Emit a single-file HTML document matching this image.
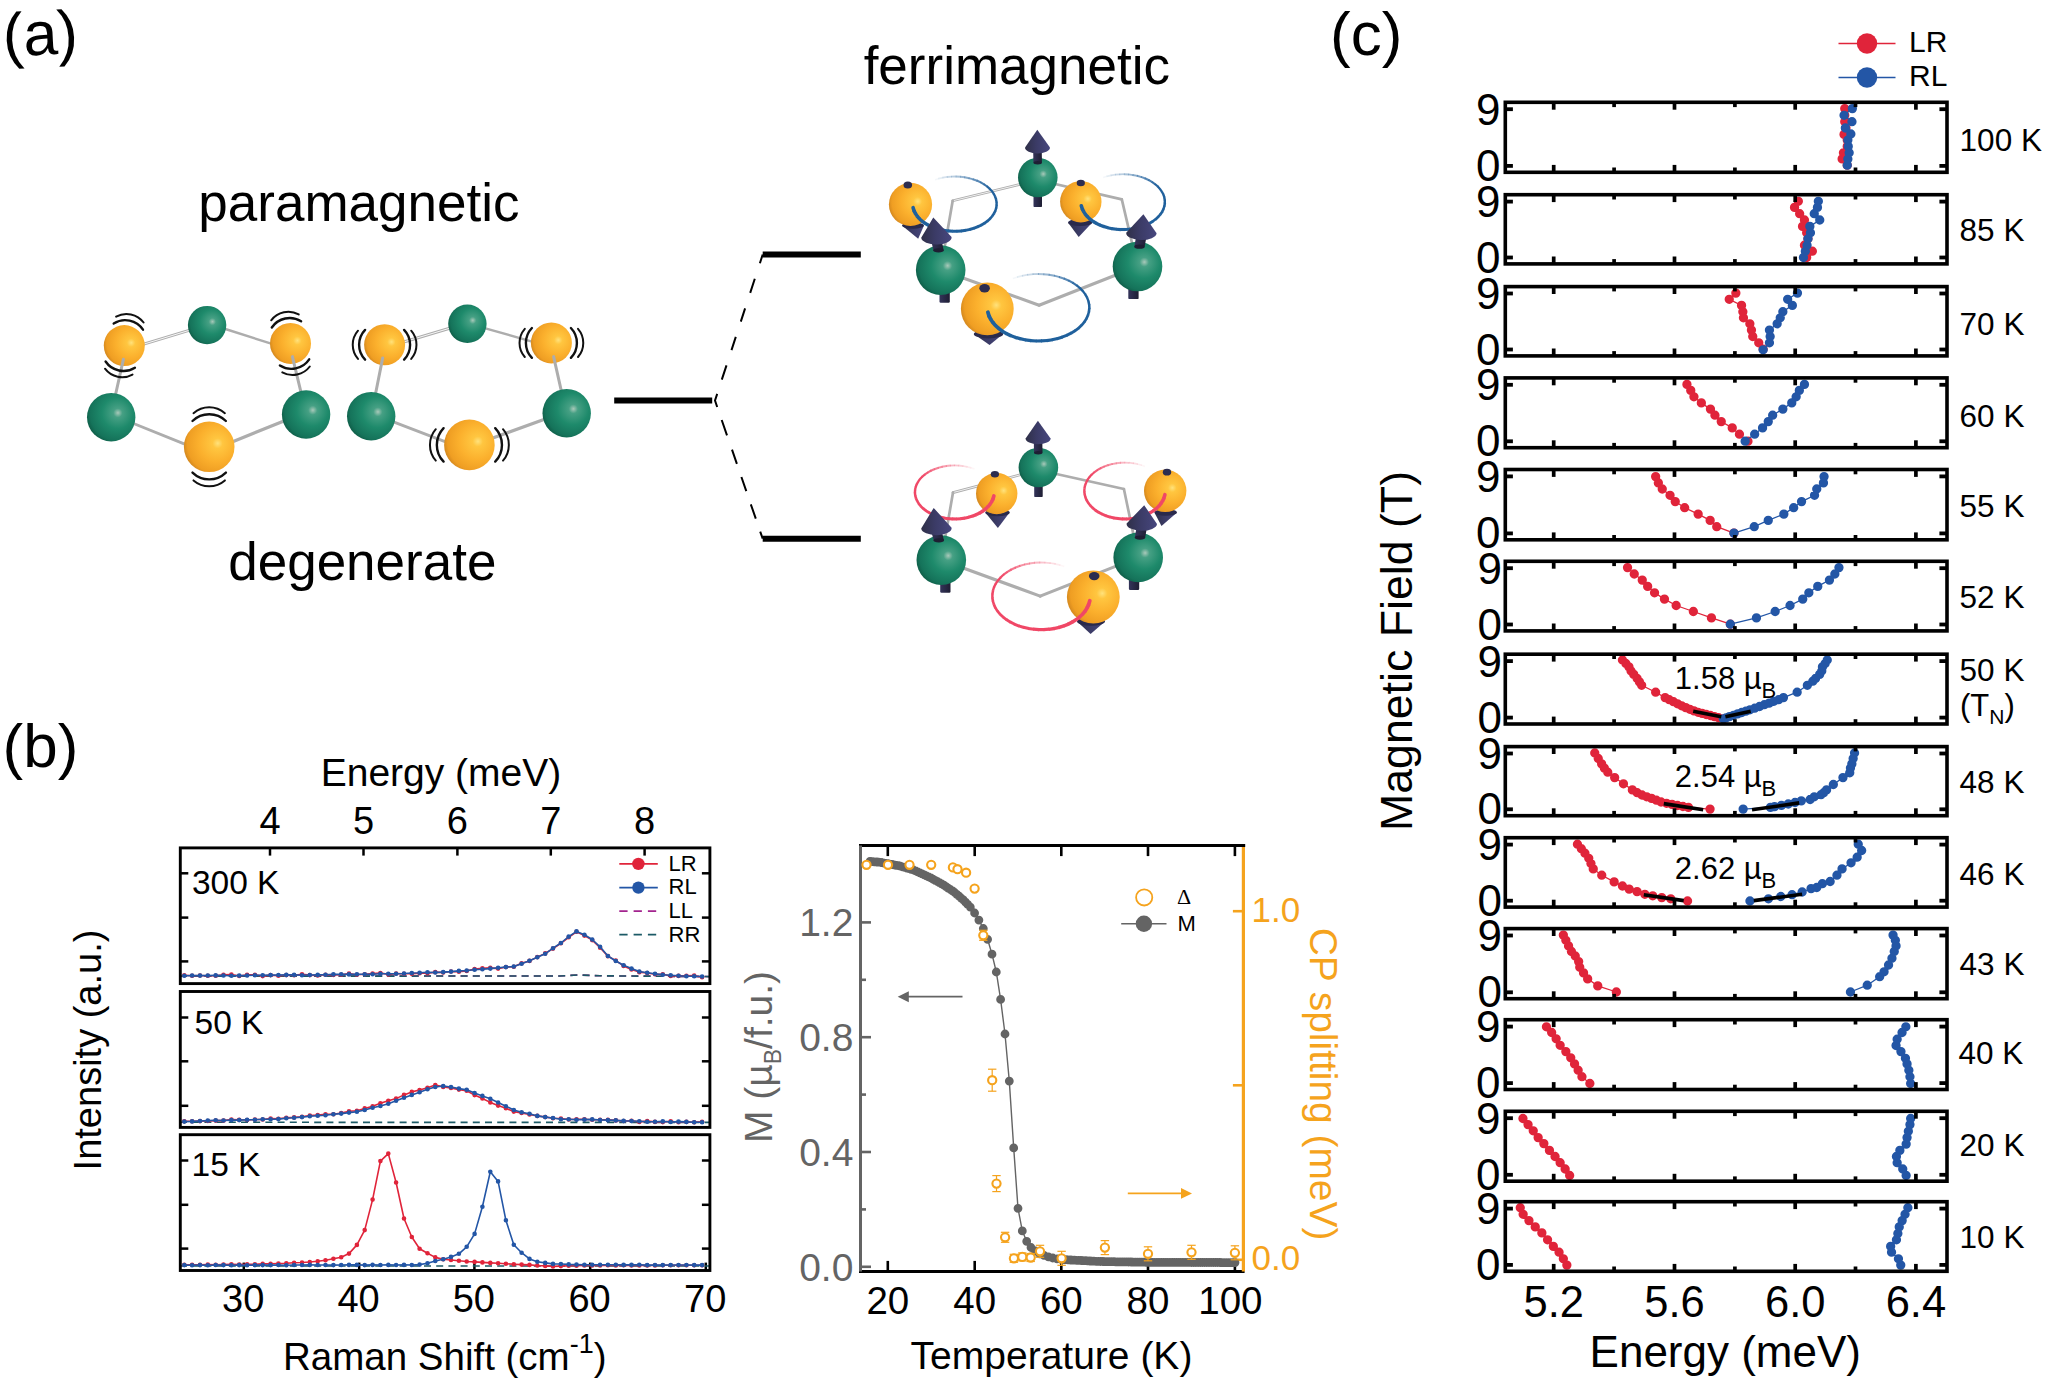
<!DOCTYPE html>
<html lang="en"><head><meta charset="utf-8"><title>Figure</title>
<style>html,body{margin:0;padding:0;background:#fff;overflow:hidden;}svg{display:block;font-family:"Liberation Sans", sans-serif;}</style></head><body>
<svg width="2048" height="1390" viewBox="0 0 2048 1390">
<defs>
<radialGradient id="gY" cx="0.64" cy="0.44" r="0.72" fx="0.67" fy="0.43">
<stop offset="0" stop-color="#FFE27C"/><stop offset="0.14" stop-color="#FFC640"/>
<stop offset="0.5" stop-color="#FBB02D"/><stop offset="0.8" stop-color="#EF9E23"/>
<stop offset="1" stop-color="#BC751A"/></radialGradient>
<radialGradient id="gG" cx="0.62" cy="0.42" r="0.72" fx="0.64" fy="0.41">
<stop offset="0" stop-color="#A9C9BA"/><stop offset="0.13" stop-color="#46A084"/>
<stop offset="0.45" stop-color="#1E8A6B"/><stop offset="0.78" stop-color="#15735A"/>
<stop offset="1" stop-color="#0A4C39"/></radialGradient>
<linearGradient id="gC" x1="0" x2="1" y1="0" y2="0">
<stop offset="0" stop-color="#2F3048"/><stop offset="0.45" stop-color="#3B3B66"/>
<stop offset="1" stop-color="#47477E"/></linearGradient>
<linearGradient id="gS" x1="0" x2="1" y1="0" y2="0">
<stop offset="0" stop-color="#34345A"/><stop offset="1" stop-color="#1E1E33"/></linearGradient>
</defs>
<rect width="2048" height="1390" fill="#fff"/>
<g id="panel-a"><text x="2.8" y="54.9" font-size="61.5" text-anchor="start" fill="#000" transform="rotate(-3 40.5 38.9)">(a)</text>
<text x="358.9" y="221.2" font-size="53" text-anchor="middle" fill="#000" >paramagnetic</text>
<text x="362.3" y="580" font-size="53" text-anchor="middle" fill="#000" >degenerate</text>
<text x="1016.8" y="83.7" font-size="53" text-anchor="middle" fill="#000" >ferrimagnetic</text>
<line x1="139.6" y1="345.4" x2="192.3" y2="329.4" stroke="#ADADAD" stroke-width="3.0" stroke-linecap="round"/><line x1="139.6" y1="345.4" x2="192.3" y2="329.4" stroke="#fff" stroke-width="0.8999999999999999" />
<line x1="222.2" y1="328" x2="274.4" y2="344.7" stroke="#ADADAD" stroke-width="2.4" stroke-linecap="round"/>
<circle cx="124.3" cy="345.6" r="20.5" fill="url(#gY)"/>
<circle cx="207.1" cy="325.1" r="19.2" fill="url(#gG)"/>
<circle cx="290.5" cy="343.4" r="20.5" fill="url(#gY)"/>
<line x1="123.4" y1="359.3" x2="115" y2="397" stroke="#ADADAD" stroke-width="3.0" stroke-linecap="round"/>
<line x1="292.4" y1="356.6" x2="301.8" y2="395.6" stroke="#ADADAD" stroke-width="3.0" stroke-linecap="round"/>
<line x1="129.2" y1="421.7" x2="189.1" y2="445.9" stroke="#ADADAD" stroke-width="2.8" stroke-linecap="round"/>
<line x1="229" y1="443.2" x2="288.9" y2="418.9" stroke="#ADADAD" stroke-width="3.2" stroke-linecap="round"/>
<circle cx="111.2" cy="417.2" r="24.2" fill="url(#gG)"/>
<circle cx="306.1" cy="414.5" r="24.2" fill="url(#gG)"/>
<circle cx="209.2" cy="446.8" r="25.3" fill="url(#gY)"/>
<path d="M113.7 323.5A21.5 21.5 0 0 1 143 329.7" fill="none" stroke="#111" stroke-width="2.4" stroke-linecap="round"/><path d="M116.1 316.6A21.5 21.5 0 0 1 143.6 322.5" fill="none" stroke="#111" stroke-width="2.0" stroke-linecap="round"/><path d="M134.9 367.7A21.5 21.5 0 0 1 105.6 361.5" fill="none" stroke="#111" stroke-width="2.4" stroke-linecap="round"/><path d="M132.5 374.6A21.5 21.5 0 0 1 105 368.7" fill="none" stroke="#111" stroke-width="2.0" stroke-linecap="round"/>
<path d="M271.8 327.5A21.5 21.5 0 0 1 301.1 321.3" fill="none" stroke="#111" stroke-width="2.4" stroke-linecap="round"/><path d="M271.2 320.3A21.5 21.5 0 0 1 298.7 314.4" fill="none" stroke="#111" stroke-width="2.0" stroke-linecap="round"/><path d="M309.2 359.3A21.5 21.5 0 0 1 279.9 365.5" fill="none" stroke="#111" stroke-width="2.4" stroke-linecap="round"/><path d="M309.8 366.5A21.5 21.5 0 0 1 282.3 372.4" fill="none" stroke="#111" stroke-width="2.0" stroke-linecap="round"/>
<path d="M192.5 421A24.0 24.0 0 0 1 225.9 421" fill="none" stroke="#111" stroke-width="2.4" stroke-linecap="round"/><path d="M193.5 413.2A24.0 24.0 0 0 1 224.9 413.2" fill="none" stroke="#111" stroke-width="2.0" stroke-linecap="round"/><path d="M225.9 472.6A24.0 24.0 0 0 1 192.5 472.6" fill="none" stroke="#111" stroke-width="2.4" stroke-linecap="round"/><path d="M224.9 480.4A24.0 24.0 0 0 1 193.5 480.4" fill="none" stroke="#111" stroke-width="2.0" stroke-linecap="round"/>
<line x1="401.3" y1="342.7" x2="452.1" y2="327.5" stroke="#ADADAD" stroke-width="3.0" stroke-linecap="round"/><line x1="401.3" y1="342.7" x2="452.1" y2="327.5" stroke="#fff" stroke-width="0.8999999999999999" />
<line x1="482.7" y1="327.6" x2="535.5" y2="342.6" stroke="#ADADAD" stroke-width="2.4" stroke-linecap="round"/>
<circle cx="384.6" cy="344.8" r="20.5" fill="url(#gY)"/>
<circle cx="467.4" cy="323.8" r="19.2" fill="url(#gG)"/>
<circle cx="551.4" cy="342.9" r="20.5" fill="url(#gY)"/>
<line x1="382.7" y1="357.9" x2="374.9" y2="397" stroke="#ADADAD" stroke-width="3.0" stroke-linecap="round"/>
<line x1="553.6" y1="356.6" x2="562.1" y2="394.3" stroke="#ADADAD" stroke-width="3.0" stroke-linecap="round"/>
<line x1="389.5" y1="420.4" x2="448.9" y2="443.1" stroke="#ADADAD" stroke-width="2.8" stroke-linecap="round"/>
<line x1="490.1" y1="438.9" x2="548.7" y2="417.8" stroke="#ADADAD" stroke-width="3.2" stroke-linecap="round"/>
<circle cx="371.2" cy="416.2" r="24.2" fill="url(#gG)"/>
<circle cx="566.7" cy="413.2" r="24.2" fill="url(#gG)"/>
<circle cx="469.4" cy="444.9" r="25.3" fill="url(#gY)"/>
<path d="M404.1 329.9A21.5 21.5 0 0 1 404.1 359.7" fill="none" stroke="#111" stroke-width="2.4" stroke-linecap="round"/><path d="M411.2 330.7A21.5 21.5 0 0 1 411.2 358.9" fill="none" stroke="#111" stroke-width="2.0" stroke-linecap="round"/><path d="M365.1 359.7A21.5 21.5 0 0 1 365.1 329.9" fill="none" stroke="#111" stroke-width="2.4" stroke-linecap="round"/><path d="M358 358.9A21.5 21.5 0 0 1 358 330.7" fill="none" stroke="#111" stroke-width="2.0" stroke-linecap="round"/>
<path d="M570.9 328A21.5 21.5 0 0 1 570.9 357.8" fill="none" stroke="#111" stroke-width="2.4" stroke-linecap="round"/><path d="M578 328.8A21.5 21.5 0 0 1 578 357" fill="none" stroke="#111" stroke-width="2.0" stroke-linecap="round"/><path d="M531.9 357.8A21.5 21.5 0 0 1 531.9 328" fill="none" stroke="#111" stroke-width="2.4" stroke-linecap="round"/><path d="M524.8 357A21.5 21.5 0 0 1 524.8 328.8" fill="none" stroke="#111" stroke-width="2.0" stroke-linecap="round"/>
<path d="M495.2 428.2A24.0 24.0 0 0 1 495.2 461.6" fill="none" stroke="#111" stroke-width="2.4" stroke-linecap="round"/><path d="M503 429.2A24.0 24.0 0 0 1 503 460.6" fill="none" stroke="#111" stroke-width="2.0" stroke-linecap="round"/><path d="M443.6 461.6A24.0 24.0 0 0 1 443.6 428.2" fill="none" stroke="#111" stroke-width="2.4" stroke-linecap="round"/><path d="M435.8 460.6A24.0 24.0 0 0 1 435.8 429.2" fill="none" stroke="#111" stroke-width="2.0" stroke-linecap="round"/>
<line x1="614.2" y1="400.5" x2="712.2" y2="400.5" stroke="#000" stroke-width="6" />
<line x1="762.7" y1="254.5" x2="860.8" y2="254.5" stroke="#000" stroke-width="6" />
<line x1="762.7" y1="538.7" x2="860.8" y2="538.7" stroke="#000" stroke-width="6" />
<path d="M762.7 254.5L759.9 263.2M754.8 278.7L750.2 292.9M745.1 308.4L740.8 321.6M735.8 336.9L731.5 350.1M726.5 365.4L721.8 379.6M717.2 393.9L715 400.5L717.2 407M721.7 420L727 435.4M732 449.7L736.9 463.9M741.4 477L746.3 491.2M750.8 504.3L755.8 518.6M760.2 531.6L762.7 538.7" fill="none" stroke="#000" stroke-width="2"/>
<line x1="1037.8" y1="180" x2="952.7" y2="200.8" stroke="#ADADAD" stroke-width="2.7" stroke-linecap="round"/><line x1="1037.8" y1="180" x2="952.7" y2="200.8" stroke="#fff" stroke-width="0.81" /><line x1="952.7" y1="200.8" x2="940.7" y2="270" stroke="#ADADAD" stroke-width="2.7" stroke-linecap="round"/><line x1="940.7" y1="270" x2="1039.1" y2="305.2" stroke="#ADADAD" stroke-width="3.1" stroke-linecap="round"/><line x1="1039.1" y1="305.2" x2="1137.5" y2="266.5" stroke="#ADADAD" stroke-width="3.1" stroke-linecap="round"/><line x1="1137.5" y1="266.5" x2="1121.8" y2="199.4" stroke="#ADADAD" stroke-width="2.7" stroke-linecap="round"/><line x1="1121.8" y1="199.4" x2="1037.8" y2="180" stroke="#ADADAD" stroke-width="2.7" stroke-linecap="round"/>
<rect x="1033.5" y="193.3" width="8.5" height="13.8" rx="1.2" fill="url(#gS)"/><circle cx="1037.8" cy="177.5" r="19.8" fill="url(#gG)"/><path d="M1033.4 162.7L1033.2 150.2L1041.8 150.2L1041.9 162.7Z" fill="url(#gS)"/><ellipse cx="1037.7" cy="162.7" rx="4.2" ry="1.7" fill="#1E1E33"/><path d="M1037.3 129.8L1025 147.6A12.5 5.8 0 0 0 1050 147.6Z" fill="url(#gC)"/>
<path d="M902 225.5L918.2 238.8L924 225.5Z" fill="url(#gC)"/><ellipse cx="913" cy="225.5" rx="11" ry="3.3" fill="#2A2A4C"/><circle cx="910.5" cy="204.4" r="21.6" fill="url(#gY)"/><ellipse cx="907.8" cy="184.9" rx="4.3" ry="3.5" fill="#2D2D50"/>
<path d="M1068 222.5L1078.7 237L1092.3 222.5Z" fill="url(#gC)"/><ellipse cx="1080.2" cy="222.5" rx="12.1" ry="3.6" fill="#2A2A4C"/><circle cx="1080.8" cy="201.7" r="20.7" fill="url(#gY)"/><ellipse cx="1080.8" cy="183" rx="4.1" ry="3.3" fill="#2D2D50"/>
<path d="M913.1 207.7L914.1 211" stroke="#1F609C" stroke-width="3.6" stroke-opacity="1.00" fill="none" stroke-linecap="round"/><path d="M914 210.5L915.5 213.7" stroke="#1F609C" stroke-width="3.6" stroke-opacity="1.00" fill="none"/><path d="M915.3 213.3L917.3 216.4" stroke="#1F609C" stroke-width="3.5" stroke-opacity="1.00" fill="none"/><path d="M917 216L919.5 218.9" stroke="#1F609C" stroke-width="3.5" stroke-opacity="1.00" fill="none"/><path d="M919.1 218.5L922.1 221.2" stroke="#1F609C" stroke-width="3.4" stroke-opacity="1.00" fill="none"/><path d="M921.7 220.8L925.1 223.3" stroke="#1F609C" stroke-width="3.4" stroke-opacity="1.00" fill="none"/><path d="M924.6 223L928.4 225.3" stroke="#1F609C" stroke-width="3.4" stroke-opacity="1.00" fill="none"/><path d="M927.9 225L932 226.9" stroke="#1F609C" stroke-width="3.3" stroke-opacity="1.00" fill="none"/><path d="M931.4 226.7L935.8 228.4" stroke="#1F609C" stroke-width="3.3" stroke-opacity="1.00" fill="none"/><path d="M935.2 228.2L939.9 229.5" stroke="#1F609C" stroke-width="3.2" stroke-opacity="1.00" fill="none"/><path d="M939.3 229.4L944.1 230.4" stroke="#1F609C" stroke-width="3.2" stroke-opacity="1.00" fill="none"/><path d="M943.4 230.3L948.4 231" stroke="#1F609C" stroke-width="3.1" stroke-opacity="1.00" fill="none"/><path d="M947.8 230.9L952.8 231.3" stroke="#1F609C" stroke-width="3.1" stroke-opacity="1.00" fill="none"/><path d="M952.2 231.3L957.3 231.2" stroke="#1F609C" stroke-width="3.1" stroke-opacity="1.00" fill="none"/><path d="M956.6 231.3L961.7 230.9" stroke="#1F609C" stroke-width="3" stroke-opacity="1.00" fill="none"/><path d="M961 231L966 230.3" stroke="#1F609C" stroke-width="3" stroke-opacity="1.00" fill="none"/><path d="M965.3 230.4L970.2 229.4" stroke="#1F609C" stroke-width="2.9" stroke-opacity="1.00" fill="none"/><path d="M969.6 229.5L974.2 228.2" stroke="#1F609C" stroke-width="2.9" stroke-opacity="1.00" fill="none"/><path d="M973.6 228.4L978 226.7" stroke="#1F609C" stroke-width="2.9" stroke-opacity="1.00" fill="none"/><path d="M977.4 226.9L981.6 225" stroke="#1F609C" stroke-width="2.8" stroke-opacity="1.00" fill="none"/><path d="M981 225.2L984.8 223" stroke="#1F609C" stroke-width="2.8" stroke-opacity="1.00" fill="none"/><path d="M984.3 223.3L987.7 220.8" stroke="#1F609C" stroke-width="2.7" stroke-opacity="1.00" fill="none"/><path d="M987.3 221.2L990.3 218.5" stroke="#1F609C" stroke-width="2.7" stroke-opacity="1.00" fill="none"/><path d="M989.9 218.8L992.4 216" stroke="#1F609C" stroke-width="2.6" stroke-opacity="1.00" fill="none"/><path d="M992.1 216.3L994.2 213.3" stroke="#1F609C" stroke-width="2.6" stroke-opacity="1.00" fill="none"/><path d="M993.9 213.7L995.5 210.5" stroke="#1F609C" stroke-width="2.6" stroke-opacity="1.00" fill="none"/><path d="M995.3 211L996.3 207.7" stroke="#1F609C" stroke-width="2.5" stroke-opacity="1.00" fill="none"/><path d="M996.2 208.1L996.7 204.8" stroke="#1F609C" stroke-width="2.5" stroke-opacity="1.00" fill="none"/><path d="M996.6 205.3L996.6 201.9" stroke="#1F609C" stroke-width="2.4" stroke-opacity="1.00" fill="none"/><path d="M996.6 202.4L996 199.1" stroke="#1F609C" stroke-width="2.4" stroke-opacity="1.00" fill="none"/><path d="M996.2 199.5L995 196.3" stroke="#1F609C" stroke-width="2.4" stroke-opacity="1.00" fill="none"/><path d="M995.2 196.7L993.6 193.5" stroke="#1F609C" stroke-width="2.3" stroke-opacity="1.00" fill="none"/><path d="M993.8 193.9L991.7 190.9" stroke="#1F609C" stroke-width="2.3" stroke-opacity="1.00" fill="none"/><path d="M992 191.3L989.4 188.5" stroke="#1F609C" stroke-width="2.2" stroke-opacity="1.00" fill="none"/><path d="M989.8 188.8L986.7 186.2" stroke="#1F609C" stroke-width="2.2" stroke-opacity="0.97" fill="none"/><path d="M987.1 186.5L983.7 184.1" stroke="#1F609C" stroke-width="2.1" stroke-opacity="0.89" fill="none"/><path d="M984.1 184.4L980.3 182.2" stroke="#1F609C" stroke-width="2.1" stroke-opacity="0.82" fill="none"/><path d="M980.8 182.4L976.7 180.5" stroke="#1F609C" stroke-width="2.1" stroke-opacity="0.74" fill="none"/><path d="M977.2 180.8L972.8 179.2" stroke="#1F609C" stroke-width="2" stroke-opacity="0.67" fill="none"/><path d="M973.4 179.4L968.7 178.1" stroke="#1F609C" stroke-width="2" stroke-opacity="0.60" fill="none"/><path d="M969.3 178.2L964.4 177.2" stroke="#1F609C" stroke-width="1.9" stroke-opacity="0.52" fill="none"/><path d="M965.1 177.3L960.1 176.7" stroke="#1F609C" stroke-width="1.9" stroke-opacity="0.45" fill="none"/><path d="M960.7 176.8L955.7 176.5" stroke="#1F609C" stroke-width="1.9" stroke-opacity="0.38" fill="none"/><path d="M956.3 176.5L951.2 176.6" stroke="#1F609C" stroke-width="1.8" stroke-opacity="0.31" fill="none"/><path d="M951.9 176.6L946.8 177" stroke="#1F609C" stroke-width="1.8" stroke-opacity="0.24" fill="none"/><path d="M947.5 176.9L942.5 177.7" stroke="#1F609C" stroke-width="1.7" stroke-opacity="0.18" fill="none"/><path d="M943.2 177.6L938.4 178.7" stroke="#1F609C" stroke-width="1.7" stroke-opacity="0.11" fill="none"/><path d="M939 178.5L935 179.7" stroke="#1F609C" stroke-width="1.6" stroke-opacity="0.05" fill="none"/>
<path d="M1081.3 205.8L1082.3 209" stroke="#1F609C" stroke-width="3.6" stroke-opacity="1.00" fill="none" stroke-linecap="round"/><path d="M1082.2 208.6L1083.7 211.8" stroke="#1F609C" stroke-width="3.6" stroke-opacity="1.00" fill="none"/><path d="M1083.5 211.4L1085.5 214.5" stroke="#1F609C" stroke-width="3.5" stroke-opacity="1.00" fill="none"/><path d="M1085.2 214.1L1087.7 217" stroke="#1F609C" stroke-width="3.5" stroke-opacity="1.00" fill="none"/><path d="M1087.3 216.6L1090.3 219.4" stroke="#1F609C" stroke-width="3.4" stroke-opacity="1.00" fill="none"/><path d="M1089.9 219L1093.3 221.5" stroke="#1F609C" stroke-width="3.4" stroke-opacity="1.00" fill="none"/><path d="M1092.8 221.2L1096.6 223.5" stroke="#1F609C" stroke-width="3.4" stroke-opacity="1.00" fill="none"/><path d="M1096.1 223.2L1100.2 225.2" stroke="#1F609C" stroke-width="3.3" stroke-opacity="1.00" fill="none"/><path d="M1099.6 225L1104 226.6" stroke="#1F609C" stroke-width="3.3" stroke-opacity="1.00" fill="none"/><path d="M1103.4 226.4L1108.1 227.8" stroke="#1F609C" stroke-width="3.2" stroke-opacity="1.00" fill="none"/><path d="M1107.5 227.7L1112.3 228.7" stroke="#1F609C" stroke-width="3.2" stroke-opacity="1.00" fill="none"/><path d="M1111.6 228.6L1116.6 229.3" stroke="#1F609C" stroke-width="3.1" stroke-opacity="1.00" fill="none"/><path d="M1116 229.2L1121 229.6" stroke="#1F609C" stroke-width="3.1" stroke-opacity="1.00" fill="none"/><path d="M1120.4 229.5L1125.5 229.5" stroke="#1F609C" stroke-width="3.1" stroke-opacity="1.00" fill="none"/><path d="M1124.8 229.6L1129.9 229.2" stroke="#1F609C" stroke-width="3" stroke-opacity="1.00" fill="none"/><path d="M1129.2 229.3L1134.2 228.6" stroke="#1F609C" stroke-width="3" stroke-opacity="1.00" fill="none"/><path d="M1133.5 228.7L1138.4 227.7" stroke="#1F609C" stroke-width="2.9" stroke-opacity="1.00" fill="none"/><path d="M1137.8 227.8L1142.4 226.4" stroke="#1F609C" stroke-width="2.9" stroke-opacity="1.00" fill="none"/><path d="M1141.8 226.6L1146.2 224.9" stroke="#1F609C" stroke-width="2.9" stroke-opacity="1.00" fill="none"/><path d="M1145.6 225.2L1149.8 223.2" stroke="#1F609C" stroke-width="2.8" stroke-opacity="1.00" fill="none"/><path d="M1149.2 223.5L1153 221.2" stroke="#1F609C" stroke-width="2.8" stroke-opacity="1.00" fill="none"/><path d="M1152.5 221.5L1155.9 219" stroke="#1F609C" stroke-width="2.7" stroke-opacity="1.00" fill="none"/><path d="M1155.5 219.4L1158.5 216.6" stroke="#1F609C" stroke-width="2.7" stroke-opacity="1.00" fill="none"/><path d="M1158.1 217L1160.6 214.1" stroke="#1F609C" stroke-width="2.6" stroke-opacity="1.00" fill="none"/><path d="M1160.3 214.5L1162.4 211.4" stroke="#1F609C" stroke-width="2.6" stroke-opacity="1.00" fill="none"/><path d="M1162.1 211.8L1163.7 208.6" stroke="#1F609C" stroke-width="2.6" stroke-opacity="1.00" fill="none"/><path d="M1163.5 209L1164.5 205.7" stroke="#1F609C" stroke-width="2.5" stroke-opacity="1.00" fill="none"/><path d="M1164.4 206.2L1164.9 202.8" stroke="#1F609C" stroke-width="2.5" stroke-opacity="1.00" fill="none"/><path d="M1164.8 203.3L1164.8 199.9" stroke="#1F609C" stroke-width="2.4" stroke-opacity="1.00" fill="none"/><path d="M1164.8 200.3L1164.2 197" stroke="#1F609C" stroke-width="2.4" stroke-opacity="1.00" fill="none"/><path d="M1164.4 197.4L1163.2 194.2" stroke="#1F609C" stroke-width="2.4" stroke-opacity="1.00" fill="none"/><path d="M1163.4 194.6L1161.8 191.4" stroke="#1F609C" stroke-width="2.3" stroke-opacity="1.00" fill="none"/><path d="M1162 191.8L1159.9 188.8" stroke="#1F609C" stroke-width="2.3" stroke-opacity="1.00" fill="none"/><path d="M1160.2 189.2L1157.6 186.3" stroke="#1F609C" stroke-width="2.2" stroke-opacity="1.00" fill="none"/><path d="M1158 186.6L1154.9 184" stroke="#1F609C" stroke-width="2.2" stroke-opacity="0.97" fill="none"/><path d="M1155.3 184.3L1151.9 181.8" stroke="#1F609C" stroke-width="2.1" stroke-opacity="0.89" fill="none"/><path d="M1152.3 182.1L1148.5 179.9" stroke="#1F609C" stroke-width="2.1" stroke-opacity="0.82" fill="none"/><path d="M1149 180.2L1144.9 178.3" stroke="#1F609C" stroke-width="2.1" stroke-opacity="0.74" fill="none"/><path d="M1145.4 178.5L1141 176.9" stroke="#1F609C" stroke-width="2" stroke-opacity="0.67" fill="none"/><path d="M1141.6 177.1L1136.9 175.8" stroke="#1F609C" stroke-width="2" stroke-opacity="0.60" fill="none"/><path d="M1137.5 175.9L1132.6 175" stroke="#1F609C" stroke-width="1.9" stroke-opacity="0.52" fill="none"/><path d="M1133.3 175.1L1128.3 174.4" stroke="#1F609C" stroke-width="1.9" stroke-opacity="0.45" fill="none"/><path d="M1128.9 174.5L1123.9 174.2" stroke="#1F609C" stroke-width="1.9" stroke-opacity="0.38" fill="none"/><path d="M1124.5 174.2L1119.4 174.3" stroke="#1F609C" stroke-width="1.8" stroke-opacity="0.31" fill="none"/><path d="M1120.1 174.3L1115 174.7" stroke="#1F609C" stroke-width="1.8" stroke-opacity="0.24" fill="none"/><path d="M1115.7 174.6L1110.7 175.4" stroke="#1F609C" stroke-width="1.7" stroke-opacity="0.18" fill="none"/><path d="M1111.4 175.3L1106.6 176.4" stroke="#1F609C" stroke-width="1.7" stroke-opacity="0.11" fill="none"/><path d="M1107.2 176.2L1103.2 177.4" stroke="#1F609C" stroke-width="1.6" stroke-opacity="0.05" fill="none"/>
<rect x="939.5" y="290.9" width="10.3" height="11.8" rx="1.2" fill="url(#gS)"/><circle cx="940.7" cy="270.1" r="24.8" fill="url(#gG)"/><path d="M933.4 250.3L931.2 240.6L941.6 240.6L943.7 250.3Z" fill="url(#gS)"/><ellipse cx="938.5" cy="250.3" rx="5.2" ry="2.1" fill="#1E1E33"/><path d="M933.3 217.4L921.2 237.8A15.2 7 0 0 0 951.6 237.1Z" fill="url(#gC)"/>
<rect x="1128.3" y="287.3" width="10.3" height="11.8" rx="1.2" fill="url(#gS)"/><circle cx="1137.5" cy="266.5" r="24.8" fill="url(#gG)"/><path d="M1134.3 246.7L1136.2 236.2L1146.6 236.2L1144.6 246.7Z" fill="url(#gS)"/><ellipse cx="1139.5" cy="246.7" rx="5.2" ry="2.1" fill="#1E1E33"/><path d="M1143.4 214.3L1126.2 232.8A15.2 7 0 0 0 1156.6 233.3Z" fill="url(#gC)"/>
<path d="M973.8 334L989.6 345L1003.1 334Z" fill="url(#gC)"/><ellipse cx="988.5" cy="334" rx="14.7" ry="4.4" fill="#2A2A4C"/><circle cx="987.3" cy="308.8" r="26.4" fill="url(#gY)"/><ellipse cx="984.6" cy="288.3" rx="5.3" ry="4.2" fill="#2D2D50"/>
<path d="M987.9 312.2L989.1 316.2" stroke="#1F609C" stroke-width="3.8" stroke-opacity="1.00" fill="none" stroke-linecap="round"/><path d="M988.9 315.7L990.8 319.5" stroke="#1F609C" stroke-width="3.8" stroke-opacity="1.00" fill="none"/><path d="M990.5 319L993 322.8" stroke="#1F609C" stroke-width="3.7" stroke-opacity="1.00" fill="none"/><path d="M992.7 322.3L995.7 325.9" stroke="#1F609C" stroke-width="3.7" stroke-opacity="1.00" fill="none"/><path d="M995.3 325.4L999 328.7" stroke="#1F609C" stroke-width="3.6" stroke-opacity="1.00" fill="none"/><path d="M998.4 328.3L1002.6 331.4" stroke="#1F609C" stroke-width="3.6" stroke-opacity="1.00" fill="none"/><path d="M1002 331L1006.6 333.7" stroke="#1F609C" stroke-width="3.5" stroke-opacity="1.00" fill="none"/><path d="M1006 333.4L1011.1 335.8" stroke="#1F609C" stroke-width="3.5" stroke-opacity="1.00" fill="none"/><path d="M1010.4 335.5L1015.8 337.5" stroke="#1F609C" stroke-width="3.4" stroke-opacity="1.00" fill="none"/><path d="M1015 337.3L1020.7 338.9" stroke="#1F609C" stroke-width="3.4" stroke-opacity="1.00" fill="none"/><path d="M1020 338.7L1025.9 340" stroke="#1F609C" stroke-width="3.3" stroke-opacity="1.00" fill="none"/><path d="M1025.1 339.8L1031.2 340.7" stroke="#1F609C" stroke-width="3.3" stroke-opacity="1.00" fill="none"/><path d="M1030.4 340.6L1036.6 341" stroke="#1F609C" stroke-width="3.2" stroke-opacity="1.00" fill="none"/><path d="M1035.8 341L1042 340.9" stroke="#1F609C" stroke-width="3.2" stroke-opacity="1.00" fill="none"/><path d="M1041.2 340.9L1047.4 340.5" stroke="#1F609C" stroke-width="3.2" stroke-opacity="1.00" fill="none"/><path d="M1046.6 340.6L1052.7 339.7" stroke="#1F609C" stroke-width="3.1" stroke-opacity="1.00" fill="none"/><path d="M1051.9 339.8L1057.8 338.5" stroke="#1F609C" stroke-width="3.1" stroke-opacity="1.00" fill="none"/><path d="M1057 338.7L1062.7 337" stroke="#1F609C" stroke-width="3" stroke-opacity="1.00" fill="none"/><path d="M1061.9 337.2L1067.3 335.1" stroke="#1F609C" stroke-width="3" stroke-opacity="1.00" fill="none"/><path d="M1066.6 335.4L1071.6 332.9" stroke="#1F609C" stroke-width="2.9" stroke-opacity="1.00" fill="none"/><path d="M1071 333.3L1075.5 330.5" stroke="#1F609C" stroke-width="2.9" stroke-opacity="1.00" fill="none"/><path d="M1074.9 330.9L1079 327.8" stroke="#1F609C" stroke-width="2.8" stroke-opacity="1.00" fill="none"/><path d="M1078.5 328.2L1082 324.8" stroke="#1F609C" stroke-width="2.8" stroke-opacity="1.00" fill="none"/><path d="M1081.6 325.3L1084.6 321.7" stroke="#1F609C" stroke-width="2.7" stroke-opacity="1.00" fill="none"/><path d="M1084.2 322.2L1086.6 318.4" stroke="#1F609C" stroke-width="2.7" stroke-opacity="1.00" fill="none"/><path d="M1086.3 318.9L1088.1 315" stroke="#1F609C" stroke-width="2.7" stroke-opacity="1.00" fill="none"/><path d="M1087.9 315.5L1089 311.5" stroke="#1F609C" stroke-width="2.6" stroke-opacity="1.00" fill="none"/><path d="M1088.9 312L1089.4 307.9" stroke="#1F609C" stroke-width="2.6" stroke-opacity="1.00" fill="none"/><path d="M1089.4 308.5L1089.2 304.4" stroke="#1F609C" stroke-width="2.5" stroke-opacity="1.00" fill="none"/><path d="M1089.2 304.9L1088.4 300.9" stroke="#1F609C" stroke-width="2.5" stroke-opacity="1.00" fill="none"/><path d="M1088.5 301.4L1087 297.4" stroke="#1F609C" stroke-width="2.4" stroke-opacity="1.00" fill="none"/><path d="M1087.3 297.9L1085.1 294.1" stroke="#1F609C" stroke-width="2.4" stroke-opacity="1.00" fill="none"/><path d="M1085.5 294.6L1082.7 290.9" stroke="#1F609C" stroke-width="2.3" stroke-opacity="1.00" fill="none"/><path d="M1083.1 291.4L1079.8 287.9" stroke="#1F609C" stroke-width="2.3" stroke-opacity="1.00" fill="none"/><path d="M1080.3 288.4L1076.4 285.2" stroke="#1F609C" stroke-width="2.2" stroke-opacity="0.97" fill="none"/><path d="M1076.9 285.6L1072.6 282.6" stroke="#1F609C" stroke-width="2.2" stroke-opacity="0.89" fill="none"/><path d="M1073.2 283L1068.4 280.4" stroke="#1F609C" stroke-width="2.1" stroke-opacity="0.82" fill="none"/><path d="M1069 280.7L1063.8 278.5" stroke="#1F609C" stroke-width="2.1" stroke-opacity="0.74" fill="none"/><path d="M1064.5 278.7L1059 276.9" stroke="#1F609C" stroke-width="2.1" stroke-opacity="0.67" fill="none"/><path d="M1059.8 277.1L1054 275.6" stroke="#1F609C" stroke-width="2" stroke-opacity="0.60" fill="none"/><path d="M1054.7 275.8L1048.7 274.7" stroke="#1F609C" stroke-width="2" stroke-opacity="0.52" fill="none"/><path d="M1049.5 274.8L1043.4 274.2" stroke="#1F609C" stroke-width="1.9" stroke-opacity="0.45" fill="none"/><path d="M1044.2 274.2L1038 274" stroke="#1F609C" stroke-width="1.9" stroke-opacity="0.38" fill="none"/><path d="M1038.8 274L1032.6 274.2" stroke="#1F609C" stroke-width="1.8" stroke-opacity="0.31" fill="none"/><path d="M1033.4 274.2L1027.2 274.8" stroke="#1F609C" stroke-width="1.8" stroke-opacity="0.24" fill="none"/><path d="M1028 274.7L1022 275.8" stroke="#1F609C" stroke-width="1.7" stroke-opacity="0.18" fill="none"/><path d="M1022.8 275.6L1017 277.1" stroke="#1F609C" stroke-width="1.7" stroke-opacity="0.11" fill="none"/><path d="M1017.7 276.9L1012.9 278.5" stroke="#1F609C" stroke-width="1.6" stroke-opacity="0.05" fill="none"/>
<line x1="1038.4" y1="470" x2="953" y2="492.6" stroke="#ADADAD" stroke-width="2.7" stroke-linecap="round"/><line x1="1038.4" y1="470" x2="953" y2="492.6" stroke="#fff" stroke-width="0.81" /><line x1="953" y1="492.6" x2="941.3" y2="560" stroke="#ADADAD" stroke-width="2.7" stroke-linecap="round"/><line x1="941.3" y1="560" x2="1040.2" y2="596.1" stroke="#ADADAD" stroke-width="3.1" stroke-linecap="round"/><line x1="1040.2" y1="596.1" x2="1138.2" y2="557.4" stroke="#ADADAD" stroke-width="3.1" stroke-linecap="round"/><line x1="1138.2" y1="557.4" x2="1123.9" y2="489" stroke="#ADADAD" stroke-width="2.7" stroke-linecap="round"/><line x1="1123.9" y1="489" x2="1038.4" y2="470" stroke="#ADADAD" stroke-width="2.7" stroke-linecap="round"/>
<rect x="1034.2" y="483.3" width="8.5" height="13.8" rx="1.2" fill="url(#gS)"/><circle cx="1038.4" cy="467.5" r="19.8" fill="url(#gG)"/><path d="M1034 452.7L1033.8 441L1042.3 441L1042.5 452.7Z" fill="url(#gS)"/><ellipse cx="1038.2" cy="452.7" rx="4.2" ry="1.7" fill="#1E1E33"/><path d="M1037.9 420.7L1025.6 438.4A12.5 5.8 0 0 0 1050.6 438.4Z" fill="url(#gC)"/>
<path d="M985.3 512.6L997.9 527.9L1009.6 512.6Z" fill="url(#gC)"/><ellipse cx="997.5" cy="512.6" rx="12.2" ry="3.6" fill="#2A2A4C"/><circle cx="996.7" cy="493.5" r="20.7" fill="url(#gY)"/><ellipse cx="994.9" cy="474.3" rx="4.1" ry="3.3" fill="#2D2D50"/>
<path d="M1154.4 512.4L1161.5 526L1177 512.4Z" fill="url(#gC)"/><ellipse cx="1165.7" cy="512.4" rx="11.3" ry="3.4" fill="#2A2A4C"/><circle cx="1165.2" cy="490.8" r="21.2" fill="url(#gY)"/><ellipse cx="1167" cy="472.2" rx="4.2" ry="3.4" fill="#2D2D50"/>
<path d="M993.9 495.9L992.9 499.1" stroke="#F04766" stroke-width="3.6" stroke-opacity="1.00" fill="none" stroke-linecap="round"/><path d="M993.1 498.7L991.6 501.8" stroke="#F04766" stroke-width="3.6" stroke-opacity="1.00" fill="none"/><path d="M991.9 501.4L989.9 504.4" stroke="#F04766" stroke-width="3.5" stroke-opacity="1.00" fill="none"/><path d="M990.2 504.1L987.8 506.9" stroke="#F04766" stroke-width="3.5" stroke-opacity="1.00" fill="none"/><path d="M988.1 506.5L985.3 509.2" stroke="#F04766" stroke-width="3.4" stroke-opacity="1.00" fill="none"/><path d="M985.7 508.9L982.5 511.3" stroke="#F04766" stroke-width="3.4" stroke-opacity="1.00" fill="none"/><path d="M982.9 511L979.3 513.2" stroke="#F04766" stroke-width="3.4" stroke-opacity="1.00" fill="none"/><path d="M979.8 512.9L975.9 514.8" stroke="#F04766" stroke-width="3.3" stroke-opacity="1.00" fill="none"/><path d="M976.4 514.6L972.2 516.2" stroke="#F04766" stroke-width="3.3" stroke-opacity="1.00" fill="none"/><path d="M972.8 516L968.3 517.3" stroke="#F04766" stroke-width="3.2" stroke-opacity="1.00" fill="none"/><path d="M968.9 517.2L964.3 518.2" stroke="#F04766" stroke-width="3.2" stroke-opacity="1.00" fill="none"/><path d="M964.9 518.1L960.2 518.7" stroke="#F04766" stroke-width="3.1" stroke-opacity="1.00" fill="none"/><path d="M960.8 518.7L956 519" stroke="#F04766" stroke-width="3.1" stroke-opacity="1.00" fill="none"/><path d="M956.6 519L951.8 518.9" stroke="#F04766" stroke-width="3.1" stroke-opacity="1.00" fill="none"/><path d="M952.4 519L947.6 518.6" stroke="#F04766" stroke-width="3" stroke-opacity="1.00" fill="none"/><path d="M948.2 518.7L943.5 517.9" stroke="#F04766" stroke-width="3" stroke-opacity="1.00" fill="none"/><path d="M944.1 518L939.5 517" stroke="#F04766" stroke-width="2.9" stroke-opacity="1.00" fill="none"/><path d="M940.1 517.1L935.7 515.8" stroke="#F04766" stroke-width="2.9" stroke-opacity="1.00" fill="none"/><path d="M936.3 516L932.1 514.3" stroke="#F04766" stroke-width="2.9" stroke-opacity="1.00" fill="none"/><path d="M932.6 514.5L928.8 512.6" stroke="#F04766" stroke-width="2.8" stroke-opacity="1.00" fill="none"/><path d="M929.3 512.8L925.7 510.6" stroke="#F04766" stroke-width="2.8" stroke-opacity="1.00" fill="none"/><path d="M926.2 510.9L923 508.4" stroke="#F04766" stroke-width="2.7" stroke-opacity="1.00" fill="none"/><path d="M923.4 508.8L920.6 506.1" stroke="#F04766" stroke-width="2.7" stroke-opacity="1.00" fill="none"/><path d="M921 506.4L918.6 503.6" stroke="#F04766" stroke-width="2.6" stroke-opacity="1.00" fill="none"/><path d="M918.9 503.9L917.1 500.9" stroke="#F04766" stroke-width="2.6" stroke-opacity="1.00" fill="none"/><path d="M917.3 501.3L915.9 498.2" stroke="#F04766" stroke-width="2.6" stroke-opacity="1.00" fill="none"/><path d="M916.1 498.6L915.2 495.4" stroke="#F04766" stroke-width="2.5" stroke-opacity="1.00" fill="none"/><path d="M915.3 495.8L914.9 492.6" stroke="#F04766" stroke-width="2.5" stroke-opacity="1.00" fill="none"/><path d="M914.9 493L915.1 489.7" stroke="#F04766" stroke-width="2.4" stroke-opacity="1.00" fill="none"/><path d="M915 490.1L915.7 486.9" stroke="#F04766" stroke-width="2.4" stroke-opacity="1.00" fill="none"/><path d="M915.6 487.3L916.7 484.1" stroke="#F04766" stroke-width="2.4" stroke-opacity="1.00" fill="none"/><path d="M916.6 484.6L918.2 481.5" stroke="#F04766" stroke-width="2.3" stroke-opacity="1.00" fill="none"/><path d="M918 481.9L920.1 478.9" stroke="#F04766" stroke-width="2.3" stroke-opacity="1.00" fill="none"/><path d="M919.8 479.3L922.4 476.5" stroke="#F04766" stroke-width="2.2" stroke-opacity="1.00" fill="none"/><path d="M922 476.9L925 474.3" stroke="#F04766" stroke-width="2.2" stroke-opacity="0.97" fill="none"/><path d="M924.6 474.6L928 472.3" stroke="#F04766" stroke-width="2.1" stroke-opacity="0.89" fill="none"/><path d="M927.5 472.6L931.3 470.5" stroke="#F04766" stroke-width="2.1" stroke-opacity="0.82" fill="none"/><path d="M930.8 470.8L934.8 469" stroke="#F04766" stroke-width="2.1" stroke-opacity="0.74" fill="none"/><path d="M934.3 469.2L938.6 467.7" stroke="#F04766" stroke-width="2" stroke-opacity="0.67" fill="none"/><path d="M938 467.9L942.5 466.7" stroke="#F04766" stroke-width="2" stroke-opacity="0.60" fill="none"/><path d="M941.9 466.8L946.6 466" stroke="#F04766" stroke-width="1.9" stroke-opacity="0.52" fill="none"/><path d="M946 466L950.7 465.5" stroke="#F04766" stroke-width="1.9" stroke-opacity="0.45" fill="none"/><path d="M950.1 465.6L954.9 465.4" stroke="#F04766" stroke-width="1.9" stroke-opacity="0.38" fill="none"/><path d="M954.3 465.4L959.1 465.6" stroke="#F04766" stroke-width="1.8" stroke-opacity="0.31" fill="none"/><path d="M958.5 465.5L963.3 466.1" stroke="#F04766" stroke-width="1.8" stroke-opacity="0.24" fill="none"/><path d="M962.7 466L967.4 466.8" stroke="#F04766" stroke-width="1.7" stroke-opacity="0.18" fill="none"/><path d="M966.8 466.7L971.3 467.9" stroke="#F04766" stroke-width="1.7" stroke-opacity="0.11" fill="none"/><path d="M970.7 467.7L974.5 469" stroke="#F04766" stroke-width="1.6" stroke-opacity="0.05" fill="none"/>
<path d="M1164.9 494.7L1163.9 498.1" stroke="#F04766" stroke-width="3.6" stroke-opacity="1.00" fill="none" stroke-linecap="round"/><path d="M1164.1 497.7L1162.6 500.9" stroke="#F04766" stroke-width="3.6" stroke-opacity="1.00" fill="none"/><path d="M1162.8 500.5L1160.8 503.7" stroke="#F04766" stroke-width="3.5" stroke-opacity="1.00" fill="none"/><path d="M1161.1 503.3L1158.7 506.3" stroke="#F04766" stroke-width="3.5" stroke-opacity="1.00" fill="none"/><path d="M1159 505.9L1156.1 508.7" stroke="#F04766" stroke-width="3.4" stroke-opacity="1.00" fill="none"/><path d="M1156.5 508.3L1153.2 510.9" stroke="#F04766" stroke-width="3.4" stroke-opacity="1.00" fill="none"/><path d="M1153.7 510.6L1150 512.9" stroke="#F04766" stroke-width="3.4" stroke-opacity="1.00" fill="none"/><path d="M1150.5 512.6L1146.5 514.6" stroke="#F04766" stroke-width="3.3" stroke-opacity="1.00" fill="none"/><path d="M1147.1 514.4L1142.8 516.1" stroke="#F04766" stroke-width="3.3" stroke-opacity="1.00" fill="none"/><path d="M1143.3 515.9L1138.8 517.3" stroke="#F04766" stroke-width="3.2" stroke-opacity="1.00" fill="none"/><path d="M1139.4 517.1L1134.7 518.1" stroke="#F04766" stroke-width="3.2" stroke-opacity="1.00" fill="none"/><path d="M1135.3 518L1130.5 518.7" stroke="#F04766" stroke-width="3.1" stroke-opacity="1.00" fill="none"/><path d="M1131.1 518.7L1126.2 519" stroke="#F04766" stroke-width="3.1" stroke-opacity="1.00" fill="none"/><path d="M1126.9 519L1121.9 518.9" stroke="#F04766" stroke-width="3.1" stroke-opacity="1.00" fill="none"/><path d="M1122.6 519L1117.7 518.6" stroke="#F04766" stroke-width="3" stroke-opacity="1.00" fill="none"/><path d="M1118.3 518.6L1113.5 517.9" stroke="#F04766" stroke-width="3" stroke-opacity="1.00" fill="none"/><path d="M1114.1 518L1109.4 516.9" stroke="#F04766" stroke-width="2.9" stroke-opacity="1.00" fill="none"/><path d="M1110 517.1L1105.5 515.6" stroke="#F04766" stroke-width="2.9" stroke-opacity="1.00" fill="none"/><path d="M1106.1 515.8L1101.9 514" stroke="#F04766" stroke-width="2.9" stroke-opacity="1.00" fill="none"/><path d="M1102.4 514.3L1098.5 512.2" stroke="#F04766" stroke-width="2.8" stroke-opacity="1.00" fill="none"/><path d="M1098.9 512.5L1095.3 510.2" stroke="#F04766" stroke-width="2.8" stroke-opacity="1.00" fill="none"/><path d="M1095.8 510.5L1092.6 507.9" stroke="#F04766" stroke-width="2.7" stroke-opacity="1.00" fill="none"/><path d="M1093 508.2L1090.1 505.4" stroke="#F04766" stroke-width="2.7" stroke-opacity="1.00" fill="none"/><path d="M1090.5 505.8L1088.1 502.8" stroke="#F04766" stroke-width="2.6" stroke-opacity="1.00" fill="none"/><path d="M1088.4 503.2L1086.5 500" stroke="#F04766" stroke-width="2.6" stroke-opacity="1.00" fill="none"/><path d="M1086.7 500.4L1085.3 497.1" stroke="#F04766" stroke-width="2.6" stroke-opacity="1.00" fill="none"/><path d="M1085.5 497.5L1084.6 494.2" stroke="#F04766" stroke-width="2.5" stroke-opacity="1.00" fill="none"/><path d="M1084.7 494.6L1084.3 491.2" stroke="#F04766" stroke-width="2.5" stroke-opacity="1.00" fill="none"/><path d="M1084.3 491.6L1084.5 488.2" stroke="#F04766" stroke-width="2.4" stroke-opacity="1.00" fill="none"/><path d="M1084.4 488.6L1085.1 485.2" stroke="#F04766" stroke-width="2.4" stroke-opacity="1.00" fill="none"/><path d="M1085 485.7L1086.2 482.3" stroke="#F04766" stroke-width="2.4" stroke-opacity="1.00" fill="none"/><path d="M1086 482.8L1087.7 479.5" stroke="#F04766" stroke-width="2.3" stroke-opacity="1.00" fill="none"/><path d="M1087.4 479.9L1089.6 476.8" stroke="#F04766" stroke-width="2.3" stroke-opacity="1.00" fill="none"/><path d="M1089.3 477.2L1091.9 474.3" stroke="#F04766" stroke-width="2.2" stroke-opacity="1.00" fill="none"/><path d="M1091.6 474.7L1094.6 472" stroke="#F04766" stroke-width="2.2" stroke-opacity="0.97" fill="none"/><path d="M1094.2 472.3L1097.7 469.9" stroke="#F04766" stroke-width="2.1" stroke-opacity="0.89" fill="none"/><path d="M1097.2 470.2L1101 468" stroke="#F04766" stroke-width="2.1" stroke-opacity="0.82" fill="none"/><path d="M1100.5 468.3L1104.6 466.4" stroke="#F04766" stroke-width="2.1" stroke-opacity="0.74" fill="none"/><path d="M1104 466.6L1108.4 465" stroke="#F04766" stroke-width="2" stroke-opacity="0.67" fill="none"/><path d="M1107.8 465.2L1112.5 463.9" stroke="#F04766" stroke-width="2" stroke-opacity="0.60" fill="none"/><path d="M1111.8 464.1L1116.6 463.2" stroke="#F04766" stroke-width="1.9" stroke-opacity="0.52" fill="none"/><path d="M1116 463.3L1120.9 462.7" stroke="#F04766" stroke-width="1.9" stroke-opacity="0.45" fill="none"/><path d="M1120.2 462.8L1125.2 462.6" stroke="#F04766" stroke-width="1.9" stroke-opacity="0.38" fill="none"/><path d="M1124.5 462.6L1129.4 462.8" stroke="#F04766" stroke-width="1.8" stroke-opacity="0.31" fill="none"/><path d="M1128.8 462.7L1133.7 463.3" stroke="#F04766" stroke-width="1.8" stroke-opacity="0.24" fill="none"/><path d="M1133 463.2L1137.8 464.1" stroke="#F04766" stroke-width="1.7" stroke-opacity="0.18" fill="none"/><path d="M1137.2 464L1141.8 465.2" stroke="#F04766" stroke-width="1.7" stroke-opacity="0.11" fill="none"/><path d="M1141.2 465L1145 466.4" stroke="#F04766" stroke-width="1.6" stroke-opacity="0.05" fill="none"/>
<rect x="940.2" y="580.9" width="10.3" height="11.8" rx="1.2" fill="url(#gS)"/><circle cx="941.3" cy="560.1" r="24.8" fill="url(#gG)"/><path d="M933.7 540.3L931.2 531.3L941.6 531.3L944 540.3Z" fill="url(#gS)"/><ellipse cx="938.8" cy="540.3" rx="5.2" ry="2.1" fill="#1E1E33"/><path d="M933.7 507.9L921.2 528.5A15.2 7 0 0 0 951.6 527.8Z" fill="url(#gC)"/>
<rect x="1128.9" y="578.2" width="10.3" height="11.8" rx="1.2" fill="url(#gS)"/><circle cx="1138.2" cy="557.4" r="24.8" fill="url(#gG)"/><path d="M1134.8 537.6L1136.6 527L1147 527L1145.2 537.6Z" fill="url(#gS)"/><ellipse cx="1140" cy="537.6" rx="5.2" ry="2.1" fill="#1E1E33"/><path d="M1144.2 505.2L1126.6 523.6A15.2 7 0 0 0 1157 524.1Z" fill="url(#gC)"/>
<path d="M1077.1 621.5L1090.6 634.1L1105 621.5Z" fill="url(#gC)"/><ellipse cx="1091" cy="621.5" rx="14" ry="4.2" fill="#2A2A4C"/><circle cx="1093.3" cy="597" r="26.4" fill="url(#gY)"/><ellipse cx="1094.2" cy="576.1" rx="5.3" ry="4.2" fill="#2D2D50"/>
<path d="M1089.8 600.8L1088.6 604.8" stroke="#F04766" stroke-width="3.8" stroke-opacity="1.00" fill="none" stroke-linecap="round"/><path d="M1088.8 604.3L1087 608.1" stroke="#F04766" stroke-width="3.8" stroke-opacity="1.00" fill="none"/><path d="M1087.3 607.6L1084.9 611.4" stroke="#F04766" stroke-width="3.7" stroke-opacity="1.00" fill="none"/><path d="M1085.3 610.9L1082.4 614.4" stroke="#F04766" stroke-width="3.7" stroke-opacity="1.00" fill="none"/><path d="M1082.8 614L1079.3 617.3" stroke="#F04766" stroke-width="3.6" stroke-opacity="1.00" fill="none"/><path d="M1079.8 616.9L1075.9 619.9" stroke="#F04766" stroke-width="3.6" stroke-opacity="1.00" fill="none"/><path d="M1076.4 619.5L1072 622.3" stroke="#F04766" stroke-width="3.5" stroke-opacity="1.00" fill="none"/><path d="M1072.6 621.9L1067.8 624.4" stroke="#F04766" stroke-width="3.5" stroke-opacity="1.00" fill="none"/><path d="M1068.5 624.1L1063.3 626.1" stroke="#F04766" stroke-width="3.4" stroke-opacity="1.00" fill="none"/><path d="M1064 625.9L1058.6 627.5" stroke="#F04766" stroke-width="3.4" stroke-opacity="1.00" fill="none"/><path d="M1059.3 627.3L1053.7 628.6" stroke="#F04766" stroke-width="3.3" stroke-opacity="1.00" fill="none"/><path d="M1054.4 628.5L1048.6 629.3" stroke="#F04766" stroke-width="3.3" stroke-opacity="1.00" fill="none"/><path d="M1049.4 629.2L1043.5 629.7" stroke="#F04766" stroke-width="3.2" stroke-opacity="1.00" fill="none"/><path d="M1044.3 629.6L1038.3 629.6" stroke="#F04766" stroke-width="3.2" stroke-opacity="1.00" fill="none"/><path d="M1039.1 629.7L1033.2 629.2" stroke="#F04766" stroke-width="3.2" stroke-opacity="1.00" fill="none"/><path d="M1034 629.3L1028.1 628.5" stroke="#F04766" stroke-width="3.1" stroke-opacity="1.00" fill="none"/><path d="M1028.9 628.6L1023.3 627.3" stroke="#F04766" stroke-width="3.1" stroke-opacity="1.00" fill="none"/><path d="M1024 627.5L1018.6 625.9" stroke="#F04766" stroke-width="3" stroke-opacity="1.00" fill="none"/><path d="M1019.2 626.1L1014.1 624.1" stroke="#F04766" stroke-width="3" stroke-opacity="1.00" fill="none"/><path d="M1014.8 624.3L1010 621.9" stroke="#F04766" stroke-width="2.9" stroke-opacity="1.00" fill="none"/><path d="M1010.6 622.3L1006.2 619.5" stroke="#F04766" stroke-width="2.9" stroke-opacity="1.00" fill="none"/><path d="M1006.7 619.9L1002.8 616.9" stroke="#F04766" stroke-width="2.8" stroke-opacity="1.00" fill="none"/><path d="M1003.3 617.3L999.8 614" stroke="#F04766" stroke-width="2.8" stroke-opacity="1.00" fill="none"/><path d="M1000.2 614.4L997.3 610.9" stroke="#F04766" stroke-width="2.7" stroke-opacity="1.00" fill="none"/><path d="M997.6 611.4L995.3 607.6" stroke="#F04766" stroke-width="2.7" stroke-opacity="1.00" fill="none"/><path d="M995.5 608.1L993.8 604.2" stroke="#F04766" stroke-width="2.7" stroke-opacity="1.00" fill="none"/><path d="M994 604.7L992.8 600.8" stroke="#F04766" stroke-width="2.6" stroke-opacity="1.00" fill="none"/><path d="M992.9 601.3L992.3 597.2" stroke="#F04766" stroke-width="2.6" stroke-opacity="1.00" fill="none"/><path d="M992.4 597.8L992.4 593.7" stroke="#F04766" stroke-width="2.5" stroke-opacity="1.00" fill="none"/><path d="M992.4 594.2L993.1 590.2" stroke="#F04766" stroke-width="2.5" stroke-opacity="1.00" fill="none"/><path d="M992.9 590.7L994.2 586.7" stroke="#F04766" stroke-width="2.4" stroke-opacity="1.00" fill="none"/><path d="M994 587.2L995.9 583.4" stroke="#F04766" stroke-width="2.4" stroke-opacity="1.00" fill="none"/><path d="M995.7 583.9L998.1 580.2" stroke="#F04766" stroke-width="2.3" stroke-opacity="1.00" fill="none"/><path d="M997.8 580.7L1000.8 577.2" stroke="#F04766" stroke-width="2.3" stroke-opacity="1.00" fill="none"/><path d="M1000.4 577.6L1004 574.3" stroke="#F04766" stroke-width="2.2" stroke-opacity="0.97" fill="none"/><path d="M1003.5 574.7L1007.5 571.8" stroke="#F04766" stroke-width="2.2" stroke-opacity="0.89" fill="none"/><path d="M1007 572.1L1011.4 569.5" stroke="#F04766" stroke-width="2.1" stroke-opacity="0.82" fill="none"/><path d="M1010.8 569.8L1015.7 567.5" stroke="#F04766" stroke-width="2.1" stroke-opacity="0.74" fill="none"/><path d="M1015 567.7L1020.2 565.8" stroke="#F04766" stroke-width="2.1" stroke-opacity="0.67" fill="none"/><path d="M1019.5 566L1025 564.4" stroke="#F04766" stroke-width="2" stroke-opacity="0.60" fill="none"/><path d="M1024.3 564.6L1030 563.4" stroke="#F04766" stroke-width="2" stroke-opacity="0.52" fill="none"/><path d="M1029.2 563.5L1035 562.8" stroke="#F04766" stroke-width="1.9" stroke-opacity="0.45" fill="none"/><path d="M1034.3 562.8L1040.2 562.5" stroke="#F04766" stroke-width="1.9" stroke-opacity="0.38" fill="none"/><path d="M1039.4 562.5L1045.3 562.6" stroke="#F04766" stroke-width="1.8" stroke-opacity="0.31" fill="none"/><path d="M1044.6 562.6L1050.5 563.1" stroke="#F04766" stroke-width="1.8" stroke-opacity="0.24" fill="none"/><path d="M1049.7 563L1055.5 563.9" stroke="#F04766" stroke-width="1.7" stroke-opacity="0.18" fill="none"/><path d="M1054.7 563.8L1060.3 565.1" stroke="#F04766" stroke-width="1.7" stroke-opacity="0.11" fill="none"/><path d="M1059.6 564.9L1064.3 566.4" stroke="#F04766" stroke-width="1.6" stroke-opacity="0.05" fill="none"/></g>
<g id="panel-b"><line x1="180.3" y1="873.3" x2="188.3" y2="873.3" stroke="#000" stroke-width="2.5" />
<line x1="709.9" y1="873.3" x2="701.9" y2="873.3" stroke="#000" stroke-width="2.5" />
<line x1="180.3" y1="917.6" x2="188.3" y2="917.6" stroke="#000" stroke-width="2.5" />
<line x1="709.9" y1="917.6" x2="701.9" y2="917.6" stroke="#000" stroke-width="2.5" />
<line x1="180.3" y1="961.4" x2="188.3" y2="961.4" stroke="#000" stroke-width="2.5" />
<line x1="709.9" y1="961.4" x2="701.9" y2="961.4" stroke="#000" stroke-width="2.5" />
<line x1="180.3" y1="1017.5" x2="188.3" y2="1017.5" stroke="#000" stroke-width="2.5" />
<line x1="709.9" y1="1017.5" x2="701.9" y2="1017.5" stroke="#000" stroke-width="2.5" />
<line x1="180.3" y1="1061.3" x2="188.3" y2="1061.3" stroke="#000" stroke-width="2.5" />
<line x1="709.9" y1="1061.3" x2="701.9" y2="1061.3" stroke="#000" stroke-width="2.5" />
<line x1="180.3" y1="1105.8" x2="188.3" y2="1105.8" stroke="#000" stroke-width="2.5" />
<line x1="709.9" y1="1105.8" x2="701.9" y2="1105.8" stroke="#000" stroke-width="2.5" />
<line x1="180.3" y1="1160.5" x2="188.3" y2="1160.5" stroke="#000" stroke-width="2.5" />
<line x1="709.9" y1="1160.5" x2="701.9" y2="1160.5" stroke="#000" stroke-width="2.5" />
<line x1="180.3" y1="1204.8" x2="188.3" y2="1204.8" stroke="#000" stroke-width="2.5" />
<line x1="709.9" y1="1204.8" x2="701.9" y2="1204.8" stroke="#000" stroke-width="2.5" />
<line x1="180.3" y1="1248.6" x2="188.3" y2="1248.6" stroke="#000" stroke-width="2.5" />
<line x1="709.9" y1="1248.6" x2="701.9" y2="1248.6" stroke="#000" stroke-width="2.5" />
<line x1="243.8" y1="1270.5" x2="243.8" y2="1262.6" stroke="#000" stroke-width="2.5" />
<line x1="359.2" y1="1270.5" x2="359.2" y2="1262.6" stroke="#000" stroke-width="2.5" />
<line x1="474.4" y1="1270.5" x2="474.4" y2="1262.6" stroke="#000" stroke-width="2.5" />
<line x1="590.2" y1="1270.5" x2="590.2" y2="1262.6" stroke="#000" stroke-width="2.5" />
<line x1="705.8" y1="1270.5" x2="705.8" y2="1262.6" stroke="#000" stroke-width="2.5" />
<polyline fill="none" stroke="#A3238E" stroke-width="1.6" points="180,976.2 560,976 578,975 600,975.8 710,976.6" stroke-dasharray="7 5.2"/>
<polyline fill="none" stroke="#1C5A66" stroke-width="1.6" points="180,976.2 560,976 578,975 600,975.8 710,976.6" stroke-dasharray="7 5.2"/>
<polyline fill="none" stroke="#E0243A" stroke-width="1.6" points="184.3,975.3 192.1,975.8 200,975.5 207.8,975.8 215.7,975.8 223.5,974.7 231.4,974.6 239.2,976 247.1,974.9 254.9,974.8 262.8,976.1 270.6,975.1 278.4,975.8 286.3,975.1 294.1,975.3 302,974.3 309.8,975.1 317.7,975.4 325.5,974.7 333.4,975 341.2,974.7 349,973.5 356.9,974.7 364.7,974.3 372.6,973.6 380.4,973 388.3,974.4 396.1,973.6 404,973.8 411.8,973.8 419.6,973.2 427.5,973.3 435.3,972.1 443.2,972.5 451,971.5 458.9,971.8 466.7,971 474.6,969 482.4,968.4 490.3,967.9 498.1,968.6 505.9,967 513.8,966.7 521.6,963.3 529.5,960.9 537.3,957.1 545.2,953.4 553,948.6 560.9,943.3 568.7,937.3 576.5,931.8 584.4,935.6 592.2,940.1 600.1,947.7 607.9,956.1 615.8,960.6 623.6,965.9 631.5,969.5 639.3,972.1 647.2,973 655,974.3 662.8,974.2 670.7,976 678.5,975.9 686.4,975.7 694.2,975.6 702.1,977.3" stroke-linejoin="round"/><path fill="#E0243A" d="M182 975.3a2.3 2.3 0 1 0 4.6 0a2.3 2.3 0 1 0 -4.6 0zM189.8 975.8a2.3 2.3 0 1 0 4.6 0a2.3 2.3 0 1 0 -4.6 0zM197.7 975.5a2.3 2.3 0 1 0 4.6 0a2.3 2.3 0 1 0 -4.6 0zM205.5 975.8a2.3 2.3 0 1 0 4.6 0a2.3 2.3 0 1 0 -4.6 0zM213.4 975.8a2.3 2.3 0 1 0 4.6 0a2.3 2.3 0 1 0 -4.6 0zM221.2 974.7a2.3 2.3 0 1 0 4.6 0a2.3 2.3 0 1 0 -4.6 0zM229.1 974.6a2.3 2.3 0 1 0 4.6 0a2.3 2.3 0 1 0 -4.6 0zM236.9 976a2.3 2.3 0 1 0 4.6 0a2.3 2.3 0 1 0 -4.6 0zM244.8 974.9a2.3 2.3 0 1 0 4.6 0a2.3 2.3 0 1 0 -4.6 0zM252.6 974.8a2.3 2.3 0 1 0 4.6 0a2.3 2.3 0 1 0 -4.6 0zM260.4 976.1a2.3 2.3 0 1 0 4.6 0a2.3 2.3 0 1 0 -4.6 0zM268.3 975.1a2.3 2.3 0 1 0 4.6 0a2.3 2.3 0 1 0 -4.6 0zM276.1 975.8a2.3 2.3 0 1 0 4.6 0a2.3 2.3 0 1 0 -4.6 0zM284 975.1a2.3 2.3 0 1 0 4.6 0a2.3 2.3 0 1 0 -4.6 0zM291.8 975.3a2.3 2.3 0 1 0 4.6 0a2.3 2.3 0 1 0 -4.6 0zM299.7 974.3a2.3 2.3 0 1 0 4.6 0a2.3 2.3 0 1 0 -4.6 0zM307.5 975.1a2.3 2.3 0 1 0 4.6 0a2.3 2.3 0 1 0 -4.6 0zM315.4 975.4a2.3 2.3 0 1 0 4.6 0a2.3 2.3 0 1 0 -4.6 0zM323.2 974.7a2.3 2.3 0 1 0 4.6 0a2.3 2.3 0 1 0 -4.6 0zM331.1 975a2.3 2.3 0 1 0 4.6 0a2.3 2.3 0 1 0 -4.6 0zM338.9 974.7a2.3 2.3 0 1 0 4.6 0a2.3 2.3 0 1 0 -4.6 0zM346.7 973.5a2.3 2.3 0 1 0 4.6 0a2.3 2.3 0 1 0 -4.6 0zM354.6 974.7a2.3 2.3 0 1 0 4.6 0a2.3 2.3 0 1 0 -4.6 0zM362.4 974.3a2.3 2.3 0 1 0 4.6 0a2.3 2.3 0 1 0 -4.6 0zM370.3 973.6a2.3 2.3 0 1 0 4.6 0a2.3 2.3 0 1 0 -4.6 0zM378.1 973a2.3 2.3 0 1 0 4.6 0a2.3 2.3 0 1 0 -4.6 0zM386 974.4a2.3 2.3 0 1 0 4.6 0a2.3 2.3 0 1 0 -4.6 0zM393.8 973.6a2.3 2.3 0 1 0 4.6 0a2.3 2.3 0 1 0 -4.6 0zM401.7 973.8a2.3 2.3 0 1 0 4.6 0a2.3 2.3 0 1 0 -4.6 0zM409.5 973.8a2.3 2.3 0 1 0 4.6 0a2.3 2.3 0 1 0 -4.6 0zM417.3 973.2a2.3 2.3 0 1 0 4.6 0a2.3 2.3 0 1 0 -4.6 0zM425.2 973.3a2.3 2.3 0 1 0 4.6 0a2.3 2.3 0 1 0 -4.6 0zM433 972.1a2.3 2.3 0 1 0 4.6 0a2.3 2.3 0 1 0 -4.6 0zM440.9 972.5a2.3 2.3 0 1 0 4.6 0a2.3 2.3 0 1 0 -4.6 0zM448.7 971.5a2.3 2.3 0 1 0 4.6 0a2.3 2.3 0 1 0 -4.6 0zM456.6 971.8a2.3 2.3 0 1 0 4.6 0a2.3 2.3 0 1 0 -4.6 0zM464.4 971a2.3 2.3 0 1 0 4.6 0a2.3 2.3 0 1 0 -4.6 0zM472.3 969a2.3 2.3 0 1 0 4.6 0a2.3 2.3 0 1 0 -4.6 0zM480.1 968.4a2.3 2.3 0 1 0 4.6 0a2.3 2.3 0 1 0 -4.6 0zM488 967.9a2.3 2.3 0 1 0 4.6 0a2.3 2.3 0 1 0 -4.6 0zM495.8 968.6a2.3 2.3 0 1 0 4.6 0a2.3 2.3 0 1 0 -4.6 0zM503.6 967a2.3 2.3 0 1 0 4.6 0a2.3 2.3 0 1 0 -4.6 0zM511.5 966.7a2.3 2.3 0 1 0 4.6 0a2.3 2.3 0 1 0 -4.6 0zM519.3 963.3a2.3 2.3 0 1 0 4.6 0a2.3 2.3 0 1 0 -4.6 0zM527.2 960.9a2.3 2.3 0 1 0 4.6 0a2.3 2.3 0 1 0 -4.6 0zM535 957.1a2.3 2.3 0 1 0 4.6 0a2.3 2.3 0 1 0 -4.6 0zM542.9 953.4a2.3 2.3 0 1 0 4.6 0a2.3 2.3 0 1 0 -4.6 0zM550.7 948.6a2.3 2.3 0 1 0 4.6 0a2.3 2.3 0 1 0 -4.6 0zM558.6 943.3a2.3 2.3 0 1 0 4.6 0a2.3 2.3 0 1 0 -4.6 0zM566.4 937.3a2.3 2.3 0 1 0 4.6 0a2.3 2.3 0 1 0 -4.6 0zM574.2 931.8a2.3 2.3 0 1 0 4.6 0a2.3 2.3 0 1 0 -4.6 0zM582.1 935.6a2.3 2.3 0 1 0 4.6 0a2.3 2.3 0 1 0 -4.6 0zM589.9 940.1a2.3 2.3 0 1 0 4.6 0a2.3 2.3 0 1 0 -4.6 0zM597.8 947.7a2.3 2.3 0 1 0 4.6 0a2.3 2.3 0 1 0 -4.6 0zM605.6 956.1a2.3 2.3 0 1 0 4.6 0a2.3 2.3 0 1 0 -4.6 0zM613.5 960.6a2.3 2.3 0 1 0 4.6 0a2.3 2.3 0 1 0 -4.6 0zM621.3 965.9a2.3 2.3 0 1 0 4.6 0a2.3 2.3 0 1 0 -4.6 0zM629.2 969.5a2.3 2.3 0 1 0 4.6 0a2.3 2.3 0 1 0 -4.6 0zM637 972.1a2.3 2.3 0 1 0 4.6 0a2.3 2.3 0 1 0 -4.6 0zM644.9 973a2.3 2.3 0 1 0 4.6 0a2.3 2.3 0 1 0 -4.6 0zM652.7 974.3a2.3 2.3 0 1 0 4.6 0a2.3 2.3 0 1 0 -4.6 0zM660.5 974.2a2.3 2.3 0 1 0 4.6 0a2.3 2.3 0 1 0 -4.6 0zM668.4 976a2.3 2.3 0 1 0 4.6 0a2.3 2.3 0 1 0 -4.6 0zM676.2 975.9a2.3 2.3 0 1 0 4.6 0a2.3 2.3 0 1 0 -4.6 0zM684.1 975.7a2.3 2.3 0 1 0 4.6 0a2.3 2.3 0 1 0 -4.6 0zM691.9 975.6a2.3 2.3 0 1 0 4.6 0a2.3 2.3 0 1 0 -4.6 0zM699.8 977.3a2.3 2.3 0 1 0 4.6 0a2.3 2.3 0 1 0 -4.6 0z" />
<polyline fill="none" stroke="#2356A6" stroke-width="1.6" points="184.3,975.7 192.1,975.5 200,975.6 207.8,975.5 215.7,975.4 223.5,975.5 231.4,975.7 239.2,975.6 247.1,975.5 254.9,975.2 262.8,975.3 270.6,975.1 278.4,975 286.3,974.9 294.1,974.9 302,975.2 309.8,975 317.7,974.9 325.5,974.8 333.4,974.4 341.2,974.3 349,974.4 356.9,974.3 364.7,974.3 372.6,974.2 380.4,973.7 388.3,973.8 396.1,973.7 404,973.5 411.8,973 419.6,972.8 427.5,972.3 435.3,972.5 443.2,972.1 451,971.6 458.9,970.9 466.7,970.5 474.6,969.7 482.4,969.2 490.3,968.6 498.1,967.8 505.9,967.1 513.8,966.5 521.6,963.7 529.5,960.7 537.3,957.3 545.2,953.8 553,948.2 560.9,943 568.7,936.6 576.5,931.4 584.4,934.8 592.2,939.5 600.1,946.8 607.9,956 615.8,961 623.6,965.2 631.5,968.6 639.3,971.5 647.2,972.8 655,973.8 662.8,974.8 670.7,975.3 678.5,975.8 686.4,976.3 694.2,976.2 702.1,976.5" stroke-linejoin="round"/><path fill="#2356A6" d="M182 975.7a2.3 2.3 0 1 0 4.6 0a2.3 2.3 0 1 0 -4.6 0zM189.8 975.5a2.3 2.3 0 1 0 4.6 0a2.3 2.3 0 1 0 -4.6 0zM197.7 975.6a2.3 2.3 0 1 0 4.6 0a2.3 2.3 0 1 0 -4.6 0zM205.5 975.5a2.3 2.3 0 1 0 4.6 0a2.3 2.3 0 1 0 -4.6 0zM213.4 975.4a2.3 2.3 0 1 0 4.6 0a2.3 2.3 0 1 0 -4.6 0zM221.2 975.5a2.3 2.3 0 1 0 4.6 0a2.3 2.3 0 1 0 -4.6 0zM229.1 975.7a2.3 2.3 0 1 0 4.6 0a2.3 2.3 0 1 0 -4.6 0zM236.9 975.6a2.3 2.3 0 1 0 4.6 0a2.3 2.3 0 1 0 -4.6 0zM244.8 975.5a2.3 2.3 0 1 0 4.6 0a2.3 2.3 0 1 0 -4.6 0zM252.6 975.2a2.3 2.3 0 1 0 4.6 0a2.3 2.3 0 1 0 -4.6 0zM260.4 975.3a2.3 2.3 0 1 0 4.6 0a2.3 2.3 0 1 0 -4.6 0zM268.3 975.1a2.3 2.3 0 1 0 4.6 0a2.3 2.3 0 1 0 -4.6 0zM276.1 975a2.3 2.3 0 1 0 4.6 0a2.3 2.3 0 1 0 -4.6 0zM284 974.9a2.3 2.3 0 1 0 4.6 0a2.3 2.3 0 1 0 -4.6 0zM291.8 974.9a2.3 2.3 0 1 0 4.6 0a2.3 2.3 0 1 0 -4.6 0zM299.7 975.2a2.3 2.3 0 1 0 4.6 0a2.3 2.3 0 1 0 -4.6 0zM307.5 975a2.3 2.3 0 1 0 4.6 0a2.3 2.3 0 1 0 -4.6 0zM315.4 974.9a2.3 2.3 0 1 0 4.6 0a2.3 2.3 0 1 0 -4.6 0zM323.2 974.8a2.3 2.3 0 1 0 4.6 0a2.3 2.3 0 1 0 -4.6 0zM331.1 974.4a2.3 2.3 0 1 0 4.6 0a2.3 2.3 0 1 0 -4.6 0zM338.9 974.3a2.3 2.3 0 1 0 4.6 0a2.3 2.3 0 1 0 -4.6 0zM346.7 974.4a2.3 2.3 0 1 0 4.6 0a2.3 2.3 0 1 0 -4.6 0zM354.6 974.3a2.3 2.3 0 1 0 4.6 0a2.3 2.3 0 1 0 -4.6 0zM362.4 974.3a2.3 2.3 0 1 0 4.6 0a2.3 2.3 0 1 0 -4.6 0zM370.3 974.2a2.3 2.3 0 1 0 4.6 0a2.3 2.3 0 1 0 -4.6 0zM378.1 973.7a2.3 2.3 0 1 0 4.6 0a2.3 2.3 0 1 0 -4.6 0zM386 973.8a2.3 2.3 0 1 0 4.6 0a2.3 2.3 0 1 0 -4.6 0zM393.8 973.7a2.3 2.3 0 1 0 4.6 0a2.3 2.3 0 1 0 -4.6 0zM401.7 973.5a2.3 2.3 0 1 0 4.6 0a2.3 2.3 0 1 0 -4.6 0zM409.5 973a2.3 2.3 0 1 0 4.6 0a2.3 2.3 0 1 0 -4.6 0zM417.3 972.8a2.3 2.3 0 1 0 4.6 0a2.3 2.3 0 1 0 -4.6 0zM425.2 972.3a2.3 2.3 0 1 0 4.6 0a2.3 2.3 0 1 0 -4.6 0zM433 972.5a2.3 2.3 0 1 0 4.6 0a2.3 2.3 0 1 0 -4.6 0zM440.9 972.1a2.3 2.3 0 1 0 4.6 0a2.3 2.3 0 1 0 -4.6 0zM448.7 971.6a2.3 2.3 0 1 0 4.6 0a2.3 2.3 0 1 0 -4.6 0zM456.6 970.9a2.3 2.3 0 1 0 4.6 0a2.3 2.3 0 1 0 -4.6 0zM464.4 970.5a2.3 2.3 0 1 0 4.6 0a2.3 2.3 0 1 0 -4.6 0zM472.3 969.7a2.3 2.3 0 1 0 4.6 0a2.3 2.3 0 1 0 -4.6 0zM480.1 969.2a2.3 2.3 0 1 0 4.6 0a2.3 2.3 0 1 0 -4.6 0zM488 968.6a2.3 2.3 0 1 0 4.6 0a2.3 2.3 0 1 0 -4.6 0zM495.8 967.8a2.3 2.3 0 1 0 4.6 0a2.3 2.3 0 1 0 -4.6 0zM503.6 967.1a2.3 2.3 0 1 0 4.6 0a2.3 2.3 0 1 0 -4.6 0zM511.5 966.5a2.3 2.3 0 1 0 4.6 0a2.3 2.3 0 1 0 -4.6 0zM519.3 963.7a2.3 2.3 0 1 0 4.6 0a2.3 2.3 0 1 0 -4.6 0zM527.2 960.7a2.3 2.3 0 1 0 4.6 0a2.3 2.3 0 1 0 -4.6 0zM535 957.3a2.3 2.3 0 1 0 4.6 0a2.3 2.3 0 1 0 -4.6 0zM542.9 953.8a2.3 2.3 0 1 0 4.6 0a2.3 2.3 0 1 0 -4.6 0zM550.7 948.2a2.3 2.3 0 1 0 4.6 0a2.3 2.3 0 1 0 -4.6 0zM558.6 943a2.3 2.3 0 1 0 4.6 0a2.3 2.3 0 1 0 -4.6 0zM566.4 936.6a2.3 2.3 0 1 0 4.6 0a2.3 2.3 0 1 0 -4.6 0zM574.2 931.4a2.3 2.3 0 1 0 4.6 0a2.3 2.3 0 1 0 -4.6 0zM582.1 934.8a2.3 2.3 0 1 0 4.6 0a2.3 2.3 0 1 0 -4.6 0zM589.9 939.5a2.3 2.3 0 1 0 4.6 0a2.3 2.3 0 1 0 -4.6 0zM597.8 946.8a2.3 2.3 0 1 0 4.6 0a2.3 2.3 0 1 0 -4.6 0zM605.6 956a2.3 2.3 0 1 0 4.6 0a2.3 2.3 0 1 0 -4.6 0zM613.5 961a2.3 2.3 0 1 0 4.6 0a2.3 2.3 0 1 0 -4.6 0zM621.3 965.2a2.3 2.3 0 1 0 4.6 0a2.3 2.3 0 1 0 -4.6 0zM629.2 968.6a2.3 2.3 0 1 0 4.6 0a2.3 2.3 0 1 0 -4.6 0zM637 971.5a2.3 2.3 0 1 0 4.6 0a2.3 2.3 0 1 0 -4.6 0zM644.9 972.8a2.3 2.3 0 1 0 4.6 0a2.3 2.3 0 1 0 -4.6 0zM652.7 973.8a2.3 2.3 0 1 0 4.6 0a2.3 2.3 0 1 0 -4.6 0zM660.5 974.8a2.3 2.3 0 1 0 4.6 0a2.3 2.3 0 1 0 -4.6 0zM668.4 975.3a2.3 2.3 0 1 0 4.6 0a2.3 2.3 0 1 0 -4.6 0zM676.2 975.8a2.3 2.3 0 1 0 4.6 0a2.3 2.3 0 1 0 -4.6 0zM684.1 976.3a2.3 2.3 0 1 0 4.6 0a2.3 2.3 0 1 0 -4.6 0zM691.9 976.2a2.3 2.3 0 1 0 4.6 0a2.3 2.3 0 1 0 -4.6 0zM699.8 976.5a2.3 2.3 0 1 0 4.6 0a2.3 2.3 0 1 0 -4.6 0z" />
<polyline fill="none" stroke="#1C5A66" stroke-width="1.6" points="180,1122.3 710,1122.4" stroke-dasharray="7 5.2"/>
<polyline fill="none" stroke="#E0243A" stroke-width="1.6" points="184.3,1121.3 192.1,1121.2 200,1121.1 207.8,1121 215.7,1120.6 223.5,1120.6 231.4,1119.5 239.2,1119.7 247.1,1120 254.9,1119.5 262.8,1119.5 270.6,1118.5 278.4,1118.7 286.3,1117.8 294.1,1117.4 302,1116.8 309.8,1115.5 317.7,1115 325.5,1114.3 333.4,1114.3 341.2,1113 349,1111.3 356.9,1110.8 364.7,1108.4 372.6,1106.3 380.4,1103.3 388.3,1100.7 396.1,1098.6 404,1094.9 411.8,1091.9 419.6,1090 427.5,1087.7 435.3,1085 443.2,1086.9 451,1088 458.9,1089.6 466.7,1090.7 474.6,1095.1 482.4,1098.5 490.3,1102.4 498.1,1105.6 505.9,1108.3 513.8,1111.6 521.6,1113 529.5,1114.5 537.3,1115.9 545.2,1117 553,1118.2 560.9,1118.5 568.7,1119.5 576.5,1119.2 584.4,1119.2 592.2,1119.8 600.1,1119.7 607.9,1119.9 615.8,1120.4 623.6,1121 631.5,1120.8 639.3,1121.9 647.2,1121.1 655,1121.9 662.8,1122.1 670.7,1121.3 678.5,1122.2 686.4,1121.9 694.2,1122.2 702.1,1121.7" stroke-linejoin="round"/><path fill="#E0243A" d="M182 1121.3a2.3 2.3 0 1 0 4.6 0a2.3 2.3 0 1 0 -4.6 0zM189.8 1121.2a2.3 2.3 0 1 0 4.6 0a2.3 2.3 0 1 0 -4.6 0zM197.7 1121.1a2.3 2.3 0 1 0 4.6 0a2.3 2.3 0 1 0 -4.6 0zM205.5 1121a2.3 2.3 0 1 0 4.6 0a2.3 2.3 0 1 0 -4.6 0zM213.4 1120.6a2.3 2.3 0 1 0 4.6 0a2.3 2.3 0 1 0 -4.6 0zM221.2 1120.6a2.3 2.3 0 1 0 4.6 0a2.3 2.3 0 1 0 -4.6 0zM229.1 1119.5a2.3 2.3 0 1 0 4.6 0a2.3 2.3 0 1 0 -4.6 0zM236.9 1119.7a2.3 2.3 0 1 0 4.6 0a2.3 2.3 0 1 0 -4.6 0zM244.8 1120a2.3 2.3 0 1 0 4.6 0a2.3 2.3 0 1 0 -4.6 0zM252.6 1119.5a2.3 2.3 0 1 0 4.6 0a2.3 2.3 0 1 0 -4.6 0zM260.4 1119.5a2.3 2.3 0 1 0 4.6 0a2.3 2.3 0 1 0 -4.6 0zM268.3 1118.5a2.3 2.3 0 1 0 4.6 0a2.3 2.3 0 1 0 -4.6 0zM276.1 1118.7a2.3 2.3 0 1 0 4.6 0a2.3 2.3 0 1 0 -4.6 0zM284 1117.8a2.3 2.3 0 1 0 4.6 0a2.3 2.3 0 1 0 -4.6 0zM291.8 1117.4a2.3 2.3 0 1 0 4.6 0a2.3 2.3 0 1 0 -4.6 0zM299.7 1116.8a2.3 2.3 0 1 0 4.6 0a2.3 2.3 0 1 0 -4.6 0zM307.5 1115.5a2.3 2.3 0 1 0 4.6 0a2.3 2.3 0 1 0 -4.6 0zM315.4 1115a2.3 2.3 0 1 0 4.6 0a2.3 2.3 0 1 0 -4.6 0zM323.2 1114.3a2.3 2.3 0 1 0 4.6 0a2.3 2.3 0 1 0 -4.6 0zM331.1 1114.3a2.3 2.3 0 1 0 4.6 0a2.3 2.3 0 1 0 -4.6 0zM338.9 1113a2.3 2.3 0 1 0 4.6 0a2.3 2.3 0 1 0 -4.6 0zM346.7 1111.3a2.3 2.3 0 1 0 4.6 0a2.3 2.3 0 1 0 -4.6 0zM354.6 1110.8a2.3 2.3 0 1 0 4.6 0a2.3 2.3 0 1 0 -4.6 0zM362.4 1108.4a2.3 2.3 0 1 0 4.6 0a2.3 2.3 0 1 0 -4.6 0zM370.3 1106.3a2.3 2.3 0 1 0 4.6 0a2.3 2.3 0 1 0 -4.6 0zM378.1 1103.3a2.3 2.3 0 1 0 4.6 0a2.3 2.3 0 1 0 -4.6 0zM386 1100.7a2.3 2.3 0 1 0 4.6 0a2.3 2.3 0 1 0 -4.6 0zM393.8 1098.6a2.3 2.3 0 1 0 4.6 0a2.3 2.3 0 1 0 -4.6 0zM401.7 1094.9a2.3 2.3 0 1 0 4.6 0a2.3 2.3 0 1 0 -4.6 0zM409.5 1091.9a2.3 2.3 0 1 0 4.6 0a2.3 2.3 0 1 0 -4.6 0zM417.3 1090a2.3 2.3 0 1 0 4.6 0a2.3 2.3 0 1 0 -4.6 0zM425.2 1087.7a2.3 2.3 0 1 0 4.6 0a2.3 2.3 0 1 0 -4.6 0zM433 1085a2.3 2.3 0 1 0 4.6 0a2.3 2.3 0 1 0 -4.6 0zM440.9 1086.9a2.3 2.3 0 1 0 4.6 0a2.3 2.3 0 1 0 -4.6 0zM448.7 1088a2.3 2.3 0 1 0 4.6 0a2.3 2.3 0 1 0 -4.6 0zM456.6 1089.6a2.3 2.3 0 1 0 4.6 0a2.3 2.3 0 1 0 -4.6 0zM464.4 1090.7a2.3 2.3 0 1 0 4.6 0a2.3 2.3 0 1 0 -4.6 0zM472.3 1095.1a2.3 2.3 0 1 0 4.6 0a2.3 2.3 0 1 0 -4.6 0zM480.1 1098.5a2.3 2.3 0 1 0 4.6 0a2.3 2.3 0 1 0 -4.6 0zM488 1102.4a2.3 2.3 0 1 0 4.6 0a2.3 2.3 0 1 0 -4.6 0zM495.8 1105.6a2.3 2.3 0 1 0 4.6 0a2.3 2.3 0 1 0 -4.6 0zM503.6 1108.3a2.3 2.3 0 1 0 4.6 0a2.3 2.3 0 1 0 -4.6 0zM511.5 1111.6a2.3 2.3 0 1 0 4.6 0a2.3 2.3 0 1 0 -4.6 0zM519.3 1113a2.3 2.3 0 1 0 4.6 0a2.3 2.3 0 1 0 -4.6 0zM527.2 1114.5a2.3 2.3 0 1 0 4.6 0a2.3 2.3 0 1 0 -4.6 0zM535 1115.9a2.3 2.3 0 1 0 4.6 0a2.3 2.3 0 1 0 -4.6 0zM542.9 1117a2.3 2.3 0 1 0 4.6 0a2.3 2.3 0 1 0 -4.6 0zM550.7 1118.2a2.3 2.3 0 1 0 4.6 0a2.3 2.3 0 1 0 -4.6 0zM558.6 1118.5a2.3 2.3 0 1 0 4.6 0a2.3 2.3 0 1 0 -4.6 0zM566.4 1119.5a2.3 2.3 0 1 0 4.6 0a2.3 2.3 0 1 0 -4.6 0zM574.2 1119.2a2.3 2.3 0 1 0 4.6 0a2.3 2.3 0 1 0 -4.6 0zM582.1 1119.2a2.3 2.3 0 1 0 4.6 0a2.3 2.3 0 1 0 -4.6 0zM589.9 1119.8a2.3 2.3 0 1 0 4.6 0a2.3 2.3 0 1 0 -4.6 0zM597.8 1119.7a2.3 2.3 0 1 0 4.6 0a2.3 2.3 0 1 0 -4.6 0zM605.6 1119.9a2.3 2.3 0 1 0 4.6 0a2.3 2.3 0 1 0 -4.6 0zM613.5 1120.4a2.3 2.3 0 1 0 4.6 0a2.3 2.3 0 1 0 -4.6 0zM621.3 1121a2.3 2.3 0 1 0 4.6 0a2.3 2.3 0 1 0 -4.6 0zM629.2 1120.8a2.3 2.3 0 1 0 4.6 0a2.3 2.3 0 1 0 -4.6 0zM637 1121.9a2.3 2.3 0 1 0 4.6 0a2.3 2.3 0 1 0 -4.6 0zM644.9 1121.1a2.3 2.3 0 1 0 4.6 0a2.3 2.3 0 1 0 -4.6 0zM652.7 1121.9a2.3 2.3 0 1 0 4.6 0a2.3 2.3 0 1 0 -4.6 0zM660.5 1122.1a2.3 2.3 0 1 0 4.6 0a2.3 2.3 0 1 0 -4.6 0zM668.4 1121.3a2.3 2.3 0 1 0 4.6 0a2.3 2.3 0 1 0 -4.6 0zM676.2 1122.2a2.3 2.3 0 1 0 4.6 0a2.3 2.3 0 1 0 -4.6 0zM684.1 1121.9a2.3 2.3 0 1 0 4.6 0a2.3 2.3 0 1 0 -4.6 0zM691.9 1122.2a2.3 2.3 0 1 0 4.6 0a2.3 2.3 0 1 0 -4.6 0zM699.8 1121.7a2.3 2.3 0 1 0 4.6 0a2.3 2.3 0 1 0 -4.6 0z" />
<polyline fill="none" stroke="#2356A6" stroke-width="1.6" points="184.3,1121.6 192.1,1121.4 200,1121 207.8,1120.6 215.7,1120.3 223.5,1120.5 231.4,1120.1 239.2,1120.1 247.1,1119.7 254.9,1119.7 262.8,1119.2 270.6,1119.3 278.4,1119.1 286.3,1118.3 294.1,1117.7 302,1117.1 309.8,1116.2 317.7,1115.7 325.5,1115.2 333.4,1114.2 341.2,1113.6 349,1112.6 356.9,1111.8 364.7,1110 372.6,1107.7 380.4,1106 388.3,1103.8 396.1,1100.8 404,1097.7 411.8,1094.9 419.6,1092.3 427.5,1089.3 435.3,1087 443.2,1086 451,1087 458.9,1088.6 466.7,1089.7 474.6,1093 482.4,1095.9 490.3,1098.7 498.1,1102.5 505.9,1106.2 513.8,1110 521.6,1112.3 529.5,1113.8 537.3,1115.9 545.2,1117.1 553,1118 560.9,1119.2 568.7,1119.3 576.5,1119.8 584.4,1119.6 592.2,1119.4 600.1,1120 607.9,1120.1 615.8,1120.4 623.6,1120.9 631.5,1121 639.3,1121.3 647.2,1121.8 655,1121.8 662.8,1121.4 670.7,1122 678.5,1121.6 686.4,1121.9 694.2,1122.3 702.1,1122.3" stroke-linejoin="round"/><path fill="#2356A6" d="M182 1121.6a2.3 2.3 0 1 0 4.6 0a2.3 2.3 0 1 0 -4.6 0zM189.8 1121.4a2.3 2.3 0 1 0 4.6 0a2.3 2.3 0 1 0 -4.6 0zM197.7 1121a2.3 2.3 0 1 0 4.6 0a2.3 2.3 0 1 0 -4.6 0zM205.5 1120.6a2.3 2.3 0 1 0 4.6 0a2.3 2.3 0 1 0 -4.6 0zM213.4 1120.3a2.3 2.3 0 1 0 4.6 0a2.3 2.3 0 1 0 -4.6 0zM221.2 1120.5a2.3 2.3 0 1 0 4.6 0a2.3 2.3 0 1 0 -4.6 0zM229.1 1120.1a2.3 2.3 0 1 0 4.6 0a2.3 2.3 0 1 0 -4.6 0zM236.9 1120.1a2.3 2.3 0 1 0 4.6 0a2.3 2.3 0 1 0 -4.6 0zM244.8 1119.7a2.3 2.3 0 1 0 4.6 0a2.3 2.3 0 1 0 -4.6 0zM252.6 1119.7a2.3 2.3 0 1 0 4.6 0a2.3 2.3 0 1 0 -4.6 0zM260.4 1119.2a2.3 2.3 0 1 0 4.6 0a2.3 2.3 0 1 0 -4.6 0zM268.3 1119.3a2.3 2.3 0 1 0 4.6 0a2.3 2.3 0 1 0 -4.6 0zM276.1 1119.1a2.3 2.3 0 1 0 4.6 0a2.3 2.3 0 1 0 -4.6 0zM284 1118.3a2.3 2.3 0 1 0 4.6 0a2.3 2.3 0 1 0 -4.6 0zM291.8 1117.7a2.3 2.3 0 1 0 4.6 0a2.3 2.3 0 1 0 -4.6 0zM299.7 1117.1a2.3 2.3 0 1 0 4.6 0a2.3 2.3 0 1 0 -4.6 0zM307.5 1116.2a2.3 2.3 0 1 0 4.6 0a2.3 2.3 0 1 0 -4.6 0zM315.4 1115.7a2.3 2.3 0 1 0 4.6 0a2.3 2.3 0 1 0 -4.6 0zM323.2 1115.2a2.3 2.3 0 1 0 4.6 0a2.3 2.3 0 1 0 -4.6 0zM331.1 1114.2a2.3 2.3 0 1 0 4.6 0a2.3 2.3 0 1 0 -4.6 0zM338.9 1113.6a2.3 2.3 0 1 0 4.6 0a2.3 2.3 0 1 0 -4.6 0zM346.7 1112.6a2.3 2.3 0 1 0 4.6 0a2.3 2.3 0 1 0 -4.6 0zM354.6 1111.8a2.3 2.3 0 1 0 4.6 0a2.3 2.3 0 1 0 -4.6 0zM362.4 1110a2.3 2.3 0 1 0 4.6 0a2.3 2.3 0 1 0 -4.6 0zM370.3 1107.7a2.3 2.3 0 1 0 4.6 0a2.3 2.3 0 1 0 -4.6 0zM378.1 1106a2.3 2.3 0 1 0 4.6 0a2.3 2.3 0 1 0 -4.6 0zM386 1103.8a2.3 2.3 0 1 0 4.6 0a2.3 2.3 0 1 0 -4.6 0zM393.8 1100.8a2.3 2.3 0 1 0 4.6 0a2.3 2.3 0 1 0 -4.6 0zM401.7 1097.7a2.3 2.3 0 1 0 4.6 0a2.3 2.3 0 1 0 -4.6 0zM409.5 1094.9a2.3 2.3 0 1 0 4.6 0a2.3 2.3 0 1 0 -4.6 0zM417.3 1092.3a2.3 2.3 0 1 0 4.6 0a2.3 2.3 0 1 0 -4.6 0zM425.2 1089.3a2.3 2.3 0 1 0 4.6 0a2.3 2.3 0 1 0 -4.6 0zM433 1087a2.3 2.3 0 1 0 4.6 0a2.3 2.3 0 1 0 -4.6 0zM440.9 1086a2.3 2.3 0 1 0 4.6 0a2.3 2.3 0 1 0 -4.6 0zM448.7 1087a2.3 2.3 0 1 0 4.6 0a2.3 2.3 0 1 0 -4.6 0zM456.6 1088.6a2.3 2.3 0 1 0 4.6 0a2.3 2.3 0 1 0 -4.6 0zM464.4 1089.7a2.3 2.3 0 1 0 4.6 0a2.3 2.3 0 1 0 -4.6 0zM472.3 1093a2.3 2.3 0 1 0 4.6 0a2.3 2.3 0 1 0 -4.6 0zM480.1 1095.9a2.3 2.3 0 1 0 4.6 0a2.3 2.3 0 1 0 -4.6 0zM488 1098.7a2.3 2.3 0 1 0 4.6 0a2.3 2.3 0 1 0 -4.6 0zM495.8 1102.5a2.3 2.3 0 1 0 4.6 0a2.3 2.3 0 1 0 -4.6 0zM503.6 1106.2a2.3 2.3 0 1 0 4.6 0a2.3 2.3 0 1 0 -4.6 0zM511.5 1110a2.3 2.3 0 1 0 4.6 0a2.3 2.3 0 1 0 -4.6 0zM519.3 1112.3a2.3 2.3 0 1 0 4.6 0a2.3 2.3 0 1 0 -4.6 0zM527.2 1113.8a2.3 2.3 0 1 0 4.6 0a2.3 2.3 0 1 0 -4.6 0zM535 1115.9a2.3 2.3 0 1 0 4.6 0a2.3 2.3 0 1 0 -4.6 0zM542.9 1117.1a2.3 2.3 0 1 0 4.6 0a2.3 2.3 0 1 0 -4.6 0zM550.7 1118a2.3 2.3 0 1 0 4.6 0a2.3 2.3 0 1 0 -4.6 0zM558.6 1119.2a2.3 2.3 0 1 0 4.6 0a2.3 2.3 0 1 0 -4.6 0zM566.4 1119.3a2.3 2.3 0 1 0 4.6 0a2.3 2.3 0 1 0 -4.6 0zM574.2 1119.8a2.3 2.3 0 1 0 4.6 0a2.3 2.3 0 1 0 -4.6 0zM582.1 1119.6a2.3 2.3 0 1 0 4.6 0a2.3 2.3 0 1 0 -4.6 0zM589.9 1119.4a2.3 2.3 0 1 0 4.6 0a2.3 2.3 0 1 0 -4.6 0zM597.8 1120a2.3 2.3 0 1 0 4.6 0a2.3 2.3 0 1 0 -4.6 0zM605.6 1120.1a2.3 2.3 0 1 0 4.6 0a2.3 2.3 0 1 0 -4.6 0zM613.5 1120.4a2.3 2.3 0 1 0 4.6 0a2.3 2.3 0 1 0 -4.6 0zM621.3 1120.9a2.3 2.3 0 1 0 4.6 0a2.3 2.3 0 1 0 -4.6 0zM629.2 1121a2.3 2.3 0 1 0 4.6 0a2.3 2.3 0 1 0 -4.6 0zM637 1121.3a2.3 2.3 0 1 0 4.6 0a2.3 2.3 0 1 0 -4.6 0zM644.9 1121.8a2.3 2.3 0 1 0 4.6 0a2.3 2.3 0 1 0 -4.6 0zM652.7 1121.8a2.3 2.3 0 1 0 4.6 0a2.3 2.3 0 1 0 -4.6 0zM660.5 1121.4a2.3 2.3 0 1 0 4.6 0a2.3 2.3 0 1 0 -4.6 0zM668.4 1122a2.3 2.3 0 1 0 4.6 0a2.3 2.3 0 1 0 -4.6 0zM676.2 1121.6a2.3 2.3 0 1 0 4.6 0a2.3 2.3 0 1 0 -4.6 0zM684.1 1121.9a2.3 2.3 0 1 0 4.6 0a2.3 2.3 0 1 0 -4.6 0zM691.9 1122.3a2.3 2.3 0 1 0 4.6 0a2.3 2.3 0 1 0 -4.6 0zM699.8 1122.3a2.3 2.3 0 1 0 4.6 0a2.3 2.3 0 1 0 -4.6 0z" />
<polyline fill="none" stroke="#1C5A66" stroke-width="1.6" points="180,1266 710,1266" stroke-dasharray="7 5.2"/>
<polyline fill="none" stroke="#E0243A" stroke-width="1.6" points="184.3,1264.8 192.1,1264.7 200,1264.8 207.8,1264.6 215.7,1264.7 223.5,1264.6 231.4,1264.4 239.2,1264.5 247.1,1264.3 254.9,1264.3 262.8,1263.9 270.6,1263.7 278.4,1263.5 286.3,1263.3 294.1,1262.8 302,1262.5 309.8,1262 317.7,1261.2 325.5,1260.2 333.4,1258.8 341.2,1257.2 349,1253.6 356.9,1244.9 364.7,1230.1 372.6,1199.6 380.4,1161.1 388.3,1153.6 396.1,1182.5 404,1218.5 411.8,1237 419.6,1248.7 427.5,1253.3 435.3,1257.4 443.2,1259.3 451,1260 458.9,1260.7 466.7,1261.5 474.6,1261.9 482.4,1262.4 490.3,1262.9 498.1,1263.3 505.9,1263.7 513.8,1264.2 521.6,1264.6 529.5,1264.9 537.3,1265.5 545.2,1265.9 553,1266.4 560.9,1266.1 568.7,1265.7 576.5,1265.7 584.4,1265.4 592.2,1265.4 600.1,1265.5 607.9,1265.3 615.8,1265.4 623.6,1265.2 631.5,1265.4 639.3,1265.4 647.2,1265.4 655,1265.4 662.8,1265.2 670.7,1265.3 678.5,1265.3 686.4,1265.3 694.2,1265.2 702.1,1265.3" stroke-linejoin="round"/><path fill="#E0243A" d="M182 1264.8a2.3 2.3 0 1 0 4.6 0a2.3 2.3 0 1 0 -4.6 0zM189.8 1264.7a2.3 2.3 0 1 0 4.6 0a2.3 2.3 0 1 0 -4.6 0zM197.7 1264.8a2.3 2.3 0 1 0 4.6 0a2.3 2.3 0 1 0 -4.6 0zM205.5 1264.6a2.3 2.3 0 1 0 4.6 0a2.3 2.3 0 1 0 -4.6 0zM213.4 1264.7a2.3 2.3 0 1 0 4.6 0a2.3 2.3 0 1 0 -4.6 0zM221.2 1264.6a2.3 2.3 0 1 0 4.6 0a2.3 2.3 0 1 0 -4.6 0zM229.1 1264.4a2.3 2.3 0 1 0 4.6 0a2.3 2.3 0 1 0 -4.6 0zM236.9 1264.5a2.3 2.3 0 1 0 4.6 0a2.3 2.3 0 1 0 -4.6 0zM244.8 1264.3a2.3 2.3 0 1 0 4.6 0a2.3 2.3 0 1 0 -4.6 0zM252.6 1264.3a2.3 2.3 0 1 0 4.6 0a2.3 2.3 0 1 0 -4.6 0zM260.4 1263.9a2.3 2.3 0 1 0 4.6 0a2.3 2.3 0 1 0 -4.6 0zM268.3 1263.7a2.3 2.3 0 1 0 4.6 0a2.3 2.3 0 1 0 -4.6 0zM276.1 1263.5a2.3 2.3 0 1 0 4.6 0a2.3 2.3 0 1 0 -4.6 0zM284 1263.3a2.3 2.3 0 1 0 4.6 0a2.3 2.3 0 1 0 -4.6 0zM291.8 1262.8a2.3 2.3 0 1 0 4.6 0a2.3 2.3 0 1 0 -4.6 0zM299.7 1262.5a2.3 2.3 0 1 0 4.6 0a2.3 2.3 0 1 0 -4.6 0zM307.5 1262a2.3 2.3 0 1 0 4.6 0a2.3 2.3 0 1 0 -4.6 0zM315.4 1261.2a2.3 2.3 0 1 0 4.6 0a2.3 2.3 0 1 0 -4.6 0zM323.2 1260.2a2.3 2.3 0 1 0 4.6 0a2.3 2.3 0 1 0 -4.6 0zM331.1 1258.8a2.3 2.3 0 1 0 4.6 0a2.3 2.3 0 1 0 -4.6 0zM338.9 1257.2a2.3 2.3 0 1 0 4.6 0a2.3 2.3 0 1 0 -4.6 0zM346.7 1253.6a2.3 2.3 0 1 0 4.6 0a2.3 2.3 0 1 0 -4.6 0zM354.6 1244.9a2.3 2.3 0 1 0 4.6 0a2.3 2.3 0 1 0 -4.6 0zM362.4 1230.1a2.3 2.3 0 1 0 4.6 0a2.3 2.3 0 1 0 -4.6 0zM370.3 1199.6a2.3 2.3 0 1 0 4.6 0a2.3 2.3 0 1 0 -4.6 0zM378.1 1161.1a2.3 2.3 0 1 0 4.6 0a2.3 2.3 0 1 0 -4.6 0zM386 1153.6a2.3 2.3 0 1 0 4.6 0a2.3 2.3 0 1 0 -4.6 0zM393.8 1182.5a2.3 2.3 0 1 0 4.6 0a2.3 2.3 0 1 0 -4.6 0zM401.7 1218.5a2.3 2.3 0 1 0 4.6 0a2.3 2.3 0 1 0 -4.6 0zM409.5 1237a2.3 2.3 0 1 0 4.6 0a2.3 2.3 0 1 0 -4.6 0zM417.3 1248.7a2.3 2.3 0 1 0 4.6 0a2.3 2.3 0 1 0 -4.6 0zM425.2 1253.3a2.3 2.3 0 1 0 4.6 0a2.3 2.3 0 1 0 -4.6 0zM433 1257.4a2.3 2.3 0 1 0 4.6 0a2.3 2.3 0 1 0 -4.6 0zM440.9 1259.3a2.3 2.3 0 1 0 4.6 0a2.3 2.3 0 1 0 -4.6 0zM448.7 1260a2.3 2.3 0 1 0 4.6 0a2.3 2.3 0 1 0 -4.6 0zM456.6 1260.7a2.3 2.3 0 1 0 4.6 0a2.3 2.3 0 1 0 -4.6 0zM464.4 1261.5a2.3 2.3 0 1 0 4.6 0a2.3 2.3 0 1 0 -4.6 0zM472.3 1261.9a2.3 2.3 0 1 0 4.6 0a2.3 2.3 0 1 0 -4.6 0zM480.1 1262.4a2.3 2.3 0 1 0 4.6 0a2.3 2.3 0 1 0 -4.6 0zM488 1262.9a2.3 2.3 0 1 0 4.6 0a2.3 2.3 0 1 0 -4.6 0zM495.8 1263.3a2.3 2.3 0 1 0 4.6 0a2.3 2.3 0 1 0 -4.6 0zM503.6 1263.7a2.3 2.3 0 1 0 4.6 0a2.3 2.3 0 1 0 -4.6 0zM511.5 1264.2a2.3 2.3 0 1 0 4.6 0a2.3 2.3 0 1 0 -4.6 0zM519.3 1264.6a2.3 2.3 0 1 0 4.6 0a2.3 2.3 0 1 0 -4.6 0zM527.2 1264.9a2.3 2.3 0 1 0 4.6 0a2.3 2.3 0 1 0 -4.6 0zM535 1265.5a2.3 2.3 0 1 0 4.6 0a2.3 2.3 0 1 0 -4.6 0zM542.9 1265.9a2.3 2.3 0 1 0 4.6 0a2.3 2.3 0 1 0 -4.6 0zM550.7 1266.4a2.3 2.3 0 1 0 4.6 0a2.3 2.3 0 1 0 -4.6 0zM558.6 1266.1a2.3 2.3 0 1 0 4.6 0a2.3 2.3 0 1 0 -4.6 0zM566.4 1265.7a2.3 2.3 0 1 0 4.6 0a2.3 2.3 0 1 0 -4.6 0zM574.2 1265.7a2.3 2.3 0 1 0 4.6 0a2.3 2.3 0 1 0 -4.6 0zM582.1 1265.4a2.3 2.3 0 1 0 4.6 0a2.3 2.3 0 1 0 -4.6 0zM589.9 1265.4a2.3 2.3 0 1 0 4.6 0a2.3 2.3 0 1 0 -4.6 0zM597.8 1265.5a2.3 2.3 0 1 0 4.6 0a2.3 2.3 0 1 0 -4.6 0zM605.6 1265.3a2.3 2.3 0 1 0 4.6 0a2.3 2.3 0 1 0 -4.6 0zM613.5 1265.4a2.3 2.3 0 1 0 4.6 0a2.3 2.3 0 1 0 -4.6 0zM621.3 1265.2a2.3 2.3 0 1 0 4.6 0a2.3 2.3 0 1 0 -4.6 0zM629.2 1265.4a2.3 2.3 0 1 0 4.6 0a2.3 2.3 0 1 0 -4.6 0zM637 1265.4a2.3 2.3 0 1 0 4.6 0a2.3 2.3 0 1 0 -4.6 0zM644.9 1265.4a2.3 2.3 0 1 0 4.6 0a2.3 2.3 0 1 0 -4.6 0zM652.7 1265.4a2.3 2.3 0 1 0 4.6 0a2.3 2.3 0 1 0 -4.6 0zM660.5 1265.2a2.3 2.3 0 1 0 4.6 0a2.3 2.3 0 1 0 -4.6 0zM668.4 1265.3a2.3 2.3 0 1 0 4.6 0a2.3 2.3 0 1 0 -4.6 0zM676.2 1265.3a2.3 2.3 0 1 0 4.6 0a2.3 2.3 0 1 0 -4.6 0zM684.1 1265.3a2.3 2.3 0 1 0 4.6 0a2.3 2.3 0 1 0 -4.6 0zM691.9 1265.2a2.3 2.3 0 1 0 4.6 0a2.3 2.3 0 1 0 -4.6 0zM699.8 1265.3a2.3 2.3 0 1 0 4.6 0a2.3 2.3 0 1 0 -4.6 0z" />
<polyline fill="none" stroke="#2356A6" stroke-width="1.6" points="184.3,1265.1 192.1,1265.3 200,1265.1 207.8,1265.2 215.7,1265 223.5,1265.1 231.4,1265.3 239.2,1265.1 247.1,1265.2 254.9,1265.1 262.8,1265.1 270.6,1265.1 278.4,1265 286.3,1265.2 294.1,1265 302,1265 309.8,1264.9 317.7,1265 325.5,1265 333.4,1265.1 341.2,1265 349,1264.9 356.9,1264.9 364.7,1265.1 372.6,1264.9 380.4,1265 388.3,1264.9 396.1,1265 404,1264.9 411.8,1265 419.6,1264.6 427.5,1263.2 435.3,1261 443.2,1259.2 451,1256.9 458.9,1253.8 466.7,1246.8 474.6,1233.9 482.4,1206.7 490.3,1171.8 498.1,1181.4 505.9,1220.3 513.8,1244.7 521.6,1252.7 529.5,1258.9 537.3,1261.8 545.2,1262.9 553,1263.9 560.9,1264 568.7,1264.4 576.5,1264.6 584.4,1264.8 592.2,1264.8 600.1,1264.8 607.9,1264.7 615.8,1264.7 623.6,1264.9 631.5,1264.9 639.3,1264.8 647.2,1265.1 655,1265 662.8,1265.1 670.7,1265 678.5,1265 686.4,1265 694.2,1265.1 702.1,1265.1" stroke-linejoin="round"/><path fill="#2356A6" d="M182 1265.1a2.3 2.3 0 1 0 4.6 0a2.3 2.3 0 1 0 -4.6 0zM189.8 1265.3a2.3 2.3 0 1 0 4.6 0a2.3 2.3 0 1 0 -4.6 0zM197.7 1265.1a2.3 2.3 0 1 0 4.6 0a2.3 2.3 0 1 0 -4.6 0zM205.5 1265.2a2.3 2.3 0 1 0 4.6 0a2.3 2.3 0 1 0 -4.6 0zM213.4 1265a2.3 2.3 0 1 0 4.6 0a2.3 2.3 0 1 0 -4.6 0zM221.2 1265.1a2.3 2.3 0 1 0 4.6 0a2.3 2.3 0 1 0 -4.6 0zM229.1 1265.3a2.3 2.3 0 1 0 4.6 0a2.3 2.3 0 1 0 -4.6 0zM236.9 1265.1a2.3 2.3 0 1 0 4.6 0a2.3 2.3 0 1 0 -4.6 0zM244.8 1265.2a2.3 2.3 0 1 0 4.6 0a2.3 2.3 0 1 0 -4.6 0zM252.6 1265.1a2.3 2.3 0 1 0 4.6 0a2.3 2.3 0 1 0 -4.6 0zM260.4 1265.1a2.3 2.3 0 1 0 4.6 0a2.3 2.3 0 1 0 -4.6 0zM268.3 1265.1a2.3 2.3 0 1 0 4.6 0a2.3 2.3 0 1 0 -4.6 0zM276.1 1265a2.3 2.3 0 1 0 4.6 0a2.3 2.3 0 1 0 -4.6 0zM284 1265.2a2.3 2.3 0 1 0 4.6 0a2.3 2.3 0 1 0 -4.6 0zM291.8 1265a2.3 2.3 0 1 0 4.6 0a2.3 2.3 0 1 0 -4.6 0zM299.7 1265a2.3 2.3 0 1 0 4.6 0a2.3 2.3 0 1 0 -4.6 0zM307.5 1264.9a2.3 2.3 0 1 0 4.6 0a2.3 2.3 0 1 0 -4.6 0zM315.4 1265a2.3 2.3 0 1 0 4.6 0a2.3 2.3 0 1 0 -4.6 0zM323.2 1265a2.3 2.3 0 1 0 4.6 0a2.3 2.3 0 1 0 -4.6 0zM331.1 1265.1a2.3 2.3 0 1 0 4.6 0a2.3 2.3 0 1 0 -4.6 0zM338.9 1265a2.3 2.3 0 1 0 4.6 0a2.3 2.3 0 1 0 -4.6 0zM346.7 1264.9a2.3 2.3 0 1 0 4.6 0a2.3 2.3 0 1 0 -4.6 0zM354.6 1264.9a2.3 2.3 0 1 0 4.6 0a2.3 2.3 0 1 0 -4.6 0zM362.4 1265.1a2.3 2.3 0 1 0 4.6 0a2.3 2.3 0 1 0 -4.6 0zM370.3 1264.9a2.3 2.3 0 1 0 4.6 0a2.3 2.3 0 1 0 -4.6 0zM378.1 1265a2.3 2.3 0 1 0 4.6 0a2.3 2.3 0 1 0 -4.6 0zM386 1264.9a2.3 2.3 0 1 0 4.6 0a2.3 2.3 0 1 0 -4.6 0zM393.8 1265a2.3 2.3 0 1 0 4.6 0a2.3 2.3 0 1 0 -4.6 0zM401.7 1264.9a2.3 2.3 0 1 0 4.6 0a2.3 2.3 0 1 0 -4.6 0zM409.5 1265a2.3 2.3 0 1 0 4.6 0a2.3 2.3 0 1 0 -4.6 0zM417.3 1264.6a2.3 2.3 0 1 0 4.6 0a2.3 2.3 0 1 0 -4.6 0zM425.2 1263.2a2.3 2.3 0 1 0 4.6 0a2.3 2.3 0 1 0 -4.6 0zM433 1261a2.3 2.3 0 1 0 4.6 0a2.3 2.3 0 1 0 -4.6 0zM440.9 1259.2a2.3 2.3 0 1 0 4.6 0a2.3 2.3 0 1 0 -4.6 0zM448.7 1256.9a2.3 2.3 0 1 0 4.6 0a2.3 2.3 0 1 0 -4.6 0zM456.6 1253.8a2.3 2.3 0 1 0 4.6 0a2.3 2.3 0 1 0 -4.6 0zM464.4 1246.8a2.3 2.3 0 1 0 4.6 0a2.3 2.3 0 1 0 -4.6 0zM472.3 1233.9a2.3 2.3 0 1 0 4.6 0a2.3 2.3 0 1 0 -4.6 0zM480.1 1206.7a2.3 2.3 0 1 0 4.6 0a2.3 2.3 0 1 0 -4.6 0zM488 1171.8a2.3 2.3 0 1 0 4.6 0a2.3 2.3 0 1 0 -4.6 0zM495.8 1181.4a2.3 2.3 0 1 0 4.6 0a2.3 2.3 0 1 0 -4.6 0zM503.6 1220.3a2.3 2.3 0 1 0 4.6 0a2.3 2.3 0 1 0 -4.6 0zM511.5 1244.7a2.3 2.3 0 1 0 4.6 0a2.3 2.3 0 1 0 -4.6 0zM519.3 1252.7a2.3 2.3 0 1 0 4.6 0a2.3 2.3 0 1 0 -4.6 0zM527.2 1258.9a2.3 2.3 0 1 0 4.6 0a2.3 2.3 0 1 0 -4.6 0zM535 1261.8a2.3 2.3 0 1 0 4.6 0a2.3 2.3 0 1 0 -4.6 0zM542.9 1262.9a2.3 2.3 0 1 0 4.6 0a2.3 2.3 0 1 0 -4.6 0zM550.7 1263.9a2.3 2.3 0 1 0 4.6 0a2.3 2.3 0 1 0 -4.6 0zM558.6 1264a2.3 2.3 0 1 0 4.6 0a2.3 2.3 0 1 0 -4.6 0zM566.4 1264.4a2.3 2.3 0 1 0 4.6 0a2.3 2.3 0 1 0 -4.6 0zM574.2 1264.6a2.3 2.3 0 1 0 4.6 0a2.3 2.3 0 1 0 -4.6 0zM582.1 1264.8a2.3 2.3 0 1 0 4.6 0a2.3 2.3 0 1 0 -4.6 0zM589.9 1264.8a2.3 2.3 0 1 0 4.6 0a2.3 2.3 0 1 0 -4.6 0zM597.8 1264.8a2.3 2.3 0 1 0 4.6 0a2.3 2.3 0 1 0 -4.6 0zM605.6 1264.7a2.3 2.3 0 1 0 4.6 0a2.3 2.3 0 1 0 -4.6 0zM613.5 1264.7a2.3 2.3 0 1 0 4.6 0a2.3 2.3 0 1 0 -4.6 0zM621.3 1264.9a2.3 2.3 0 1 0 4.6 0a2.3 2.3 0 1 0 -4.6 0zM629.2 1264.9a2.3 2.3 0 1 0 4.6 0a2.3 2.3 0 1 0 -4.6 0zM637 1264.8a2.3 2.3 0 1 0 4.6 0a2.3 2.3 0 1 0 -4.6 0zM644.9 1265.1a2.3 2.3 0 1 0 4.6 0a2.3 2.3 0 1 0 -4.6 0zM652.7 1265a2.3 2.3 0 1 0 4.6 0a2.3 2.3 0 1 0 -4.6 0zM660.5 1265.1a2.3 2.3 0 1 0 4.6 0a2.3 2.3 0 1 0 -4.6 0zM668.4 1265a2.3 2.3 0 1 0 4.6 0a2.3 2.3 0 1 0 -4.6 0zM676.2 1265a2.3 2.3 0 1 0 4.6 0a2.3 2.3 0 1 0 -4.6 0zM684.1 1265a2.3 2.3 0 1 0 4.6 0a2.3 2.3 0 1 0 -4.6 0zM691.9 1265.1a2.3 2.3 0 1 0 4.6 0a2.3 2.3 0 1 0 -4.6 0zM699.8 1265.1a2.3 2.3 0 1 0 4.6 0a2.3 2.3 0 1 0 -4.6 0z" />
<rect x="180.3" y="847.9" width="529.6" height="135.7" fill="none" stroke="#000" stroke-width="2.9"/>
<rect x="180.3" y="991.5" width="529.6" height="135.9" fill="none" stroke="#000" stroke-width="2.9"/>
<rect x="180.3" y="1134.7" width="529.6" height="135.8" fill="none" stroke="#000" stroke-width="2.9"/>
<line x1="270" y1="847.9" x2="270" y2="855.6" stroke="#000" stroke-width="2.5" />
<text x="270" y="834.4" font-size="38" text-anchor="middle" fill="#000" >4</text>
<line x1="363.5" y1="847.9" x2="363.5" y2="855.6" stroke="#000" stroke-width="2.5" />
<text x="363.5" y="834.4" font-size="38" text-anchor="middle" fill="#000" >5</text>
<line x1="457.4" y1="847.9" x2="457.4" y2="855.6" stroke="#000" stroke-width="2.5" />
<text x="457.4" y="834.4" font-size="38" text-anchor="middle" fill="#000" >6</text>
<line x1="550.8" y1="847.9" x2="550.8" y2="855.6" stroke="#000" stroke-width="2.5" />
<text x="550.8" y="834.4" font-size="38" text-anchor="middle" fill="#000" >7</text>
<line x1="644.6" y1="847.9" x2="644.6" y2="855.6" stroke="#000" stroke-width="2.5" />
<text x="644.6" y="834.4" font-size="38" text-anchor="middle" fill="#000" >8</text>
<text x="243.2" y="1312" font-size="38" text-anchor="middle" fill="#000" >30</text>
<text x="358.6" y="1312" font-size="38" text-anchor="middle" fill="#000" >40</text>
<text x="473.8" y="1312" font-size="38" text-anchor="middle" fill="#000" >50</text>
<text x="589.6" y="1312" font-size="38" text-anchor="middle" fill="#000" >60</text>
<text x="705.2" y="1312" font-size="38" text-anchor="middle" fill="#000" >70</text>
<text x="191.9" y="893.7" font-size="33.5" text-anchor="start" fill="#000" >300 K</text>
<text x="194.5" y="1033.6" font-size="33.5" text-anchor="start" fill="#000" >50 K</text>
<text x="191.5" y="1176.3" font-size="33.5" text-anchor="start" fill="#000" >15 K</text>
<text x="441" y="785.6" font-size="39" text-anchor="middle" fill="#000" >Energy (meV)</text>
<text x="283" y="1369.5" font-size="38.5">Raman Shift (cm<tspan font-size="27" dy="-17">-1</tspan><tspan dy="17">)</tspan></text>
<text transform="translate(101,1050) rotate(-90)" font-size="38" text-anchor="middle">Intensity (a.u.)</text>
<text x="2.5" y="767.2" font-size="62" text-anchor="start" fill="#000" >(b)</text>
<line x1="619.3" y1="863.9" x2="657.8" y2="863.9" stroke="#E0243A" stroke-width="1.6" />
<circle cx="638.4" cy="863.9" r="6.2" fill="#E0243A"/>
<text x="668.5" y="870.8" font-size="22" text-anchor="start" fill="#000" >LR</text>
<line x1="619.3" y1="887.6" x2="657.8" y2="887.6" stroke="#2356A6" stroke-width="1.6" />
<circle cx="638.4" cy="887.6" r="6.2" fill="#2356A6"/>
<text x="668.5" y="894.4" font-size="22" text-anchor="start" fill="#000" >RL</text>
<line x1="619.3" y1="911.1" x2="656.3" y2="911.1" stroke="#A3238E" stroke-width="1.8" stroke-dasharray="8.3 6"/>
<text x="668.5" y="918.2" font-size="22" text-anchor="start" fill="#000" >LL</text>
<line x1="619.3" y1="934.7" x2="656.3" y2="934.7" stroke="#1C5A66" stroke-width="1.8" stroke-dasharray="8.3 6"/>
<text x="668.5" y="941.9" font-size="22" text-anchor="start" fill="#000" >RR</text>
<line x1="859" y1="845.6" x2="1245.2" y2="845.6" stroke="#000" stroke-width="3" />
<line x1="859" y1="1271.4" x2="1244.6" y2="1271.4" stroke="#000" stroke-width="3" />
<line x1="860.5" y1="845.6" x2="860.5" y2="1271.4" stroke="#646464" stroke-width="3" />
<line x1="1243.4" y1="847.1" x2="1243.4" y2="1271.4" stroke="#F5A31D" stroke-width="3.2" />
<line x1="887.8" y1="845.6" x2="887.8" y2="856.1" stroke="#000" stroke-width="2.6" />
<line x1="887.8" y1="1271.4" x2="887.8" y2="1260.9" stroke="#000" stroke-width="2.6" />
<text x="887.8" y="1314" font-size="38.5" text-anchor="middle" fill="#000" >20</text>
<line x1="974.7" y1="845.6" x2="974.7" y2="856.1" stroke="#000" stroke-width="2.6" />
<line x1="974.7" y1="1271.4" x2="974.7" y2="1260.9" stroke="#000" stroke-width="2.6" />
<text x="974.7" y="1314" font-size="38.5" text-anchor="middle" fill="#000" >40</text>
<line x1="1061.3" y1="845.6" x2="1061.3" y2="856.1" stroke="#000" stroke-width="2.6" />
<line x1="1061.3" y1="1271.4" x2="1061.3" y2="1260.9" stroke="#000" stroke-width="2.6" />
<text x="1061.3" y="1314" font-size="38.5" text-anchor="middle" fill="#000" >60</text>
<line x1="1148" y1="845.6" x2="1148" y2="856.1" stroke="#000" stroke-width="2.6" />
<line x1="1148" y1="1271.4" x2="1148" y2="1260.9" stroke="#000" stroke-width="2.6" />
<text x="1148" y="1314" font-size="38.5" text-anchor="middle" fill="#000" >80</text>
<line x1="1234.9" y1="845.6" x2="1234.9" y2="856.1" stroke="#000" stroke-width="2.6" />
<line x1="1234.9" y1="1271.4" x2="1234.9" y2="1260.9" stroke="#000" stroke-width="2.6" />
<text x="1230.4" y="1314" font-size="38.5" text-anchor="middle" fill="#000" >100</text>
<line x1="860.5" y1="1266.8" x2="871" y2="1266.8" stroke="#646464" stroke-width="2.6" />
<text x="853.4" y="1280.6" font-size="39" text-anchor="end" fill="#646464" >0.0</text>
<line x1="860.5" y1="1209.4" x2="866" y2="1209.4" stroke="#646464" stroke-width="2.6" />
<line x1="860.5" y1="1152" x2="871" y2="1152" stroke="#646464" stroke-width="2.6" />
<text x="853.4" y="1165.8" font-size="39" text-anchor="end" fill="#646464" >0.4</text>
<line x1="860.5" y1="1094.6" x2="866" y2="1094.6" stroke="#646464" stroke-width="2.6" />
<line x1="860.5" y1="1037.2" x2="871" y2="1037.2" stroke="#646464" stroke-width="2.6" />
<text x="853.4" y="1051" font-size="39" text-anchor="end" fill="#646464" >0.8</text>
<line x1="860.5" y1="979.8" x2="866" y2="979.8" stroke="#646464" stroke-width="2.6" />
<line x1="860.5" y1="922.4" x2="871" y2="922.4" stroke="#646464" stroke-width="2.6" />
<text x="853.4" y="936.2" font-size="39" text-anchor="end" fill="#646464" >1.2</text>
<line x1="860.5" y1="865" x2="866" y2="865" stroke="#646464" stroke-width="2.6" />
<line x1="1243.4" y1="1259.8" x2="1232.9" y2="1259.8" stroke="#F5A31D" stroke-width="2.6" />
<line x1="1243.4" y1="1085.3" x2="1232.9" y2="1085.3" stroke="#F5A31D" stroke-width="2.6" />
<line x1="1243.4" y1="911.2" x2="1232.9" y2="911.2" stroke="#F5A31D" stroke-width="2.6" />
<text x="1251.6" y="1269.8" font-size="35" text-anchor="start" fill="#F5A31D" >0.0</text>
<text x="1251.6" y="922.1" font-size="35" text-anchor="start" fill="#F5A31D" >1.0</text>
<polyline fill="none" stroke="#646464" stroke-width="1.4" points="870,861.4 872.2,861.6 874.3,861.8 876.5,862 878.7,862.2 880.9,862.5 883,862.9 885.2,863.3 887.4,863.7 889.5,864.1 891.7,864.5 893.9,864.9 896,865.3 898.2,865.7 900.4,866.1 902.6,866.8 904.7,867.4 906.9,868.1 909.1,868.7 911.2,869.4 913.4,870 915.6,870.8 917.7,871.8 919.9,872.8 922.1,873.8 924.3,874.8 926.4,875.8 928.6,876.8 930.8,877.9 932.9,879.1 935.1,880.3 937.3,881.5 939.4,882.6 941.6,883.8 943.8,885.2 946,886.6 948.1,888.1 950.3,889.5 952.5,890.9 954.6,892.5 956.8,894.3 959,896.2 961.1,898.1 963.3,899.9 965.5,902.1 967.7,904.4 970.3,907.1 974.6,913 978.9,920.1 983.3,928.5 987.6,939.3 992,954.2 996.3,972 1000.6,999.4 1005,1034 1009.3,1081.1 1013.7,1147.9 1018,1208.3 1022.3,1230.9 1026.7,1241.3 1031,1247.5 1035.4,1251 1039.7,1253.8 1044,1255.4 1048.4,1256.9 1052.7,1258 1057.1,1258.8 1061.4,1259.5 1063.6,1259.6 1065.7,1259.7 1067.9,1259.9 1070.1,1260 1072.2,1260.1 1074.4,1260.2 1076.6,1260.3 1078.8,1260.4 1080.9,1260.5 1083.1,1260.6 1085.3,1260.7 1087.4,1260.9 1089.6,1261 1091.8,1261.1 1094,1261.2 1096.1,1261.3 1098.3,1261.4 1100.5,1261.5 1102.6,1261.5 1104.8,1261.6 1107,1261.6 1109.1,1261.7 1111.3,1261.7 1113.5,1261.7 1115.6,1261.8 1117.8,1261.8 1120,1261.8 1122.2,1261.9 1124.3,1261.9 1126.5,1261.9 1128.7,1262 1130.8,1262 1133,1262.1 1135.2,1262.1 1137.3,1262.1 1139.5,1262.2 1141.7,1262.2 1143.9,1262.2 1146,1262.3 1148.2,1262.3 1150.4,1262.3 1152.5,1262.3 1154.7,1262.3 1156.9,1262.3 1159,1262.3 1161.2,1262.3 1163.4,1262.4 1165.6,1262.4 1167.7,1262.4 1169.9,1262.4 1172.1,1262.4 1174.2,1262.4 1176.4,1262.4 1178.6,1262.4 1180.8,1262.4 1182.9,1262.4 1185.1,1262.4 1187.3,1262.4 1189.4,1262.4 1191.6,1262.5 1193.8,1262.5 1195.9,1262.5 1198.1,1262.5 1200.3,1262.5 1202.4,1262.5 1204.6,1262.5 1206.8,1262.5 1209,1262.5 1211.1,1262.5 1213.3,1262.5 1215.5,1262.5 1217.6,1262.5 1219.8,1262.5 1222,1262.6 1224.1,1262.6 1226.3,1262.6 1228.5,1262.6 1230.7,1262.6 1232.8,1262.6 1235,1262.6" />
<path fill="#646464" d="M865.6 861.4a4.4 4.4 0 1 0 8.8 0a4.4 4.4 0 1 0 -8.8 0zM867.8 861.6a4.4 4.4 0 1 0 8.8 0a4.4 4.4 0 1 0 -8.8 0zM869.9 861.8a4.4 4.4 0 1 0 8.8 0a4.4 4.4 0 1 0 -8.8 0zM872.1 862a4.4 4.4 0 1 0 8.8 0a4.4 4.4 0 1 0 -8.8 0zM874.3 862.2a4.4 4.4 0 1 0 8.8 0a4.4 4.4 0 1 0 -8.8 0zM876.5 862.5a4.4 4.4 0 1 0 8.8 0a4.4 4.4 0 1 0 -8.8 0zM878.6 862.9a4.4 4.4 0 1 0 8.8 0a4.4 4.4 0 1 0 -8.8 0zM880.8 863.3a4.4 4.4 0 1 0 8.8 0a4.4 4.4 0 1 0 -8.8 0zM883 863.7a4.4 4.4 0 1 0 8.8 0a4.4 4.4 0 1 0 -8.8 0zM885.1 864.1a4.4 4.4 0 1 0 8.8 0a4.4 4.4 0 1 0 -8.8 0zM887.3 864.5a4.4 4.4 0 1 0 8.8 0a4.4 4.4 0 1 0 -8.8 0zM889.5 864.9a4.4 4.4 0 1 0 8.8 0a4.4 4.4 0 1 0 -8.8 0zM891.6 865.3a4.4 4.4 0 1 0 8.8 0a4.4 4.4 0 1 0 -8.8 0zM893.8 865.7a4.4 4.4 0 1 0 8.8 0a4.4 4.4 0 1 0 -8.8 0zM896 866.1a4.4 4.4 0 1 0 8.8 0a4.4 4.4 0 1 0 -8.8 0zM898.2 866.8a4.4 4.4 0 1 0 8.8 0a4.4 4.4 0 1 0 -8.8 0zM900.3 867.4a4.4 4.4 0 1 0 8.8 0a4.4 4.4 0 1 0 -8.8 0zM902.5 868.1a4.4 4.4 0 1 0 8.8 0a4.4 4.4 0 1 0 -8.8 0zM904.7 868.7a4.4 4.4 0 1 0 8.8 0a4.4 4.4 0 1 0 -8.8 0zM906.8 869.4a4.4 4.4 0 1 0 8.8 0a4.4 4.4 0 1 0 -8.8 0zM909 870a4.4 4.4 0 1 0 8.8 0a4.4 4.4 0 1 0 -8.8 0zM911.2 870.8a4.4 4.4 0 1 0 8.8 0a4.4 4.4 0 1 0 -8.8 0zM913.3 871.8a4.4 4.4 0 1 0 8.8 0a4.4 4.4 0 1 0 -8.8 0zM915.5 872.8a4.4 4.4 0 1 0 8.8 0a4.4 4.4 0 1 0 -8.8 0zM917.7 873.8a4.4 4.4 0 1 0 8.8 0a4.4 4.4 0 1 0 -8.8 0zM919.9 874.8a4.4 4.4 0 1 0 8.8 0a4.4 4.4 0 1 0 -8.8 0zM922 875.8a4.4 4.4 0 1 0 8.8 0a4.4 4.4 0 1 0 -8.8 0zM924.2 876.8a4.4 4.4 0 1 0 8.8 0a4.4 4.4 0 1 0 -8.8 0zM926.4 877.9a4.4 4.4 0 1 0 8.8 0a4.4 4.4 0 1 0 -8.8 0zM928.5 879.1a4.4 4.4 0 1 0 8.8 0a4.4 4.4 0 1 0 -8.8 0zM930.7 880.3a4.4 4.4 0 1 0 8.8 0a4.4 4.4 0 1 0 -8.8 0zM932.9 881.5a4.4 4.4 0 1 0 8.8 0a4.4 4.4 0 1 0 -8.8 0zM935 882.6a4.4 4.4 0 1 0 8.8 0a4.4 4.4 0 1 0 -8.8 0zM937.2 883.8a4.4 4.4 0 1 0 8.8 0a4.4 4.4 0 1 0 -8.8 0zM939.4 885.2a4.4 4.4 0 1 0 8.8 0a4.4 4.4 0 1 0 -8.8 0zM941.6 886.6a4.4 4.4 0 1 0 8.8 0a4.4 4.4 0 1 0 -8.8 0zM943.7 888.1a4.4 4.4 0 1 0 8.8 0a4.4 4.4 0 1 0 -8.8 0zM945.9 889.5a4.4 4.4 0 1 0 8.8 0a4.4 4.4 0 1 0 -8.8 0zM948.1 890.9a4.4 4.4 0 1 0 8.8 0a4.4 4.4 0 1 0 -8.8 0zM950.2 892.5a4.4 4.4 0 1 0 8.8 0a4.4 4.4 0 1 0 -8.8 0zM952.4 894.3a4.4 4.4 0 1 0 8.8 0a4.4 4.4 0 1 0 -8.8 0zM954.6 896.2a4.4 4.4 0 1 0 8.8 0a4.4 4.4 0 1 0 -8.8 0zM956.7 898.1a4.4 4.4 0 1 0 8.8 0a4.4 4.4 0 1 0 -8.8 0zM958.9 899.9a4.4 4.4 0 1 0 8.8 0a4.4 4.4 0 1 0 -8.8 0zM961.1 902.1a4.4 4.4 0 1 0 8.8 0a4.4 4.4 0 1 0 -8.8 0zM963.3 904.4a4.4 4.4 0 1 0 8.8 0a4.4 4.4 0 1 0 -8.8 0zM965.9 907.1a4.4 4.4 0 1 0 8.8 0a4.4 4.4 0 1 0 -8.8 0zM970.2 913a4.4 4.4 0 1 0 8.8 0a4.4 4.4 0 1 0 -8.8 0zM974.5 920.1a4.4 4.4 0 1 0 8.8 0a4.4 4.4 0 1 0 -8.8 0zM978.9 928.5a4.4 4.4 0 1 0 8.8 0a4.4 4.4 0 1 0 -8.8 0zM983.2 939.3a4.4 4.4 0 1 0 8.8 0a4.4 4.4 0 1 0 -8.8 0zM987.6 954.2a4.4 4.4 0 1 0 8.8 0a4.4 4.4 0 1 0 -8.8 0zM991.9 972a4.4 4.4 0 1 0 8.8 0a4.4 4.4 0 1 0 -8.8 0zM996.2 999.4a4.4 4.4 0 1 0 8.8 0a4.4 4.4 0 1 0 -8.8 0zM1000.6 1034a4.4 4.4 0 1 0 8.8 0a4.4 4.4 0 1 0 -8.8 0zM1004.9 1081.1a4.4 4.4 0 1 0 8.8 0a4.4 4.4 0 1 0 -8.8 0zM1009.3 1147.9a4.4 4.4 0 1 0 8.8 0a4.4 4.4 0 1 0 -8.8 0zM1013.6 1208.3a4.4 4.4 0 1 0 8.8 0a4.4 4.4 0 1 0 -8.8 0zM1017.9 1230.9a4.4 4.4 0 1 0 8.8 0a4.4 4.4 0 1 0 -8.8 0zM1022.3 1241.3a4.4 4.4 0 1 0 8.8 0a4.4 4.4 0 1 0 -8.8 0zM1026.6 1247.5a4.4 4.4 0 1 0 8.8 0a4.4 4.4 0 1 0 -8.8 0zM1031 1251a4.4 4.4 0 1 0 8.8 0a4.4 4.4 0 1 0 -8.8 0zM1035.3 1253.8a4.4 4.4 0 1 0 8.8 0a4.4 4.4 0 1 0 -8.8 0zM1039.6 1255.4a4.4 4.4 0 1 0 8.8 0a4.4 4.4 0 1 0 -8.8 0zM1044 1256.9a4.4 4.4 0 1 0 8.8 0a4.4 4.4 0 1 0 -8.8 0zM1048.3 1258a4.4 4.4 0 1 0 8.8 0a4.4 4.4 0 1 0 -8.8 0zM1052.7 1258.8a4.4 4.4 0 1 0 8.8 0a4.4 4.4 0 1 0 -8.8 0zM1057 1259.5a4.4 4.4 0 1 0 8.8 0a4.4 4.4 0 1 0 -8.8 0zM1059.2 1259.6a4.4 4.4 0 1 0 8.8 0a4.4 4.4 0 1 0 -8.8 0zM1061.3 1259.7a4.4 4.4 0 1 0 8.8 0a4.4 4.4 0 1 0 -8.8 0zM1063.5 1259.9a4.4 4.4 0 1 0 8.8 0a4.4 4.4 0 1 0 -8.8 0zM1065.7 1260a4.4 4.4 0 1 0 8.8 0a4.4 4.4 0 1 0 -8.8 0zM1067.8 1260.1a4.4 4.4 0 1 0 8.8 0a4.4 4.4 0 1 0 -8.8 0zM1070 1260.2a4.4 4.4 0 1 0 8.8 0a4.4 4.4 0 1 0 -8.8 0zM1072.2 1260.3a4.4 4.4 0 1 0 8.8 0a4.4 4.4 0 1 0 -8.8 0zM1074.4 1260.4a4.4 4.4 0 1 0 8.8 0a4.4 4.4 0 1 0 -8.8 0zM1076.5 1260.5a4.4 4.4 0 1 0 8.8 0a4.4 4.4 0 1 0 -8.8 0zM1078.7 1260.6a4.4 4.4 0 1 0 8.8 0a4.4 4.4 0 1 0 -8.8 0zM1080.9 1260.7a4.4 4.4 0 1 0 8.8 0a4.4 4.4 0 1 0 -8.8 0zM1083 1260.9a4.4 4.4 0 1 0 8.8 0a4.4 4.4 0 1 0 -8.8 0zM1085.2 1261a4.4 4.4 0 1 0 8.8 0a4.4 4.4 0 1 0 -8.8 0zM1087.4 1261.1a4.4 4.4 0 1 0 8.8 0a4.4 4.4 0 1 0 -8.8 0zM1089.5 1261.2a4.4 4.4 0 1 0 8.8 0a4.4 4.4 0 1 0 -8.8 0zM1091.7 1261.3a4.4 4.4 0 1 0 8.8 0a4.4 4.4 0 1 0 -8.8 0zM1093.9 1261.4a4.4 4.4 0 1 0 8.8 0a4.4 4.4 0 1 0 -8.8 0zM1096.1 1261.5a4.4 4.4 0 1 0 8.8 0a4.4 4.4 0 1 0 -8.8 0zM1098.2 1261.5a4.4 4.4 0 1 0 8.8 0a4.4 4.4 0 1 0 -8.8 0zM1100.4 1261.6a4.4 4.4 0 1 0 8.8 0a4.4 4.4 0 1 0 -8.8 0zM1102.6 1261.6a4.4 4.4 0 1 0 8.8 0a4.4 4.4 0 1 0 -8.8 0zM1104.7 1261.7a4.4 4.4 0 1 0 8.8 0a4.4 4.4 0 1 0 -8.8 0zM1106.9 1261.7a4.4 4.4 0 1 0 8.8 0a4.4 4.4 0 1 0 -8.8 0zM1109.1 1261.7a4.4 4.4 0 1 0 8.8 0a4.4 4.4 0 1 0 -8.8 0zM1111.2 1261.8a4.4 4.4 0 1 0 8.8 0a4.4 4.4 0 1 0 -8.8 0zM1113.4 1261.8a4.4 4.4 0 1 0 8.8 0a4.4 4.4 0 1 0 -8.8 0zM1115.6 1261.8a4.4 4.4 0 1 0 8.8 0a4.4 4.4 0 1 0 -8.8 0zM1117.8 1261.9a4.4 4.4 0 1 0 8.8 0a4.4 4.4 0 1 0 -8.8 0zM1119.9 1261.9a4.4 4.4 0 1 0 8.8 0a4.4 4.4 0 1 0 -8.8 0zM1122.1 1261.9a4.4 4.4 0 1 0 8.8 0a4.4 4.4 0 1 0 -8.8 0zM1124.3 1262a4.4 4.4 0 1 0 8.8 0a4.4 4.4 0 1 0 -8.8 0zM1126.4 1262a4.4 4.4 0 1 0 8.8 0a4.4 4.4 0 1 0 -8.8 0zM1128.6 1262.1a4.4 4.4 0 1 0 8.8 0a4.4 4.4 0 1 0 -8.8 0zM1130.8 1262.1a4.4 4.4 0 1 0 8.8 0a4.4 4.4 0 1 0 -8.8 0zM1132.9 1262.1a4.4 4.4 0 1 0 8.8 0a4.4 4.4 0 1 0 -8.8 0zM1135.1 1262.2a4.4 4.4 0 1 0 8.8 0a4.4 4.4 0 1 0 -8.8 0zM1137.3 1262.2a4.4 4.4 0 1 0 8.8 0a4.4 4.4 0 1 0 -8.8 0zM1139.5 1262.2a4.4 4.4 0 1 0 8.8 0a4.4 4.4 0 1 0 -8.8 0zM1141.6 1262.3a4.4 4.4 0 1 0 8.8 0a4.4 4.4 0 1 0 -8.8 0zM1143.8 1262.3a4.4 4.4 0 1 0 8.8 0a4.4 4.4 0 1 0 -8.8 0zM1146 1262.3a4.4 4.4 0 1 0 8.8 0a4.4 4.4 0 1 0 -8.8 0zM1148.1 1262.3a4.4 4.4 0 1 0 8.8 0a4.4 4.4 0 1 0 -8.8 0zM1150.3 1262.3a4.4 4.4 0 1 0 8.8 0a4.4 4.4 0 1 0 -8.8 0zM1152.5 1262.3a4.4 4.4 0 1 0 8.8 0a4.4 4.4 0 1 0 -8.8 0zM1154.6 1262.3a4.4 4.4 0 1 0 8.8 0a4.4 4.4 0 1 0 -8.8 0zM1156.8 1262.3a4.4 4.4 0 1 0 8.8 0a4.4 4.4 0 1 0 -8.8 0zM1159 1262.4a4.4 4.4 0 1 0 8.8 0a4.4 4.4 0 1 0 -8.8 0zM1161.2 1262.4a4.4 4.4 0 1 0 8.8 0a4.4 4.4 0 1 0 -8.8 0zM1163.3 1262.4a4.4 4.4 0 1 0 8.8 0a4.4 4.4 0 1 0 -8.8 0zM1165.5 1262.4a4.4 4.4 0 1 0 8.8 0a4.4 4.4 0 1 0 -8.8 0zM1167.7 1262.4a4.4 4.4 0 1 0 8.8 0a4.4 4.4 0 1 0 -8.8 0zM1169.8 1262.4a4.4 4.4 0 1 0 8.8 0a4.4 4.4 0 1 0 -8.8 0zM1172 1262.4a4.4 4.4 0 1 0 8.8 0a4.4 4.4 0 1 0 -8.8 0zM1174.2 1262.4a4.4 4.4 0 1 0 8.8 0a4.4 4.4 0 1 0 -8.8 0zM1176.3 1262.4a4.4 4.4 0 1 0 8.8 0a4.4 4.4 0 1 0 -8.8 0zM1178.5 1262.4a4.4 4.4 0 1 0 8.8 0a4.4 4.4 0 1 0 -8.8 0zM1180.7 1262.4a4.4 4.4 0 1 0 8.8 0a4.4 4.4 0 1 0 -8.8 0zM1182.9 1262.4a4.4 4.4 0 1 0 8.8 0a4.4 4.4 0 1 0 -8.8 0zM1185 1262.4a4.4 4.4 0 1 0 8.8 0a4.4 4.4 0 1 0 -8.8 0zM1187.2 1262.5a4.4 4.4 0 1 0 8.8 0a4.4 4.4 0 1 0 -8.8 0zM1189.4 1262.5a4.4 4.4 0 1 0 8.8 0a4.4 4.4 0 1 0 -8.8 0zM1191.5 1262.5a4.4 4.4 0 1 0 8.8 0a4.4 4.4 0 1 0 -8.8 0zM1193.7 1262.5a4.4 4.4 0 1 0 8.8 0a4.4 4.4 0 1 0 -8.8 0zM1195.9 1262.5a4.4 4.4 0 1 0 8.8 0a4.4 4.4 0 1 0 -8.8 0zM1198 1262.5a4.4 4.4 0 1 0 8.8 0a4.4 4.4 0 1 0 -8.8 0zM1200.2 1262.5a4.4 4.4 0 1 0 8.8 0a4.4 4.4 0 1 0 -8.8 0zM1202.4 1262.5a4.4 4.4 0 1 0 8.8 0a4.4 4.4 0 1 0 -8.8 0zM1204.6 1262.5a4.4 4.4 0 1 0 8.8 0a4.4 4.4 0 1 0 -8.8 0zM1206.7 1262.5a4.4 4.4 0 1 0 8.8 0a4.4 4.4 0 1 0 -8.8 0zM1208.9 1262.5a4.4 4.4 0 1 0 8.8 0a4.4 4.4 0 1 0 -8.8 0zM1211.1 1262.5a4.4 4.4 0 1 0 8.8 0a4.4 4.4 0 1 0 -8.8 0zM1213.2 1262.5a4.4 4.4 0 1 0 8.8 0a4.4 4.4 0 1 0 -8.8 0zM1215.4 1262.5a4.4 4.4 0 1 0 8.8 0a4.4 4.4 0 1 0 -8.8 0zM1217.6 1262.6a4.4 4.4 0 1 0 8.8 0a4.4 4.4 0 1 0 -8.8 0zM1219.7 1262.6a4.4 4.4 0 1 0 8.8 0a4.4 4.4 0 1 0 -8.8 0zM1221.9 1262.6a4.4 4.4 0 1 0 8.8 0a4.4 4.4 0 1 0 -8.8 0zM1224.1 1262.6a4.4 4.4 0 1 0 8.8 0a4.4 4.4 0 1 0 -8.8 0zM1226.3 1262.6a4.4 4.4 0 1 0 8.8 0a4.4 4.4 0 1 0 -8.8 0zM1228.4 1262.6a4.4 4.4 0 1 0 8.8 0a4.4 4.4 0 1 0 -8.8 0zM1230.6 1262.6a4.4 4.4 0 1 0 8.8 0a4.4 4.4 0 1 0 -8.8 0z" />
<circle cx="866.5" cy="864.8" r="4.1" fill="#fff" stroke="#F5A31D" stroke-width="2.1"/>
<circle cx="888" cy="864.8" r="4.1" fill="#fff" stroke="#F5A31D" stroke-width="2.1"/>
<circle cx="909.5" cy="864.8" r="4.1" fill="#fff" stroke="#F5A31D" stroke-width="2.1"/>
<circle cx="931.2" cy="864.8" r="4.1" fill="#fff" stroke="#F5A31D" stroke-width="2.1"/>
<circle cx="952.9" cy="867.4" r="4.1" fill="#fff" stroke="#F5A31D" stroke-width="2.1"/>
<circle cx="957.5" cy="869.2" r="4.1" fill="#fff" stroke="#F5A31D" stroke-width="2.1"/>
<circle cx="966.1" cy="872.7" r="4.1" fill="#fff" stroke="#F5A31D" stroke-width="2.1"/>
<circle cx="974.6" cy="888.6" r="4.1" fill="#fff" stroke="#F5A31D" stroke-width="2.1"/>
<line x1="983.3" y1="930.3" x2="983.3" y2="940.3" stroke="#F5A31D" stroke-width="1.2" />
<line x1="979.1" y1="930.3" x2="987.5" y2="930.3" stroke="#F5A31D" stroke-width="1.2" />
<line x1="979.1" y1="940.3" x2="987.5" y2="940.3" stroke="#F5A31D" stroke-width="1.2" />
<circle cx="983.3" cy="935.3" r="4.1" fill="#fff" stroke="#F5A31D" stroke-width="2.1"/>
<line x1="992.2" y1="1069.2" x2="992.2" y2="1091.2" stroke="#F5A31D" stroke-width="1.2" />
<line x1="988" y1="1069.2" x2="996.4" y2="1069.2" stroke="#F5A31D" stroke-width="1.2" />
<line x1="988" y1="1091.2" x2="996.4" y2="1091.2" stroke="#F5A31D" stroke-width="1.2" />
<circle cx="992.2" cy="1080.2" r="4.1" fill="#fff" stroke="#F5A31D" stroke-width="2.1"/>
<line x1="996.5" y1="1175.6" x2="996.5" y2="1191.6" stroke="#F5A31D" stroke-width="1.2" />
<line x1="992.3" y1="1175.6" x2="1000.7" y2="1175.6" stroke="#F5A31D" stroke-width="1.2" />
<line x1="992.3" y1="1191.6" x2="1000.7" y2="1191.6" stroke="#F5A31D" stroke-width="1.2" />
<circle cx="996.5" cy="1183.6" r="4.1" fill="#fff" stroke="#F5A31D" stroke-width="2.1"/>
<line x1="1005.1" y1="1232.3" x2="1005.1" y2="1242.3" stroke="#F5A31D" stroke-width="1.2" />
<line x1="1000.9" y1="1232.3" x2="1009.3" y2="1232.3" stroke="#F5A31D" stroke-width="1.2" />
<line x1="1000.9" y1="1242.3" x2="1009.3" y2="1242.3" stroke="#F5A31D" stroke-width="1.2" />
<circle cx="1005.1" cy="1237.3" r="4.1" fill="#fff" stroke="#F5A31D" stroke-width="2.1"/>
<line x1="1013.9" y1="1254.3" x2="1013.9" y2="1262.3" stroke="#F5A31D" stroke-width="1.2" />
<line x1="1009.7" y1="1254.3" x2="1018.1" y2="1254.3" stroke="#F5A31D" stroke-width="1.2" />
<line x1="1009.7" y1="1262.3" x2="1018.1" y2="1262.3" stroke="#F5A31D" stroke-width="1.2" />
<circle cx="1013.9" cy="1258.3" r="4.1" fill="#fff" stroke="#F5A31D" stroke-width="2.1"/>
<line x1="1022.3" y1="1252.9" x2="1022.3" y2="1260.9" stroke="#F5A31D" stroke-width="1.2" />
<line x1="1018.1" y1="1252.9" x2="1026.5" y2="1252.9" stroke="#F5A31D" stroke-width="1.2" />
<line x1="1018.1" y1="1260.9" x2="1026.5" y2="1260.9" stroke="#F5A31D" stroke-width="1.2" />
<circle cx="1022.3" cy="1256.9" r="4.1" fill="#fff" stroke="#F5A31D" stroke-width="2.1"/>
<line x1="1030.7" y1="1253.5" x2="1030.7" y2="1261.5" stroke="#F5A31D" stroke-width="1.2" />
<line x1="1026.5" y1="1253.5" x2="1034.9" y2="1253.5" stroke="#F5A31D" stroke-width="1.2" />
<line x1="1026.5" y1="1261.5" x2="1034.9" y2="1261.5" stroke="#F5A31D" stroke-width="1.2" />
<circle cx="1030.7" cy="1257.5" r="4.1" fill="#fff" stroke="#F5A31D" stroke-width="2.1"/>
<line x1="1040" y1="1245.3" x2="1040" y2="1257.3" stroke="#F5A31D" stroke-width="1.2" />
<line x1="1035.8" y1="1245.3" x2="1044.2" y2="1245.3" stroke="#F5A31D" stroke-width="1.2" />
<line x1="1035.8" y1="1257.3" x2="1044.2" y2="1257.3" stroke="#F5A31D" stroke-width="1.2" />
<circle cx="1040" cy="1251.3" r="4.1" fill="#fff" stroke="#F5A31D" stroke-width="2.1"/>
<line x1="1061.6" y1="1251.3" x2="1061.6" y2="1265.3" stroke="#F5A31D" stroke-width="1.2" />
<line x1="1057.4" y1="1251.3" x2="1065.8" y2="1251.3" stroke="#F5A31D" stroke-width="1.2" />
<line x1="1057.4" y1="1265.3" x2="1065.8" y2="1265.3" stroke="#F5A31D" stroke-width="1.2" />
<circle cx="1061.6" cy="1258.3" r="4.1" fill="#fff" stroke="#F5A31D" stroke-width="2.1"/>
<line x1="1104.9" y1="1240.6" x2="1104.9" y2="1254.6" stroke="#F5A31D" stroke-width="1.2" />
<line x1="1100.7" y1="1240.6" x2="1109.1" y2="1240.6" stroke="#F5A31D" stroke-width="1.2" />
<line x1="1100.7" y1="1254.6" x2="1109.1" y2="1254.6" stroke="#F5A31D" stroke-width="1.2" />
<circle cx="1104.9" cy="1247.6" r="4.1" fill="#fff" stroke="#F5A31D" stroke-width="2.1"/>
<line x1="1148" y1="1246.8" x2="1148" y2="1260.8" stroke="#F5A31D" stroke-width="1.2" />
<line x1="1143.8" y1="1246.8" x2="1152.2" y2="1246.8" stroke="#F5A31D" stroke-width="1.2" />
<line x1="1143.8" y1="1260.8" x2="1152.2" y2="1260.8" stroke="#F5A31D" stroke-width="1.2" />
<circle cx="1148" cy="1253.8" r="4.1" fill="#fff" stroke="#F5A31D" stroke-width="2.1"/>
<line x1="1191.5" y1="1245.3" x2="1191.5" y2="1259.3" stroke="#F5A31D" stroke-width="1.2" />
<line x1="1187.3" y1="1245.3" x2="1195.7" y2="1245.3" stroke="#F5A31D" stroke-width="1.2" />
<line x1="1187.3" y1="1259.3" x2="1195.7" y2="1259.3" stroke="#F5A31D" stroke-width="1.2" />
<circle cx="1191.5" cy="1252.3" r="4.1" fill="#fff" stroke="#F5A31D" stroke-width="2.1"/>
<line x1="1234.9" y1="1245.8" x2="1234.9" y2="1259.8" stroke="#F5A31D" stroke-width="1.2" />
<line x1="1230.7" y1="1245.8" x2="1239.1" y2="1245.8" stroke="#F5A31D" stroke-width="1.2" />
<line x1="1230.7" y1="1259.8" x2="1239.1" y2="1259.8" stroke="#F5A31D" stroke-width="1.2" />
<circle cx="1234.9" cy="1252.8" r="4.1" fill="#fff" stroke="#F5A31D" stroke-width="2.1"/>
<line x1="962.5" y1="996.7" x2="905" y2="996.7" stroke="#646464" stroke-width="1.8" />
<path d="M897.7 996.7L908.8 991.2L908.8 1002.2Z" fill="#646464"/>
<line x1="1127.8" y1="1193.4" x2="1184" y2="1193.4" stroke="#F5A31D" stroke-width="1.8" />
<path d="M1192 1193.4L1181 1188.1L1181 1198.7Z" fill="#F5A31D"/>
<circle cx="1144.2" cy="897.4" r="8.1" fill="#fff" stroke="#F5A31D" stroke-width="1.8"/>
<text x="1177" y="903.9" font-size="22" font-family="'Liberation Serif', serif">&#916;</text>
<line x1="1121.2" y1="923.8" x2="1166.5" y2="923.8" stroke="#646464" stroke-width="1.5" />
<circle cx="1143.9" cy="923.8" r="8.2" fill="#646464"/>
<text x="1177.6" y="930.8" font-size="22" text-anchor="start" fill="#000" >M</text>
<text x="1051.5" y="1369" font-size="39" text-anchor="middle" fill="#000" >Temperature (K)</text>
<text transform="translate(772,1057) rotate(-90)" font-size="39" text-anchor="middle" fill="#646464">M (&#181;<tspan font-size="23" dy="8.9">B</tspan><tspan dy="-8.9">/f.u.)</tspan></text>
<text transform="translate(1310.3,1084) rotate(90)" font-size="38.9" text-anchor="middle" fill="#F5A31D">CP splitting (meV)</text></g>
<g id="panel-c"><polyline fill="none" stroke="#E0243A" stroke-width="1.3" points="1844.7,108.6 1844.7,115.3 1844.7,121.7 1846,128 1844.1,134.4 1847.3,140.1 1847.3,146.4 1843.5,152.8 1842.2,158.9 1847.3,165.2" />
<path fill="#E0243A" d="M1840.1 108.6a4.65 4.65 0 1 0 9.3 0a4.65 4.65 0 1 0 -9.3 0zM1840.1 115.3a4.65 4.65 0 1 0 9.3 0a4.65 4.65 0 1 0 -9.3 0zM1840.1 121.7a4.65 4.65 0 1 0 9.3 0a4.65 4.65 0 1 0 -9.3 0zM1841.3 128a4.65 4.65 0 1 0 9.3 0a4.65 4.65 0 1 0 -9.3 0zM1839.4 134.4a4.65 4.65 0 1 0 9.3 0a4.65 4.65 0 1 0 -9.3 0zM1842.6 140.1a4.65 4.65 0 1 0 9.3 0a4.65 4.65 0 1 0 -9.3 0zM1842.6 146.4a4.65 4.65 0 1 0 9.3 0a4.65 4.65 0 1 0 -9.3 0zM1838.8 152.8a4.65 4.65 0 1 0 9.3 0a4.65 4.65 0 1 0 -9.3 0zM1837.5 158.9a4.65 4.65 0 1 0 9.3 0a4.65 4.65 0 1 0 -9.3 0zM1842.6 165.2a4.65 4.65 0 1 0 9.3 0a4.65 4.65 0 1 0 -9.3 0z" />
<polyline fill="none" stroke="#2356A6" stroke-width="1.3" points="1852.3,108.6 1844.1,115.3 1852,121.7 1845.4,128 1850.8,134 1847.9,140.1 1848.3,146.4 1849.2,152.8 1847.9,159.1 1847.3,165.2" />
<path fill="#2356A6" d="M1847.7 108.6a4.65 4.65 0 1 0 9.3 0a4.65 4.65 0 1 0 -9.3 0zM1839.4 115.3a4.65 4.65 0 1 0 9.3 0a4.65 4.65 0 1 0 -9.3 0zM1847.3 121.7a4.65 4.65 0 1 0 9.3 0a4.65 4.65 0 1 0 -9.3 0zM1840.7 128a4.65 4.65 0 1 0 9.3 0a4.65 4.65 0 1 0 -9.3 0zM1846.2 134a4.65 4.65 0 1 0 9.3 0a4.65 4.65 0 1 0 -9.3 0zM1843.2 140.1a4.65 4.65 0 1 0 9.3 0a4.65 4.65 0 1 0 -9.3 0zM1843.6 146.4a4.65 4.65 0 1 0 9.3 0a4.65 4.65 0 1 0 -9.3 0zM1844.5 152.8a4.65 4.65 0 1 0 9.3 0a4.65 4.65 0 1 0 -9.3 0zM1843.2 159.1a4.65 4.65 0 1 0 9.3 0a4.65 4.65 0 1 0 -9.3 0zM1842.6 165.2a4.65 4.65 0 1 0 9.3 0a4.65 4.65 0 1 0 -9.3 0z" />
<rect x="1505.3" y="102.3" width="441.7" height="70" fill="none" stroke="#000" stroke-width="3.6"/>
<line x1="1505.3" y1="109.2" x2="1512.9" y2="109.2" stroke="#000" stroke-width="3.8" />
<line x1="1947" y1="109.2" x2="1939.4" y2="109.2" stroke="#000" stroke-width="3.8" />
<line x1="1505.3" y1="165.9" x2="1512.9" y2="165.9" stroke="#000" stroke-width="3.8" />
<line x1="1947" y1="165.9" x2="1939.4" y2="165.9" stroke="#000" stroke-width="3.8" />
<line x1="1553.7" y1="102.3" x2="1553.7" y2="109.7" stroke="#000" stroke-width="3.7" />
<line x1="1553.7" y1="172.3" x2="1553.7" y2="164.9" stroke="#000" stroke-width="3.7" />
<line x1="1674.5" y1="102.3" x2="1674.5" y2="109.7" stroke="#000" stroke-width="3.7" />
<line x1="1674.5" y1="172.3" x2="1674.5" y2="164.9" stroke="#000" stroke-width="3.7" />
<line x1="1795.2" y1="102.3" x2="1795.2" y2="109.7" stroke="#000" stroke-width="3.7" />
<line x1="1795.2" y1="172.3" x2="1795.2" y2="164.9" stroke="#000" stroke-width="3.7" />
<line x1="1915.9" y1="102.3" x2="1915.9" y2="109.7" stroke="#000" stroke-width="3.7" />
<line x1="1915.9" y1="172.3" x2="1915.9" y2="164.9" stroke="#000" stroke-width="3.7" />
<line x1="1614.1" y1="102.3" x2="1614.1" y2="107.1" stroke="#000" stroke-width="3.7" />
<line x1="1614.1" y1="172.3" x2="1614.1" y2="167.5" stroke="#000" stroke-width="3.7" />
<line x1="1734.9" y1="102.3" x2="1734.9" y2="107.1" stroke="#000" stroke-width="3.7" />
<line x1="1734.9" y1="172.3" x2="1734.9" y2="167.5" stroke="#000" stroke-width="3.7" />
<line x1="1855.5" y1="102.3" x2="1855.5" y2="107.1" stroke="#000" stroke-width="3.7" />
<line x1="1855.5" y1="172.3" x2="1855.5" y2="167.5" stroke="#000" stroke-width="3.7" />
<text x="1500.5" y="124.8" font-size="44" text-anchor="end" fill="#000" >9</text>
<text x="1500.5" y="180.9" font-size="44" text-anchor="end" fill="#000" >0</text>
<text x="1959.6" y="151.2" font-size="31.5" text-anchor="start" fill="#000" >100 K</text>
<polyline fill="none" stroke="#E0243A" stroke-width="1.3" points="1798.4,201.3 1794.6,207.4 1799.7,213.7 1804.5,220 1802.6,226.4 1806.6,232.7 1807.9,238.8 1804.5,245.2 1812.4,251.2 1806.6,257.5" />
<path fill="#E0243A" d="M1793.7 201.3a4.65 4.65 0 1 0 9.3 0a4.65 4.65 0 1 0 -9.3 0zM1789.9 207.4a4.65 4.65 0 1 0 9.3 0a4.65 4.65 0 1 0 -9.3 0zM1795 213.7a4.65 4.65 0 1 0 9.3 0a4.65 4.65 0 1 0 -9.3 0zM1799.8 220a4.65 4.65 0 1 0 9.3 0a4.65 4.65 0 1 0 -9.3 0zM1797.9 226.4a4.65 4.65 0 1 0 9.3 0a4.65 4.65 0 1 0 -9.3 0zM1802 232.7a4.65 4.65 0 1 0 9.3 0a4.65 4.65 0 1 0 -9.3 0zM1803.3 238.8a4.65 4.65 0 1 0 9.3 0a4.65 4.65 0 1 0 -9.3 0zM1799.8 245.2a4.65 4.65 0 1 0 9.3 0a4.65 4.65 0 1 0 -9.3 0zM1807.7 251.2a4.65 4.65 0 1 0 9.3 0a4.65 4.65 0 1 0 -9.3 0zM1802 257.5a4.65 4.65 0 1 0 9.3 0a4.65 4.65 0 1 0 -9.3 0z" />
<polyline fill="none" stroke="#2356A6" stroke-width="1.3" points="1818.3,201.3 1817.4,207.4 1814.3,213.7 1819.7,220 1809.8,226.4 1810.4,232.7 1807.9,238.8 1807,245.2 1805.4,251.2 1803.5,257.5" />
<path fill="#2356A6" d="M1813.7 201.3a4.65 4.65 0 1 0 9.3 0a4.65 4.65 0 1 0 -9.3 0zM1812.8 207.4a4.65 4.65 0 1 0 9.3 0a4.65 4.65 0 1 0 -9.3 0zM1809.6 213.7a4.65 4.65 0 1 0 9.3 0a4.65 4.65 0 1 0 -9.3 0zM1815.1 220a4.65 4.65 0 1 0 9.3 0a4.65 4.65 0 1 0 -9.3 0zM1805.2 226.4a4.65 4.65 0 1 0 9.3 0a4.65 4.65 0 1 0 -9.3 0zM1805.8 232.7a4.65 4.65 0 1 0 9.3 0a4.65 4.65 0 1 0 -9.3 0zM1803.3 238.8a4.65 4.65 0 1 0 9.3 0a4.65 4.65 0 1 0 -9.3 0zM1802.4 245.2a4.65 4.65 0 1 0 9.3 0a4.65 4.65 0 1 0 -9.3 0zM1800.7 251.2a4.65 4.65 0 1 0 9.3 0a4.65 4.65 0 1 0 -9.3 0zM1798.8 257.5a4.65 4.65 0 1 0 9.3 0a4.65 4.65 0 1 0 -9.3 0z" />
<rect x="1505.3" y="194.7" width="441.7" height="69.2" fill="none" stroke="#000" stroke-width="3.6"/>
<line x1="1505.3" y1="201.6" x2="1512.9" y2="201.6" stroke="#000" stroke-width="3.8" />
<line x1="1947" y1="201.6" x2="1939.4" y2="201.6" stroke="#000" stroke-width="3.8" />
<line x1="1505.3" y1="257.5" x2="1512.9" y2="257.5" stroke="#000" stroke-width="3.8" />
<line x1="1947" y1="257.5" x2="1939.4" y2="257.5" stroke="#000" stroke-width="3.8" />
<line x1="1553.7" y1="194.7" x2="1553.7" y2="202.1" stroke="#000" stroke-width="3.7" />
<line x1="1553.7" y1="263.9" x2="1553.7" y2="256.5" stroke="#000" stroke-width="3.7" />
<line x1="1674.5" y1="194.7" x2="1674.5" y2="202.1" stroke="#000" stroke-width="3.7" />
<line x1="1674.5" y1="263.9" x2="1674.5" y2="256.5" stroke="#000" stroke-width="3.7" />
<line x1="1795.2" y1="194.7" x2="1795.2" y2="202.1" stroke="#000" stroke-width="3.7" />
<line x1="1795.2" y1="263.9" x2="1795.2" y2="256.5" stroke="#000" stroke-width="3.7" />
<line x1="1915.9" y1="194.7" x2="1915.9" y2="202.1" stroke="#000" stroke-width="3.7" />
<line x1="1915.9" y1="263.9" x2="1915.9" y2="256.5" stroke="#000" stroke-width="3.7" />
<line x1="1614.1" y1="194.7" x2="1614.1" y2="199.5" stroke="#000" stroke-width="3.7" />
<line x1="1614.1" y1="263.9" x2="1614.1" y2="259.1" stroke="#000" stroke-width="3.7" />
<line x1="1734.9" y1="194.7" x2="1734.9" y2="199.5" stroke="#000" stroke-width="3.7" />
<line x1="1734.9" y1="263.9" x2="1734.9" y2="259.1" stroke="#000" stroke-width="3.7" />
<line x1="1855.5" y1="194.7" x2="1855.5" y2="199.5" stroke="#000" stroke-width="3.7" />
<line x1="1855.5" y1="263.9" x2="1855.5" y2="259.1" stroke="#000" stroke-width="3.7" />
<text x="1500.5" y="217.2" font-size="44" text-anchor="end" fill="#000" >9</text>
<text x="1500.5" y="272.5" font-size="44" text-anchor="end" fill="#000" >0</text>
<text x="1959.6" y="240.8" font-size="31.5" text-anchor="start" fill="#000" >85 K</text>
<polyline fill="none" stroke="#E0243A" stroke-width="1.3" points="1735.8,293.1 1729.2,299.3 1741.6,305.4 1742.8,311.7 1743.5,317.8 1749.8,323.8 1751.5,330.1 1752.7,336.5 1758.7,342.8 1763.1,349.2" />
<path fill="#E0243A" d="M1731.2 293.1a4.65 4.65 0 1 0 9.3 0a4.65 4.65 0 1 0 -9.3 0zM1724.6 299.3a4.65 4.65 0 1 0 9.3 0a4.65 4.65 0 1 0 -9.3 0zM1736.9 305.4a4.65 4.65 0 1 0 9.3 0a4.65 4.65 0 1 0 -9.3 0zM1738.2 311.7a4.65 4.65 0 1 0 9.3 0a4.65 4.65 0 1 0 -9.3 0zM1738.8 317.8a4.65 4.65 0 1 0 9.3 0a4.65 4.65 0 1 0 -9.3 0zM1745.2 323.8a4.65 4.65 0 1 0 9.3 0a4.65 4.65 0 1 0 -9.3 0zM1746.8 330.1a4.65 4.65 0 1 0 9.3 0a4.65 4.65 0 1 0 -9.3 0zM1748.1 336.5a4.65 4.65 0 1 0 9.3 0a4.65 4.65 0 1 0 -9.3 0zM1754.1 342.8a4.65 4.65 0 1 0 9.3 0a4.65 4.65 0 1 0 -9.3 0zM1758.5 349.2a4.65 4.65 0 1 0 9.3 0a4.65 4.65 0 1 0 -9.3 0z" />
<polyline fill="none" stroke="#2356A6" stroke-width="1.3" points="1797.4,293.1 1787.6,299.3 1792.3,305.4 1782.8,311.7 1780.3,317.8 1777.1,323.8 1769.5,330.1 1770.1,336.5 1769.5,342.8 1763.1,349.8" />
<path fill="#2356A6" d="M1792.8 293.1a4.65 4.65 0 1 0 9.3 0a4.65 4.65 0 1 0 -9.3 0zM1783 299.3a4.65 4.65 0 1 0 9.3 0a4.65 4.65 0 1 0 -9.3 0zM1787.7 305.4a4.65 4.65 0 1 0 9.3 0a4.65 4.65 0 1 0 -9.3 0zM1778.2 311.7a4.65 4.65 0 1 0 9.3 0a4.65 4.65 0 1 0 -9.3 0zM1775.6 317.8a4.65 4.65 0 1 0 9.3 0a4.65 4.65 0 1 0 -9.3 0zM1772.5 323.8a4.65 4.65 0 1 0 9.3 0a4.65 4.65 0 1 0 -9.3 0zM1764.8 330.1a4.65 4.65 0 1 0 9.3 0a4.65 4.65 0 1 0 -9.3 0zM1765.5 336.5a4.65 4.65 0 1 0 9.3 0a4.65 4.65 0 1 0 -9.3 0zM1764.8 342.8a4.65 4.65 0 1 0 9.3 0a4.65 4.65 0 1 0 -9.3 0zM1758.5 349.8a4.65 4.65 0 1 0 9.3 0a4.65 4.65 0 1 0 -9.3 0z" />
<rect x="1505.3" y="286.6" width="441.7" height="69.3" fill="none" stroke="#000" stroke-width="3.6"/>
<line x1="1505.3" y1="293.5" x2="1512.9" y2="293.5" stroke="#000" stroke-width="3.8" />
<line x1="1947" y1="293.5" x2="1939.4" y2="293.5" stroke="#000" stroke-width="3.8" />
<line x1="1505.3" y1="349.5" x2="1512.9" y2="349.5" stroke="#000" stroke-width="3.8" />
<line x1="1947" y1="349.5" x2="1939.4" y2="349.5" stroke="#000" stroke-width="3.8" />
<line x1="1553.7" y1="286.6" x2="1553.7" y2="294" stroke="#000" stroke-width="3.7" />
<line x1="1553.7" y1="355.9" x2="1553.7" y2="348.5" stroke="#000" stroke-width="3.7" />
<line x1="1674.5" y1="286.6" x2="1674.5" y2="294" stroke="#000" stroke-width="3.7" />
<line x1="1674.5" y1="355.9" x2="1674.5" y2="348.5" stroke="#000" stroke-width="3.7" />
<line x1="1795.2" y1="286.6" x2="1795.2" y2="294" stroke="#000" stroke-width="3.7" />
<line x1="1795.2" y1="355.9" x2="1795.2" y2="348.5" stroke="#000" stroke-width="3.7" />
<line x1="1915.9" y1="286.6" x2="1915.9" y2="294" stroke="#000" stroke-width="3.7" />
<line x1="1915.9" y1="355.9" x2="1915.9" y2="348.5" stroke="#000" stroke-width="3.7" />
<line x1="1614.1" y1="286.6" x2="1614.1" y2="291.4" stroke="#000" stroke-width="3.7" />
<line x1="1614.1" y1="355.9" x2="1614.1" y2="351.1" stroke="#000" stroke-width="3.7" />
<line x1="1734.9" y1="286.6" x2="1734.9" y2="291.4" stroke="#000" stroke-width="3.7" />
<line x1="1734.9" y1="355.9" x2="1734.9" y2="351.1" stroke="#000" stroke-width="3.7" />
<line x1="1855.5" y1="286.6" x2="1855.5" y2="291.4" stroke="#000" stroke-width="3.7" />
<line x1="1855.5" y1="355.9" x2="1855.5" y2="351.1" stroke="#000" stroke-width="3.7" />
<text x="1500.5" y="309.1" font-size="44" text-anchor="end" fill="#000" >9</text>
<text x="1500.5" y="364.5" font-size="44" text-anchor="end" fill="#000" >0</text>
<text x="1959.6" y="334.7" font-size="31.5" text-anchor="start" fill="#000" >70 K</text>
<polyline fill="none" stroke="#E0243A" stroke-width="1.3" points="1687,384.4 1690.8,390.4 1694,396.8 1701.3,402.9 1710.5,409.1 1714.9,415.2 1721.2,421.6 1732.3,427.9 1739.4,434.2 1747.9,441.2" />
<path fill="#E0243A" d="M1682.3 384.4a4.65 4.65 0 1 0 9.3 0a4.65 4.65 0 1 0 -9.3 0zM1686.1 390.4a4.65 4.65 0 1 0 9.3 0a4.65 4.65 0 1 0 -9.3 0zM1689.3 396.8a4.65 4.65 0 1 0 9.3 0a4.65 4.65 0 1 0 -9.3 0zM1696.7 402.9a4.65 4.65 0 1 0 9.3 0a4.65 4.65 0 1 0 -9.3 0zM1705.8 409.1a4.65 4.65 0 1 0 9.3 0a4.65 4.65 0 1 0 -9.3 0zM1710.3 415.2a4.65 4.65 0 1 0 9.3 0a4.65 4.65 0 1 0 -9.3 0zM1716.6 421.6a4.65 4.65 0 1 0 9.3 0a4.65 4.65 0 1 0 -9.3 0zM1727.6 427.9a4.65 4.65 0 1 0 9.3 0a4.65 4.65 0 1 0 -9.3 0zM1734.8 434.2a4.65 4.65 0 1 0 9.3 0a4.65 4.65 0 1 0 -9.3 0zM1743.3 441.2a4.65 4.65 0 1 0 9.3 0a4.65 4.65 0 1 0 -9.3 0z" />
<polyline fill="none" stroke="#2356A6" stroke-width="1.3" points="1804.4,384.4 1799.3,390.4 1796.2,396.8 1791.7,402.9 1782.8,409.1 1772.7,415.2 1768.2,421.6 1762.5,427.9 1754.6,434.2 1745.1,441.2" />
<path fill="#2356A6" d="M1799.8 384.4a4.65 4.65 0 1 0 9.3 0a4.65 4.65 0 1 0 -9.3 0zM1794.7 390.4a4.65 4.65 0 1 0 9.3 0a4.65 4.65 0 1 0 -9.3 0zM1791.5 396.8a4.65 4.65 0 1 0 9.3 0a4.65 4.65 0 1 0 -9.3 0zM1787.1 402.9a4.65 4.65 0 1 0 9.3 0a4.65 4.65 0 1 0 -9.3 0zM1778.2 409.1a4.65 4.65 0 1 0 9.3 0a4.65 4.65 0 1 0 -9.3 0zM1768 415.2a4.65 4.65 0 1 0 9.3 0a4.65 4.65 0 1 0 -9.3 0zM1763.6 421.6a4.65 4.65 0 1 0 9.3 0a4.65 4.65 0 1 0 -9.3 0zM1757.9 427.9a4.65 4.65 0 1 0 9.3 0a4.65 4.65 0 1 0 -9.3 0zM1750 434.2a4.65 4.65 0 1 0 9.3 0a4.65 4.65 0 1 0 -9.3 0zM1740.5 441.2a4.65 4.65 0 1 0 9.3 0a4.65 4.65 0 1 0 -9.3 0z" />
<rect x="1505.3" y="377.9" width="441.7" height="69.8" fill="none" stroke="#000" stroke-width="3.6"/>
<line x1="1505.3" y1="384.8" x2="1512.9" y2="384.8" stroke="#000" stroke-width="3.8" />
<line x1="1947" y1="384.8" x2="1939.4" y2="384.8" stroke="#000" stroke-width="3.8" />
<line x1="1505.3" y1="441.3" x2="1512.9" y2="441.3" stroke="#000" stroke-width="3.8" />
<line x1="1947" y1="441.3" x2="1939.4" y2="441.3" stroke="#000" stroke-width="3.8" />
<line x1="1553.7" y1="377.9" x2="1553.7" y2="385.3" stroke="#000" stroke-width="3.7" />
<line x1="1553.7" y1="447.7" x2="1553.7" y2="440.3" stroke="#000" stroke-width="3.7" />
<line x1="1674.5" y1="377.9" x2="1674.5" y2="385.3" stroke="#000" stroke-width="3.7" />
<line x1="1674.5" y1="447.7" x2="1674.5" y2="440.3" stroke="#000" stroke-width="3.7" />
<line x1="1795.2" y1="377.9" x2="1795.2" y2="385.3" stroke="#000" stroke-width="3.7" />
<line x1="1795.2" y1="447.7" x2="1795.2" y2="440.3" stroke="#000" stroke-width="3.7" />
<line x1="1915.9" y1="377.9" x2="1915.9" y2="385.3" stroke="#000" stroke-width="3.7" />
<line x1="1915.9" y1="447.7" x2="1915.9" y2="440.3" stroke="#000" stroke-width="3.7" />
<line x1="1614.1" y1="377.9" x2="1614.1" y2="382.7" stroke="#000" stroke-width="3.7" />
<line x1="1614.1" y1="447.7" x2="1614.1" y2="442.9" stroke="#000" stroke-width="3.7" />
<line x1="1734.9" y1="377.9" x2="1734.9" y2="382.7" stroke="#000" stroke-width="3.7" />
<line x1="1734.9" y1="447.7" x2="1734.9" y2="442.9" stroke="#000" stroke-width="3.7" />
<line x1="1855.5" y1="377.9" x2="1855.5" y2="382.7" stroke="#000" stroke-width="3.7" />
<line x1="1855.5" y1="447.7" x2="1855.5" y2="442.9" stroke="#000" stroke-width="3.7" />
<text x="1500.5" y="400.4" font-size="44" text-anchor="end" fill="#000" >9</text>
<text x="1500.5" y="456.3" font-size="44" text-anchor="end" fill="#000" >0</text>
<text x="1959.6" y="426.5" font-size="31.5" text-anchor="start" fill="#000" >60 K</text>
<polyline fill="none" stroke="#E0243A" stroke-width="1.3" points="1655.6,476.6 1658.4,482.9 1662.2,489 1670.1,495.3 1675.3,501.6 1684.7,507.7 1698.1,514.1 1710.2,520.4 1716.8,526.7 1733.9,533.1" />
<path fill="#E0243A" d="M1651 476.6a4.65 4.65 0 1 0 9.3 0a4.65 4.65 0 1 0 -9.3 0zM1653.7 482.9a4.65 4.65 0 1 0 9.3 0a4.65 4.65 0 1 0 -9.3 0zM1657.6 489a4.65 4.65 0 1 0 9.3 0a4.65 4.65 0 1 0 -9.3 0zM1665.4 495.3a4.65 4.65 0 1 0 9.3 0a4.65 4.65 0 1 0 -9.3 0zM1670.6 501.6a4.65 4.65 0 1 0 9.3 0a4.65 4.65 0 1 0 -9.3 0zM1680 507.7a4.65 4.65 0 1 0 9.3 0a4.65 4.65 0 1 0 -9.3 0zM1693.5 514.1a4.65 4.65 0 1 0 9.3 0a4.65 4.65 0 1 0 -9.3 0zM1705.5 520.4a4.65 4.65 0 1 0 9.3 0a4.65 4.65 0 1 0 -9.3 0zM1712.1 526.7a4.65 4.65 0 1 0 9.3 0a4.65 4.65 0 1 0 -9.3 0zM1729.3 533.1a4.65 4.65 0 1 0 9.3 0a4.65 4.65 0 1 0 -9.3 0z" />
<polyline fill="none" stroke="#2356A6" stroke-width="1.3" points="1824.1,476.6 1823.4,482.9 1816.7,489 1814.5,495.3 1801.6,501.6 1793.6,507.7 1783.8,514.1 1768.2,520.4 1754.2,526.7 1733.9,533.1" />
<path fill="#2356A6" d="M1819.4 476.6a4.65 4.65 0 1 0 9.3 0a4.65 4.65 0 1 0 -9.3 0zM1818.8 482.9a4.65 4.65 0 1 0 9.3 0a4.65 4.65 0 1 0 -9.3 0zM1812.1 489a4.65 4.65 0 1 0 9.3 0a4.65 4.65 0 1 0 -9.3 0zM1809.9 495.3a4.65 4.65 0 1 0 9.3 0a4.65 4.65 0 1 0 -9.3 0zM1796.9 501.6a4.65 4.65 0 1 0 9.3 0a4.65 4.65 0 1 0 -9.3 0zM1789 507.7a4.65 4.65 0 1 0 9.3 0a4.65 4.65 0 1 0 -9.3 0zM1779.2 514.1a4.65 4.65 0 1 0 9.3 0a4.65 4.65 0 1 0 -9.3 0zM1763.6 520.4a4.65 4.65 0 1 0 9.3 0a4.65 4.65 0 1 0 -9.3 0zM1749.6 526.7a4.65 4.65 0 1 0 9.3 0a4.65 4.65 0 1 0 -9.3 0zM1729.3 533.1a4.65 4.65 0 1 0 9.3 0a4.65 4.65 0 1 0 -9.3 0z" />
<rect x="1505.3" y="469.5" width="441.7" height="70.3" fill="none" stroke="#000" stroke-width="3.6"/>
<line x1="1505.3" y1="476.4" x2="1512.9" y2="476.4" stroke="#000" stroke-width="3.8" />
<line x1="1947" y1="476.4" x2="1939.4" y2="476.4" stroke="#000" stroke-width="3.8" />
<line x1="1505.3" y1="533.4" x2="1512.9" y2="533.4" stroke="#000" stroke-width="3.8" />
<line x1="1947" y1="533.4" x2="1939.4" y2="533.4" stroke="#000" stroke-width="3.8" />
<line x1="1553.7" y1="469.5" x2="1553.7" y2="476.9" stroke="#000" stroke-width="3.7" />
<line x1="1553.7" y1="539.8" x2="1553.7" y2="532.4" stroke="#000" stroke-width="3.7" />
<line x1="1674.5" y1="469.5" x2="1674.5" y2="476.9" stroke="#000" stroke-width="3.7" />
<line x1="1674.5" y1="539.8" x2="1674.5" y2="532.4" stroke="#000" stroke-width="3.7" />
<line x1="1795.2" y1="469.5" x2="1795.2" y2="476.9" stroke="#000" stroke-width="3.7" />
<line x1="1795.2" y1="539.8" x2="1795.2" y2="532.4" stroke="#000" stroke-width="3.7" />
<line x1="1915.9" y1="469.5" x2="1915.9" y2="476.9" stroke="#000" stroke-width="3.7" />
<line x1="1915.9" y1="539.8" x2="1915.9" y2="532.4" stroke="#000" stroke-width="3.7" />
<line x1="1614.1" y1="469.5" x2="1614.1" y2="474.3" stroke="#000" stroke-width="3.7" />
<line x1="1614.1" y1="539.8" x2="1614.1" y2="535" stroke="#000" stroke-width="3.7" />
<line x1="1734.9" y1="469.5" x2="1734.9" y2="474.3" stroke="#000" stroke-width="3.7" />
<line x1="1734.9" y1="539.8" x2="1734.9" y2="535" stroke="#000" stroke-width="3.7" />
<line x1="1855.5" y1="469.5" x2="1855.5" y2="474.3" stroke="#000" stroke-width="3.7" />
<line x1="1855.5" y1="539.8" x2="1855.5" y2="535" stroke="#000" stroke-width="3.7" />
<text x="1500.5" y="492" font-size="44" text-anchor="end" fill="#000" >9</text>
<text x="1500.5" y="548.4" font-size="44" text-anchor="end" fill="#000" >0</text>
<text x="1959.6" y="516.8" font-size="31.5" text-anchor="start" fill="#000" >55 K</text>
<polyline fill="none" stroke="#E0243A" stroke-width="1.3" points="1627.5,567.6 1634.3,574 1642.3,580.1 1647.6,586.4 1654.6,592.8 1664.5,599.1 1676.2,605.5 1693.3,611.5 1711.5,617.9 1730.4,624.2" />
<path fill="#E0243A" d="M1622.9 567.6a4.65 4.65 0 1 0 9.3 0a4.65 4.65 0 1 0 -9.3 0zM1629.6 574a4.65 4.65 0 1 0 9.3 0a4.65 4.65 0 1 0 -9.3 0zM1637.6 580.1a4.65 4.65 0 1 0 9.3 0a4.65 4.65 0 1 0 -9.3 0zM1643 586.4a4.65 4.65 0 1 0 9.3 0a4.65 4.65 0 1 0 -9.3 0zM1649.9 592.8a4.65 4.65 0 1 0 9.3 0a4.65 4.65 0 1 0 -9.3 0zM1659.8 599.1a4.65 4.65 0 1 0 9.3 0a4.65 4.65 0 1 0 -9.3 0zM1671.5 605.5a4.65 4.65 0 1 0 9.3 0a4.65 4.65 0 1 0 -9.3 0zM1688.7 611.5a4.65 4.65 0 1 0 9.3 0a4.65 4.65 0 1 0 -9.3 0zM1706.8 617.9a4.65 4.65 0 1 0 9.3 0a4.65 4.65 0 1 0 -9.3 0zM1725.7 624.2a4.65 4.65 0 1 0 9.3 0a4.65 4.65 0 1 0 -9.3 0z" />
<polyline fill="none" stroke="#2356A6" stroke-width="1.3" points="1838.9,567.6 1834.9,574 1829.4,580.1 1817.7,586.4 1808.8,592.8 1802.7,599.1 1790,605.5 1775.2,611.5 1756.4,617.9 1730.4,624.2" />
<path fill="#2356A6" d="M1834.3 567.6a4.65 4.65 0 1 0 9.3 0a4.65 4.65 0 1 0 -9.3 0zM1830.2 574a4.65 4.65 0 1 0 9.3 0a4.65 4.65 0 1 0 -9.3 0zM1824.8 580.1a4.65 4.65 0 1 0 9.3 0a4.65 4.65 0 1 0 -9.3 0zM1813.1 586.4a4.65 4.65 0 1 0 9.3 0a4.65 4.65 0 1 0 -9.3 0zM1804.2 592.8a4.65 4.65 0 1 0 9.3 0a4.65 4.65 0 1 0 -9.3 0zM1798.1 599.1a4.65 4.65 0 1 0 9.3 0a4.65 4.65 0 1 0 -9.3 0zM1785.4 605.5a4.65 4.65 0 1 0 9.3 0a4.65 4.65 0 1 0 -9.3 0zM1770.5 611.5a4.65 4.65 0 1 0 9.3 0a4.65 4.65 0 1 0 -9.3 0zM1751.8 617.9a4.65 4.65 0 1 0 9.3 0a4.65 4.65 0 1 0 -9.3 0zM1725.7 624.2a4.65 4.65 0 1 0 9.3 0a4.65 4.65 0 1 0 -9.3 0z" />
<rect x="1505.3" y="561.3" width="441.7" height="69.6" fill="none" stroke="#000" stroke-width="3.6"/>
<line x1="1505.3" y1="568.2" x2="1512.9" y2="568.2" stroke="#000" stroke-width="3.8" />
<line x1="1947" y1="568.2" x2="1939.4" y2="568.2" stroke="#000" stroke-width="3.8" />
<line x1="1505.3" y1="624.5" x2="1512.9" y2="624.5" stroke="#000" stroke-width="3.8" />
<line x1="1947" y1="624.5" x2="1939.4" y2="624.5" stroke="#000" stroke-width="3.8" />
<line x1="1553.7" y1="561.3" x2="1553.7" y2="568.7" stroke="#000" stroke-width="3.7" />
<line x1="1553.7" y1="630.9" x2="1553.7" y2="623.5" stroke="#000" stroke-width="3.7" />
<line x1="1674.5" y1="561.3" x2="1674.5" y2="568.7" stroke="#000" stroke-width="3.7" />
<line x1="1674.5" y1="630.9" x2="1674.5" y2="623.5" stroke="#000" stroke-width="3.7" />
<line x1="1795.2" y1="561.3" x2="1795.2" y2="568.7" stroke="#000" stroke-width="3.7" />
<line x1="1795.2" y1="630.9" x2="1795.2" y2="623.5" stroke="#000" stroke-width="3.7" />
<line x1="1915.9" y1="561.3" x2="1915.9" y2="568.7" stroke="#000" stroke-width="3.7" />
<line x1="1915.9" y1="630.9" x2="1915.9" y2="623.5" stroke="#000" stroke-width="3.7" />
<line x1="1614.1" y1="561.3" x2="1614.1" y2="566.1" stroke="#000" stroke-width="3.7" />
<line x1="1614.1" y1="630.9" x2="1614.1" y2="626.1" stroke="#000" stroke-width="3.7" />
<line x1="1734.9" y1="561.3" x2="1734.9" y2="566.1" stroke="#000" stroke-width="3.7" />
<line x1="1734.9" y1="630.9" x2="1734.9" y2="626.1" stroke="#000" stroke-width="3.7" />
<line x1="1855.5" y1="561.3" x2="1855.5" y2="566.1" stroke="#000" stroke-width="3.7" />
<line x1="1855.5" y1="630.9" x2="1855.5" y2="626.1" stroke="#000" stroke-width="3.7" />
<text x="1502.1" y="583.8" font-size="44" text-anchor="end" fill="#000" >9</text>
<text x="1502.1" y="639.5" font-size="44" text-anchor="end" fill="#000" >0</text>
<text x="1959.6" y="607.7" font-size="31.5" text-anchor="start" fill="#000" >52 K</text>
<polyline fill="none" stroke="#E0243A" stroke-width="1.3" points="1622.4,660 1625.8,663.5 1629,666.9 1631,671 1633.8,674.4 1637.2,678.5 1639.5,681.9 1641.7,685.3 1655.6,692.2 1665.2,697.6 1669.3,699.7 1673.4,701.7 1677.5,703.8 1681.6,705.8 1685.7,707.6 1689.8,709.3 1693.9,710.9 1698,712.3 1702.1,713.4 1706.2,714.5 1710.3,715.5 1714.4,716.6 1718.5,717.7 1723.3,718.8" />
<path fill="#E0243A" d="M1617.8 660a4.65 4.65 0 1 0 9.3 0a4.65 4.65 0 1 0 -9.3 0zM1621.2 663.5a4.65 4.65 0 1 0 9.3 0a4.65 4.65 0 1 0 -9.3 0zM1624.3 666.9a4.65 4.65 0 1 0 9.3 0a4.65 4.65 0 1 0 -9.3 0zM1626.4 671a4.65 4.65 0 1 0 9.3 0a4.65 4.65 0 1 0 -9.3 0zM1629.1 674.4a4.65 4.65 0 1 0 9.3 0a4.65 4.65 0 1 0 -9.3 0zM1632.5 678.5a4.65 4.65 0 1 0 9.3 0a4.65 4.65 0 1 0 -9.3 0zM1634.8 681.9a4.65 4.65 0 1 0 9.3 0a4.65 4.65 0 1 0 -9.3 0zM1637 685.3a4.65 4.65 0 1 0 9.3 0a4.65 4.65 0 1 0 -9.3 0zM1651 692.2a4.65 4.65 0 1 0 9.3 0a4.65 4.65 0 1 0 -9.3 0zM1660.5 697.6a4.65 4.65 0 1 0 9.3 0a4.65 4.65 0 1 0 -9.3 0zM1664.6 699.7a4.65 4.65 0 1 0 9.3 0a4.65 4.65 0 1 0 -9.3 0zM1668.8 701.7a4.65 4.65 0 1 0 9.3 0a4.65 4.65 0 1 0 -9.3 0zM1672.9 703.8a4.65 4.65 0 1 0 9.3 0a4.65 4.65 0 1 0 -9.3 0zM1677 705.8a4.65 4.65 0 1 0 9.3 0a4.65 4.65 0 1 0 -9.3 0zM1681.1 707.6a4.65 4.65 0 1 0 9.3 0a4.65 4.65 0 1 0 -9.3 0zM1685.2 709.3a4.65 4.65 0 1 0 9.3 0a4.65 4.65 0 1 0 -9.3 0zM1689.3 710.9a4.65 4.65 0 1 0 9.3 0a4.65 4.65 0 1 0 -9.3 0zM1693.4 712.3a4.65 4.65 0 1 0 9.3 0a4.65 4.65 0 1 0 -9.3 0zM1697.5 713.4a4.65 4.65 0 1 0 9.3 0a4.65 4.65 0 1 0 -9.3 0zM1701.6 714.5a4.65 4.65 0 1 0 9.3 0a4.65 4.65 0 1 0 -9.3 0zM1705.7 715.5a4.65 4.65 0 1 0 9.3 0a4.65 4.65 0 1 0 -9.3 0zM1709.8 716.6a4.65 4.65 0 1 0 9.3 0a4.65 4.65 0 1 0 -9.3 0zM1713.9 717.7a4.65 4.65 0 1 0 9.3 0a4.65 4.65 0 1 0 -9.3 0zM1718.7 718.8a4.65 4.65 0 1 0 9.3 0a4.65 4.65 0 1 0 -9.3 0z" />
<polyline fill="none" stroke="#2356A6" stroke-width="1.3" points="1827.2,660 1825.2,663.5 1822.4,666.9 1821.7,671 1819.7,674.4 1815.6,678.5 1812.9,681.2 1807.4,685.3 1797.1,692.2 1783.5,697.6 1778.7,699.7 1773.9,701.3 1769.1,703.1 1764.3,704.7 1759.5,706.5 1754.8,708.2 1750,709.8 1745.9,711.2 1741.8,712.5 1737.7,713.9 1733.6,715.3 1729.5,716.6 1726,717.9 1723.3,718.8" />
<path fill="#2356A6" d="M1822.6 660a4.65 4.65 0 1 0 9.3 0a4.65 4.65 0 1 0 -9.3 0zM1820.5 663.5a4.65 4.65 0 1 0 9.3 0a4.65 4.65 0 1 0 -9.3 0zM1817.8 666.9a4.65 4.65 0 1 0 9.3 0a4.65 4.65 0 1 0 -9.3 0zM1817.1 671a4.65 4.65 0 1 0 9.3 0a4.65 4.65 0 1 0 -9.3 0zM1815 674.4a4.65 4.65 0 1 0 9.3 0a4.65 4.65 0 1 0 -9.3 0zM1810.9 678.5a4.65 4.65 0 1 0 9.3 0a4.65 4.65 0 1 0 -9.3 0zM1808.2 681.2a4.65 4.65 0 1 0 9.3 0a4.65 4.65 0 1 0 -9.3 0zM1802.7 685.3a4.65 4.65 0 1 0 9.3 0a4.65 4.65 0 1 0 -9.3 0zM1792.5 692.2a4.65 4.65 0 1 0 9.3 0a4.65 4.65 0 1 0 -9.3 0zM1778.8 697.6a4.65 4.65 0 1 0 9.3 0a4.65 4.65 0 1 0 -9.3 0zM1774 699.7a4.65 4.65 0 1 0 9.3 0a4.65 4.65 0 1 0 -9.3 0zM1769.2 701.3a4.65 4.65 0 1 0 9.3 0a4.65 4.65 0 1 0 -9.3 0zM1764.5 703.1a4.65 4.65 0 1 0 9.3 0a4.65 4.65 0 1 0 -9.3 0zM1759.7 704.7a4.65 4.65 0 1 0 9.3 0a4.65 4.65 0 1 0 -9.3 0zM1754.9 706.5a4.65 4.65 0 1 0 9.3 0a4.65 4.65 0 1 0 -9.3 0zM1750.1 708.2a4.65 4.65 0 1 0 9.3 0a4.65 4.65 0 1 0 -9.3 0zM1745.3 709.8a4.65 4.65 0 1 0 9.3 0a4.65 4.65 0 1 0 -9.3 0zM1741.2 711.2a4.65 4.65 0 1 0 9.3 0a4.65 4.65 0 1 0 -9.3 0zM1737.1 712.5a4.65 4.65 0 1 0 9.3 0a4.65 4.65 0 1 0 -9.3 0zM1733 713.9a4.65 4.65 0 1 0 9.3 0a4.65 4.65 0 1 0 -9.3 0zM1728.9 715.3a4.65 4.65 0 1 0 9.3 0a4.65 4.65 0 1 0 -9.3 0zM1724.8 716.6a4.65 4.65 0 1 0 9.3 0a4.65 4.65 0 1 0 -9.3 0zM1721.4 717.9a4.65 4.65 0 1 0 9.3 0a4.65 4.65 0 1 0 -9.3 0zM1718.7 718.8a4.65 4.65 0 1 0 9.3 0a4.65 4.65 0 1 0 -9.3 0z" />
<rect x="1505.3" y="654.2" width="441.7" height="69.8" fill="none" stroke="#000" stroke-width="3.6"/>
<line x1="1505.3" y1="661.1" x2="1512.9" y2="661.1" stroke="#000" stroke-width="3.8" />
<line x1="1947" y1="661.1" x2="1939.4" y2="661.1" stroke="#000" stroke-width="3.8" />
<line x1="1505.3" y1="717.6" x2="1512.9" y2="717.6" stroke="#000" stroke-width="3.8" />
<line x1="1947" y1="717.6" x2="1939.4" y2="717.6" stroke="#000" stroke-width="3.8" />
<line x1="1553.7" y1="654.2" x2="1553.7" y2="661.6" stroke="#000" stroke-width="3.7" />
<line x1="1553.7" y1="724" x2="1553.7" y2="716.6" stroke="#000" stroke-width="3.7" />
<line x1="1674.5" y1="654.2" x2="1674.5" y2="661.6" stroke="#000" stroke-width="3.7" />
<line x1="1674.5" y1="724" x2="1674.5" y2="716.6" stroke="#000" stroke-width="3.7" />
<line x1="1795.2" y1="654.2" x2="1795.2" y2="661.6" stroke="#000" stroke-width="3.7" />
<line x1="1795.2" y1="724" x2="1795.2" y2="716.6" stroke="#000" stroke-width="3.7" />
<line x1="1915.9" y1="654.2" x2="1915.9" y2="661.6" stroke="#000" stroke-width="3.7" />
<line x1="1915.9" y1="724" x2="1915.9" y2="716.6" stroke="#000" stroke-width="3.7" />
<line x1="1614.1" y1="654.2" x2="1614.1" y2="659" stroke="#000" stroke-width="3.7" />
<line x1="1614.1" y1="724" x2="1614.1" y2="719.2" stroke="#000" stroke-width="3.7" />
<line x1="1734.9" y1="654.2" x2="1734.9" y2="659" stroke="#000" stroke-width="3.7" />
<line x1="1734.9" y1="724" x2="1734.9" y2="719.2" stroke="#000" stroke-width="3.7" />
<line x1="1855.5" y1="654.2" x2="1855.5" y2="659" stroke="#000" stroke-width="3.7" />
<line x1="1855.5" y1="724" x2="1855.5" y2="719.2" stroke="#000" stroke-width="3.7" />
<text x="1502.1" y="676.7" font-size="44" text-anchor="end" fill="#000" >9</text>
<text x="1502.1" y="732.6" font-size="44" text-anchor="end" fill="#000" >0</text>
<text x="1959.6" y="680.6" font-size="31.5" text-anchor="start" fill="#000" >50 K</text>
<text x="1960" y="715.6" font-size="31">(T<tspan font-size="21" dy="8">N</tspan><tspan dy="-8">)</tspan></text>
<polyline fill="none" stroke="#E0243A" stroke-width="1.3" points="1594.8,753 1598.2,758.5 1601.6,763.9 1604.4,768.1 1607.8,772.2 1614.6,777.6 1623.5,783.8 1632.4,789.9 1637.2,792.7 1642,795 1646.7,796.8 1651.5,798.4 1656.3,800.2 1661.1,802 1666.6,803.3 1672,804.4 1677.5,805.5 1683,806.5 1688.4,807.4 1710,809.1" />
<path fill="#E0243A" d="M1590.1 753a4.65 4.65 0 1 0 9.3 0a4.65 4.65 0 1 0 -9.3 0zM1593.6 758.5a4.65 4.65 0 1 0 9.3 0a4.65 4.65 0 1 0 -9.3 0zM1597 763.9a4.65 4.65 0 1 0 9.3 0a4.65 4.65 0 1 0 -9.3 0zM1599.7 768.1a4.65 4.65 0 1 0 9.3 0a4.65 4.65 0 1 0 -9.3 0zM1603.1 772.2a4.65 4.65 0 1 0 9.3 0a4.65 4.65 0 1 0 -9.3 0zM1610 777.6a4.65 4.65 0 1 0 9.3 0a4.65 4.65 0 1 0 -9.3 0zM1618.8 783.8a4.65 4.65 0 1 0 9.3 0a4.65 4.65 0 1 0 -9.3 0zM1627.7 789.9a4.65 4.65 0 1 0 9.3 0a4.65 4.65 0 1 0 -9.3 0zM1632.5 792.7a4.65 4.65 0 1 0 9.3 0a4.65 4.65 0 1 0 -9.3 0zM1637.3 795a4.65 4.65 0 1 0 9.3 0a4.65 4.65 0 1 0 -9.3 0zM1642.1 796.8a4.65 4.65 0 1 0 9.3 0a4.65 4.65 0 1 0 -9.3 0zM1646.9 798.4a4.65 4.65 0 1 0 9.3 0a4.65 4.65 0 1 0 -9.3 0zM1651.7 800.2a4.65 4.65 0 1 0 9.3 0a4.65 4.65 0 1 0 -9.3 0zM1656.4 802a4.65 4.65 0 1 0 9.3 0a4.65 4.65 0 1 0 -9.3 0zM1661.9 803.3a4.65 4.65 0 1 0 9.3 0a4.65 4.65 0 1 0 -9.3 0zM1667.4 804.4a4.65 4.65 0 1 0 9.3 0a4.65 4.65 0 1 0 -9.3 0zM1672.9 805.5a4.65 4.65 0 1 0 9.3 0a4.65 4.65 0 1 0 -9.3 0zM1678.3 806.5a4.65 4.65 0 1 0 9.3 0a4.65 4.65 0 1 0 -9.3 0zM1683.8 807.4a4.65 4.65 0 1 0 9.3 0a4.65 4.65 0 1 0 -9.3 0zM1705.4 809.1a4.65 4.65 0 1 0 9.3 0a4.65 4.65 0 1 0 -9.3 0z" />
<polyline fill="none" stroke="#2356A6" stroke-width="1.3" points="1854.6,753 1853.2,758.5 1851.8,763.9 1850.5,768.1 1849.8,772.8 1842.9,777.6 1833.4,784.5 1826.5,789.9 1823.8,792.7 1821.1,794.7 1814.2,796.8 1810.1,799.5 1801.2,800.9 1795.1,802.5 1788.2,804 1781.4,805.4 1774.6,806.6 1770.5,807.4 1743.1,809.1" />
<path fill="#2356A6" d="M1849.9 753a4.65 4.65 0 1 0 9.3 0a4.65 4.65 0 1 0 -9.3 0zM1848.5 758.5a4.65 4.65 0 1 0 9.3 0a4.65 4.65 0 1 0 -9.3 0zM1847.2 763.9a4.65 4.65 0 1 0 9.3 0a4.65 4.65 0 1 0 -9.3 0zM1845.8 768.1a4.65 4.65 0 1 0 9.3 0a4.65 4.65 0 1 0 -9.3 0zM1845.1 772.8a4.65 4.65 0 1 0 9.3 0a4.65 4.65 0 1 0 -9.3 0zM1838.3 777.6a4.65 4.65 0 1 0 9.3 0a4.65 4.65 0 1 0 -9.3 0zM1828.7 784.5a4.65 4.65 0 1 0 9.3 0a4.65 4.65 0 1 0 -9.3 0zM1821.9 789.9a4.65 4.65 0 1 0 9.3 0a4.65 4.65 0 1 0 -9.3 0zM1819.1 792.7a4.65 4.65 0 1 0 9.3 0a4.65 4.65 0 1 0 -9.3 0zM1816.4 794.7a4.65 4.65 0 1 0 9.3 0a4.65 4.65 0 1 0 -9.3 0zM1809.6 796.8a4.65 4.65 0 1 0 9.3 0a4.65 4.65 0 1 0 -9.3 0zM1805.5 799.5a4.65 4.65 0 1 0 9.3 0a4.65 4.65 0 1 0 -9.3 0zM1796.6 800.9a4.65 4.65 0 1 0 9.3 0a4.65 4.65 0 1 0 -9.3 0zM1790.4 802.5a4.65 4.65 0 1 0 9.3 0a4.65 4.65 0 1 0 -9.3 0zM1783.6 804a4.65 4.65 0 1 0 9.3 0a4.65 4.65 0 1 0 -9.3 0zM1776.8 805.4a4.65 4.65 0 1 0 9.3 0a4.65 4.65 0 1 0 -9.3 0zM1769.9 806.6a4.65 4.65 0 1 0 9.3 0a4.65 4.65 0 1 0 -9.3 0zM1765.8 807.4a4.65 4.65 0 1 0 9.3 0a4.65 4.65 0 1 0 -9.3 0zM1738.5 809.1a4.65 4.65 0 1 0 9.3 0a4.65 4.65 0 1 0 -9.3 0z" />
<rect x="1505.3" y="746.6" width="441.7" height="69.1" fill="none" stroke="#000" stroke-width="3.6"/>
<line x1="1505.3" y1="753.5" x2="1512.9" y2="753.5" stroke="#000" stroke-width="3.8" />
<line x1="1947" y1="753.5" x2="1939.4" y2="753.5" stroke="#000" stroke-width="3.8" />
<line x1="1505.3" y1="809.3" x2="1512.9" y2="809.3" stroke="#000" stroke-width="3.8" />
<line x1="1947" y1="809.3" x2="1939.4" y2="809.3" stroke="#000" stroke-width="3.8" />
<line x1="1553.7" y1="746.6" x2="1553.7" y2="754" stroke="#000" stroke-width="3.7" />
<line x1="1553.7" y1="815.7" x2="1553.7" y2="808.3" stroke="#000" stroke-width="3.7" />
<line x1="1674.5" y1="746.6" x2="1674.5" y2="754" stroke="#000" stroke-width="3.7" />
<line x1="1674.5" y1="815.7" x2="1674.5" y2="808.3" stroke="#000" stroke-width="3.7" />
<line x1="1795.2" y1="746.6" x2="1795.2" y2="754" stroke="#000" stroke-width="3.7" />
<line x1="1795.2" y1="815.7" x2="1795.2" y2="808.3" stroke="#000" stroke-width="3.7" />
<line x1="1915.9" y1="746.6" x2="1915.9" y2="754" stroke="#000" stroke-width="3.7" />
<line x1="1915.9" y1="815.7" x2="1915.9" y2="808.3" stroke="#000" stroke-width="3.7" />
<line x1="1614.1" y1="746.6" x2="1614.1" y2="751.4" stroke="#000" stroke-width="3.7" />
<line x1="1614.1" y1="815.7" x2="1614.1" y2="810.9" stroke="#000" stroke-width="3.7" />
<line x1="1734.9" y1="746.6" x2="1734.9" y2="751.4" stroke="#000" stroke-width="3.7" />
<line x1="1734.9" y1="815.7" x2="1734.9" y2="810.9" stroke="#000" stroke-width="3.7" />
<line x1="1855.5" y1="746.6" x2="1855.5" y2="751.4" stroke="#000" stroke-width="3.7" />
<line x1="1855.5" y1="815.7" x2="1855.5" y2="810.9" stroke="#000" stroke-width="3.7" />
<text x="1502.1" y="769.1" font-size="44" text-anchor="end" fill="#000" >9</text>
<text x="1502.1" y="824.3" font-size="44" text-anchor="end" fill="#000" >0</text>
<text x="1959.6" y="793.4" font-size="31.5" text-anchor="start" fill="#000" >48 K</text>
<polyline fill="none" stroke="#E0243A" stroke-width="1.3" points="1577.5,844.2 1581.3,848.7 1584.9,853.2 1588.7,858.3 1591,863.5 1593.2,868.9 1601.8,875.2 1614.1,881.9 1622.4,886 1629.2,889.1 1637,891.6 1644.9,894.3 1652.7,895.8 1661.7,897.6 1670.7,898.8 1687.6,901" />
<path fill="#E0243A" d="M1572.8 844.2a4.65 4.65 0 1 0 9.3 0a4.65 4.65 0 1 0 -9.3 0zM1576.7 848.7a4.65 4.65 0 1 0 9.3 0a4.65 4.65 0 1 0 -9.3 0zM1580.3 853.2a4.65 4.65 0 1 0 9.3 0a4.65 4.65 0 1 0 -9.3 0zM1584.1 858.3a4.65 4.65 0 1 0 9.3 0a4.65 4.65 0 1 0 -9.3 0zM1586.3 863.5a4.65 4.65 0 1 0 9.3 0a4.65 4.65 0 1 0 -9.3 0zM1588.6 868.9a4.65 4.65 0 1 0 9.3 0a4.65 4.65 0 1 0 -9.3 0zM1597.1 875.2a4.65 4.65 0 1 0 9.3 0a4.65 4.65 0 1 0 -9.3 0zM1609.5 881.9a4.65 4.65 0 1 0 9.3 0a4.65 4.65 0 1 0 -9.3 0zM1617.8 886a4.65 4.65 0 1 0 9.3 0a4.65 4.65 0 1 0 -9.3 0zM1624.5 889.1a4.65 4.65 0 1 0 9.3 0a4.65 4.65 0 1 0 -9.3 0zM1632.4 891.6a4.65 4.65 0 1 0 9.3 0a4.65 4.65 0 1 0 -9.3 0zM1640.2 894.3a4.65 4.65 0 1 0 9.3 0a4.65 4.65 0 1 0 -9.3 0zM1648.1 895.8a4.65 4.65 0 1 0 9.3 0a4.65 4.65 0 1 0 -9.3 0zM1657.1 897.6a4.65 4.65 0 1 0 9.3 0a4.65 4.65 0 1 0 -9.3 0zM1666.1 898.8a4.65 4.65 0 1 0 9.3 0a4.65 4.65 0 1 0 -9.3 0zM1682.9 901a4.65 4.65 0 1 0 9.3 0a4.65 4.65 0 1 0 -9.3 0z" />
<polyline fill="none" stroke="#2356A6" stroke-width="1.3" points="1858.3,844.2 1861.6,850.5 1857.1,857.2 1851.1,862.8 1842.1,868.9 1836.9,875.2 1830.2,881.5 1822.3,883.7 1816.7,887.5 1811.1,888.6 1802.1,892 1792,894.7 1780.8,896.5 1768.4,898.8 1750,901" />
<path fill="#2356A6" d="M1853.6 844.2a4.65 4.65 0 1 0 9.3 0a4.65 4.65 0 1 0 -9.3 0zM1857 850.5a4.65 4.65 0 1 0 9.3 0a4.65 4.65 0 1 0 -9.3 0zM1852.5 857.2a4.65 4.65 0 1 0 9.3 0a4.65 4.65 0 1 0 -9.3 0zM1846.4 862.8a4.65 4.65 0 1 0 9.3 0a4.65 4.65 0 1 0 -9.3 0zM1837.4 868.9a4.65 4.65 0 1 0 9.3 0a4.65 4.65 0 1 0 -9.3 0zM1832.3 875.2a4.65 4.65 0 1 0 9.3 0a4.65 4.65 0 1 0 -9.3 0zM1825.5 881.5a4.65 4.65 0 1 0 9.3 0a4.65 4.65 0 1 0 -9.3 0zM1817.7 883.7a4.65 4.65 0 1 0 9.3 0a4.65 4.65 0 1 0 -9.3 0zM1812.1 887.5a4.65 4.65 0 1 0 9.3 0a4.65 4.65 0 1 0 -9.3 0zM1806.4 888.6a4.65 4.65 0 1 0 9.3 0a4.65 4.65 0 1 0 -9.3 0zM1797.5 892a4.65 4.65 0 1 0 9.3 0a4.65 4.65 0 1 0 -9.3 0zM1787.4 894.7a4.65 4.65 0 1 0 9.3 0a4.65 4.65 0 1 0 -9.3 0zM1776.1 896.5a4.65 4.65 0 1 0 9.3 0a4.65 4.65 0 1 0 -9.3 0zM1763.8 898.8a4.65 4.65 0 1 0 9.3 0a4.65 4.65 0 1 0 -9.3 0zM1745.3 901a4.65 4.65 0 1 0 9.3 0a4.65 4.65 0 1 0 -9.3 0z" />
<rect x="1505.3" y="837.7" width="441.7" height="69.4" fill="none" stroke="#000" stroke-width="3.6"/>
<line x1="1505.3" y1="844.6" x2="1512.9" y2="844.6" stroke="#000" stroke-width="3.8" />
<line x1="1947" y1="844.6" x2="1939.4" y2="844.6" stroke="#000" stroke-width="3.8" />
<line x1="1505.3" y1="900.7" x2="1512.9" y2="900.7" stroke="#000" stroke-width="3.8" />
<line x1="1947" y1="900.7" x2="1939.4" y2="900.7" stroke="#000" stroke-width="3.8" />
<line x1="1553.7" y1="837.7" x2="1553.7" y2="845.1" stroke="#000" stroke-width="3.7" />
<line x1="1553.7" y1="907.1" x2="1553.7" y2="899.7" stroke="#000" stroke-width="3.7" />
<line x1="1674.5" y1="837.7" x2="1674.5" y2="845.1" stroke="#000" stroke-width="3.7" />
<line x1="1674.5" y1="907.1" x2="1674.5" y2="899.7" stroke="#000" stroke-width="3.7" />
<line x1="1795.2" y1="837.7" x2="1795.2" y2="845.1" stroke="#000" stroke-width="3.7" />
<line x1="1795.2" y1="907.1" x2="1795.2" y2="899.7" stroke="#000" stroke-width="3.7" />
<line x1="1915.9" y1="837.7" x2="1915.9" y2="845.1" stroke="#000" stroke-width="3.7" />
<line x1="1915.9" y1="907.1" x2="1915.9" y2="899.7" stroke="#000" stroke-width="3.7" />
<line x1="1614.1" y1="837.7" x2="1614.1" y2="842.5" stroke="#000" stroke-width="3.7" />
<line x1="1614.1" y1="907.1" x2="1614.1" y2="902.3" stroke="#000" stroke-width="3.7" />
<line x1="1734.9" y1="837.7" x2="1734.9" y2="842.5" stroke="#000" stroke-width="3.7" />
<line x1="1734.9" y1="907.1" x2="1734.9" y2="902.3" stroke="#000" stroke-width="3.7" />
<line x1="1855.5" y1="837.7" x2="1855.5" y2="842.5" stroke="#000" stroke-width="3.7" />
<line x1="1855.5" y1="907.1" x2="1855.5" y2="902.3" stroke="#000" stroke-width="3.7" />
<text x="1502.1" y="860.2" font-size="44" text-anchor="end" fill="#000" >9</text>
<text x="1502.1" y="915.7" font-size="44" text-anchor="end" fill="#000" >0</text>
<text x="1959.6" y="885.1" font-size="31.5" text-anchor="start" fill="#000" >46 K</text>
<polyline fill="none" stroke="#E0243A" stroke-width="1.3" points="1563.3,935.1 1565.8,940.3 1568.5,945.9 1571.4,951.5 1575.2,956 1578.6,961.6 1579.7,967.3 1583.6,972.9 1587.6,978.9 1597.7,985.9 1616.4,992" />
<path fill="#E0243A" d="M1558.7 935.1a4.65 4.65 0 1 0 9.3 0a4.65 4.65 0 1 0 -9.3 0zM1561.2 940.3a4.65 4.65 0 1 0 9.3 0a4.65 4.65 0 1 0 -9.3 0zM1563.9 945.9a4.65 4.65 0 1 0 9.3 0a4.65 4.65 0 1 0 -9.3 0zM1566.8 951.5a4.65 4.65 0 1 0 9.3 0a4.65 4.65 0 1 0 -9.3 0zM1570.6 956a4.65 4.65 0 1 0 9.3 0a4.65 4.65 0 1 0 -9.3 0zM1574 961.6a4.65 4.65 0 1 0 9.3 0a4.65 4.65 0 1 0 -9.3 0zM1575.1 967.3a4.65 4.65 0 1 0 9.3 0a4.65 4.65 0 1 0 -9.3 0zM1578.9 972.9a4.65 4.65 0 1 0 9.3 0a4.65 4.65 0 1 0 -9.3 0zM1583 978.9a4.65 4.65 0 1 0 9.3 0a4.65 4.65 0 1 0 -9.3 0zM1593.1 985.9a4.65 4.65 0 1 0 9.3 0a4.65 4.65 0 1 0 -9.3 0zM1611.7 992a4.65 4.65 0 1 0 9.3 0a4.65 4.65 0 1 0 -9.3 0z" />
<polyline fill="none" stroke="#2356A6" stroke-width="1.3" points="1893.1,935.1 1895.3,940.3 1896,945.9 1894.2,951.5 1892,958.3 1888.6,965 1884.1,971.8 1879.6,976.7 1867.3,985.2 1850.4,992" />
<path fill="#2356A6" d="M1888.4 935.1a4.65 4.65 0 1 0 9.3 0a4.65 4.65 0 1 0 -9.3 0zM1890.7 940.3a4.65 4.65 0 1 0 9.3 0a4.65 4.65 0 1 0 -9.3 0zM1891.4 945.9a4.65 4.65 0 1 0 9.3 0a4.65 4.65 0 1 0 -9.3 0zM1889.6 951.5a4.65 4.65 0 1 0 9.3 0a4.65 4.65 0 1 0 -9.3 0zM1887.3 958.3a4.65 4.65 0 1 0 9.3 0a4.65 4.65 0 1 0 -9.3 0zM1883.9 965a4.65 4.65 0 1 0 9.3 0a4.65 4.65 0 1 0 -9.3 0zM1879.4 971.8a4.65 4.65 0 1 0 9.3 0a4.65 4.65 0 1 0 -9.3 0zM1875 976.7a4.65 4.65 0 1 0 9.3 0a4.65 4.65 0 1 0 -9.3 0zM1862.6 985.2a4.65 4.65 0 1 0 9.3 0a4.65 4.65 0 1 0 -9.3 0zM1845.8 992a4.65 4.65 0 1 0 9.3 0a4.65 4.65 0 1 0 -9.3 0z" />
<rect x="1505.3" y="928.6" width="441.7" height="70.1" fill="none" stroke="#000" stroke-width="3.6"/>
<line x1="1505.3" y1="935.5" x2="1512.9" y2="935.5" stroke="#000" stroke-width="3.8" />
<line x1="1947" y1="935.5" x2="1939.4" y2="935.5" stroke="#000" stroke-width="3.8" />
<line x1="1505.3" y1="992.3" x2="1512.9" y2="992.3" stroke="#000" stroke-width="3.8" />
<line x1="1947" y1="992.3" x2="1939.4" y2="992.3" stroke="#000" stroke-width="3.8" />
<line x1="1553.7" y1="928.6" x2="1553.7" y2="936" stroke="#000" stroke-width="3.7" />
<line x1="1553.7" y1="998.7" x2="1553.7" y2="991.3" stroke="#000" stroke-width="3.7" />
<line x1="1674.5" y1="928.6" x2="1674.5" y2="936" stroke="#000" stroke-width="3.7" />
<line x1="1674.5" y1="998.7" x2="1674.5" y2="991.3" stroke="#000" stroke-width="3.7" />
<line x1="1795.2" y1="928.6" x2="1795.2" y2="936" stroke="#000" stroke-width="3.7" />
<line x1="1795.2" y1="998.7" x2="1795.2" y2="991.3" stroke="#000" stroke-width="3.7" />
<line x1="1915.9" y1="928.6" x2="1915.9" y2="936" stroke="#000" stroke-width="3.7" />
<line x1="1915.9" y1="998.7" x2="1915.9" y2="991.3" stroke="#000" stroke-width="3.7" />
<line x1="1614.1" y1="928.6" x2="1614.1" y2="933.4" stroke="#000" stroke-width="3.7" />
<line x1="1614.1" y1="998.7" x2="1614.1" y2="993.9" stroke="#000" stroke-width="3.7" />
<line x1="1734.9" y1="928.6" x2="1734.9" y2="933.4" stroke="#000" stroke-width="3.7" />
<line x1="1734.9" y1="998.7" x2="1734.9" y2="993.9" stroke="#000" stroke-width="3.7" />
<line x1="1855.5" y1="928.6" x2="1855.5" y2="933.4" stroke="#000" stroke-width="3.7" />
<line x1="1855.5" y1="998.7" x2="1855.5" y2="993.9" stroke="#000" stroke-width="3.7" />
<text x="1502.1" y="951.1" font-size="44" text-anchor="end" fill="#000" >9</text>
<text x="1502.1" y="1007.3" font-size="44" text-anchor="end" fill="#000" >0</text>
<text x="1959.6" y="974.9" font-size="31.5" text-anchor="start" fill="#000" >43 K</text>
<polyline fill="none" stroke="#E0243A" stroke-width="1.3" points="1546.5,1026.8 1551.7,1032.5 1556.2,1038.8 1560.2,1045.3 1565.8,1051.6 1570.8,1057.8 1574.6,1063.9 1578.2,1070.2 1582,1076.7 1589.8,1083.5" />
<path fill="#E0243A" d="M1541.8 1026.8a4.65 4.65 0 1 0 9.3 0a4.65 4.65 0 1 0 -9.3 0zM1547 1032.5a4.65 4.65 0 1 0 9.3 0a4.65 4.65 0 1 0 -9.3 0zM1551.5 1038.8a4.65 4.65 0 1 0 9.3 0a4.65 4.65 0 1 0 -9.3 0zM1555.5 1045.3a4.65 4.65 0 1 0 9.3 0a4.65 4.65 0 1 0 -9.3 0zM1561.2 1051.6a4.65 4.65 0 1 0 9.3 0a4.65 4.65 0 1 0 -9.3 0zM1566.1 1057.8a4.65 4.65 0 1 0 9.3 0a4.65 4.65 0 1 0 -9.3 0zM1569.9 1063.9a4.65 4.65 0 1 0 9.3 0a4.65 4.65 0 1 0 -9.3 0zM1573.5 1070.2a4.65 4.65 0 1 0 9.3 0a4.65 4.65 0 1 0 -9.3 0zM1577.3 1076.7a4.65 4.65 0 1 0 9.3 0a4.65 4.65 0 1 0 -9.3 0zM1585.2 1083.5a4.65 4.65 0 1 0 9.3 0a4.65 4.65 0 1 0 -9.3 0z" />
<polyline fill="none" stroke="#2356A6" stroke-width="1.3" points="1905.9,1026.8 1902.1,1032.5 1897.1,1039.2 1896,1045.5 1900.9,1051.6 1905.4,1058.3 1907,1063.9 1908.8,1070.2 1909.9,1076.7 1910.6,1083.5" />
<path fill="#2356A6" d="M1901.2 1026.8a4.65 4.65 0 1 0 9.3 0a4.65 4.65 0 1 0 -9.3 0zM1897.4 1032.5a4.65 4.65 0 1 0 9.3 0a4.65 4.65 0 1 0 -9.3 0zM1892.5 1039.2a4.65 4.65 0 1 0 9.3 0a4.65 4.65 0 1 0 -9.3 0zM1891.4 1045.5a4.65 4.65 0 1 0 9.3 0a4.65 4.65 0 1 0 -9.3 0zM1896.3 1051.6a4.65 4.65 0 1 0 9.3 0a4.65 4.65 0 1 0 -9.3 0zM1900.8 1058.3a4.65 4.65 0 1 0 9.3 0a4.65 4.65 0 1 0 -9.3 0zM1902.4 1063.9a4.65 4.65 0 1 0 9.3 0a4.65 4.65 0 1 0 -9.3 0zM1904.2 1070.2a4.65 4.65 0 1 0 9.3 0a4.65 4.65 0 1 0 -9.3 0zM1905.3 1076.7a4.65 4.65 0 1 0 9.3 0a4.65 4.65 0 1 0 -9.3 0zM1906 1083.5a4.65 4.65 0 1 0 9.3 0a4.65 4.65 0 1 0 -9.3 0z" />
<rect x="1505.3" y="1019.7" width="441.7" height="69.8" fill="none" stroke="#000" stroke-width="3.6"/>
<line x1="1505.3" y1="1026.6" x2="1512.9" y2="1026.6" stroke="#000" stroke-width="3.8" />
<line x1="1947" y1="1026.6" x2="1939.4" y2="1026.6" stroke="#000" stroke-width="3.8" />
<line x1="1505.3" y1="1083.1" x2="1512.9" y2="1083.1" stroke="#000" stroke-width="3.8" />
<line x1="1947" y1="1083.1" x2="1939.4" y2="1083.1" stroke="#000" stroke-width="3.8" />
<line x1="1553.7" y1="1019.7" x2="1553.7" y2="1027.1" stroke="#000" stroke-width="3.7" />
<line x1="1553.7" y1="1089.5" x2="1553.7" y2="1082.1" stroke="#000" stroke-width="3.7" />
<line x1="1674.5" y1="1019.7" x2="1674.5" y2="1027.1" stroke="#000" stroke-width="3.7" />
<line x1="1674.5" y1="1089.5" x2="1674.5" y2="1082.1" stroke="#000" stroke-width="3.7" />
<line x1="1795.2" y1="1019.7" x2="1795.2" y2="1027.1" stroke="#000" stroke-width="3.7" />
<line x1="1795.2" y1="1089.5" x2="1795.2" y2="1082.1" stroke="#000" stroke-width="3.7" />
<line x1="1915.9" y1="1019.7" x2="1915.9" y2="1027.1" stroke="#000" stroke-width="3.7" />
<line x1="1915.9" y1="1089.5" x2="1915.9" y2="1082.1" stroke="#000" stroke-width="3.7" />
<line x1="1614.1" y1="1019.7" x2="1614.1" y2="1024.5" stroke="#000" stroke-width="3.7" />
<line x1="1614.1" y1="1089.5" x2="1614.1" y2="1084.7" stroke="#000" stroke-width="3.7" />
<line x1="1734.9" y1="1019.7" x2="1734.9" y2="1024.5" stroke="#000" stroke-width="3.7" />
<line x1="1734.9" y1="1089.5" x2="1734.9" y2="1084.7" stroke="#000" stroke-width="3.7" />
<line x1="1855.5" y1="1019.7" x2="1855.5" y2="1024.5" stroke="#000" stroke-width="3.7" />
<line x1="1855.5" y1="1089.5" x2="1855.5" y2="1084.7" stroke="#000" stroke-width="3.7" />
<text x="1500.5" y="1042.2" font-size="44" text-anchor="end" fill="#000" >9</text>
<text x="1500.5" y="1098.1" font-size="44" text-anchor="end" fill="#000" >0</text>
<text x="1958.4" y="1064.4" font-size="31.5" text-anchor="start" fill="#000" >40 K</text>
<polyline fill="none" stroke="#E0243A" stroke-width="1.3" points="1522.9,1118.5 1528.1,1124.6 1533.2,1130.8 1538.2,1137.6 1543.8,1143.6 1549.4,1150.4 1555,1156.5 1560.2,1162.7 1565.1,1169 1569.6,1175.5" />
<path fill="#E0243A" d="M1518.3 1118.5a4.65 4.65 0 1 0 9.3 0a4.65 4.65 0 1 0 -9.3 0zM1523.4 1124.6a4.65 4.65 0 1 0 9.3 0a4.65 4.65 0 1 0 -9.3 0zM1528.6 1130.8a4.65 4.65 0 1 0 9.3 0a4.65 4.65 0 1 0 -9.3 0zM1533.5 1137.6a4.65 4.65 0 1 0 9.3 0a4.65 4.65 0 1 0 -9.3 0zM1539.2 1143.6a4.65 4.65 0 1 0 9.3 0a4.65 4.65 0 1 0 -9.3 0zM1544.8 1150.4a4.65 4.65 0 1 0 9.3 0a4.65 4.65 0 1 0 -9.3 0zM1550.4 1156.5a4.65 4.65 0 1 0 9.3 0a4.65 4.65 0 1 0 -9.3 0zM1555.5 1162.7a4.65 4.65 0 1 0 9.3 0a4.65 4.65 0 1 0 -9.3 0zM1560.5 1169a4.65 4.65 0 1 0 9.3 0a4.65 4.65 0 1 0 -9.3 0zM1565 1175.5a4.65 4.65 0 1 0 9.3 0a4.65 4.65 0 1 0 -9.3 0z" />
<polyline fill="none" stroke="#2356A6" stroke-width="1.3" points="1910.6,1118.5 1909.9,1124.6 1908.4,1131.3 1907,1137.6 1906.1,1144.1 1899.8,1150.4 1896.5,1156.5 1897.1,1162.7 1902.7,1169 1906.1,1175.5" />
<path fill="#2356A6" d="M1906 1118.5a4.65 4.65 0 1 0 9.3 0a4.65 4.65 0 1 0 -9.3 0zM1905.3 1124.6a4.65 4.65 0 1 0 9.3 0a4.65 4.65 0 1 0 -9.3 0zM1903.7 1131.3a4.65 4.65 0 1 0 9.3 0a4.65 4.65 0 1 0 -9.3 0zM1902.4 1137.6a4.65 4.65 0 1 0 9.3 0a4.65 4.65 0 1 0 -9.3 0zM1901.5 1144.1a4.65 4.65 0 1 0 9.3 0a4.65 4.65 0 1 0 -9.3 0zM1895.2 1150.4a4.65 4.65 0 1 0 9.3 0a4.65 4.65 0 1 0 -9.3 0zM1891.8 1156.5a4.65 4.65 0 1 0 9.3 0a4.65 4.65 0 1 0 -9.3 0zM1892.5 1162.7a4.65 4.65 0 1 0 9.3 0a4.65 4.65 0 1 0 -9.3 0zM1898.1 1169a4.65 4.65 0 1 0 9.3 0a4.65 4.65 0 1 0 -9.3 0zM1901.5 1175.5a4.65 4.65 0 1 0 9.3 0a4.65 4.65 0 1 0 -9.3 0z" />
<rect x="1505.3" y="1111.3" width="441.7" height="69.9" fill="none" stroke="#000" stroke-width="3.6"/>
<line x1="1505.3" y1="1118.2" x2="1512.9" y2="1118.2" stroke="#000" stroke-width="3.8" />
<line x1="1947" y1="1118.2" x2="1939.4" y2="1118.2" stroke="#000" stroke-width="3.8" />
<line x1="1505.3" y1="1174.8" x2="1512.9" y2="1174.8" stroke="#000" stroke-width="3.8" />
<line x1="1947" y1="1174.8" x2="1939.4" y2="1174.8" stroke="#000" stroke-width="3.8" />
<line x1="1553.7" y1="1111.3" x2="1553.7" y2="1118.7" stroke="#000" stroke-width="3.7" />
<line x1="1553.7" y1="1181.2" x2="1553.7" y2="1173.8" stroke="#000" stroke-width="3.7" />
<line x1="1674.5" y1="1111.3" x2="1674.5" y2="1118.7" stroke="#000" stroke-width="3.7" />
<line x1="1674.5" y1="1181.2" x2="1674.5" y2="1173.8" stroke="#000" stroke-width="3.7" />
<line x1="1795.2" y1="1111.3" x2="1795.2" y2="1118.7" stroke="#000" stroke-width="3.7" />
<line x1="1795.2" y1="1181.2" x2="1795.2" y2="1173.8" stroke="#000" stroke-width="3.7" />
<line x1="1915.9" y1="1111.3" x2="1915.9" y2="1118.7" stroke="#000" stroke-width="3.7" />
<line x1="1915.9" y1="1181.2" x2="1915.9" y2="1173.8" stroke="#000" stroke-width="3.7" />
<line x1="1614.1" y1="1111.3" x2="1614.1" y2="1116.1" stroke="#000" stroke-width="3.7" />
<line x1="1614.1" y1="1181.2" x2="1614.1" y2="1176.4" stroke="#000" stroke-width="3.7" />
<line x1="1734.9" y1="1111.3" x2="1734.9" y2="1116.1" stroke="#000" stroke-width="3.7" />
<line x1="1734.9" y1="1181.2" x2="1734.9" y2="1176.4" stroke="#000" stroke-width="3.7" />
<line x1="1855.5" y1="1111.3" x2="1855.5" y2="1116.1" stroke="#000" stroke-width="3.7" />
<line x1="1855.5" y1="1181.2" x2="1855.5" y2="1176.4" stroke="#000" stroke-width="3.7" />
<text x="1500.5" y="1133.8" font-size="44" text-anchor="end" fill="#000" >9</text>
<text x="1500.5" y="1189.8" font-size="44" text-anchor="end" fill="#000" >0</text>
<text x="1959.6" y="1155.7" font-size="31.5" text-anchor="start" fill="#000" >20 K</text>
<polyline fill="none" stroke="#E0243A" stroke-width="1.3" points="1520.3,1207.7 1523.2,1214.3 1528.9,1220.6 1535.2,1226.9 1541.8,1232.9 1547.6,1239.8 1553.3,1246.4 1559.1,1252.2 1563.4,1258.8 1566.8,1265.1" />
<path fill="#E0243A" d="M1515.6 1207.7a4.65 4.65 0 1 0 9.3 0a4.65 4.65 0 1 0 -9.3 0zM1518.5 1214.3a4.65 4.65 0 1 0 9.3 0a4.65 4.65 0 1 0 -9.3 0zM1524.3 1220.6a4.65 4.65 0 1 0 9.3 0a4.65 4.65 0 1 0 -9.3 0zM1530.6 1226.9a4.65 4.65 0 1 0 9.3 0a4.65 4.65 0 1 0 -9.3 0zM1537.2 1232.9a4.65 4.65 0 1 0 9.3 0a4.65 4.65 0 1 0 -9.3 0zM1542.9 1239.8a4.65 4.65 0 1 0 9.3 0a4.65 4.65 0 1 0 -9.3 0zM1548.7 1246.4a4.65 4.65 0 1 0 9.3 0a4.65 4.65 0 1 0 -9.3 0zM1554.4 1252.2a4.65 4.65 0 1 0 9.3 0a4.65 4.65 0 1 0 -9.3 0zM1558.7 1258.8a4.65 4.65 0 1 0 9.3 0a4.65 4.65 0 1 0 -9.3 0zM1562.2 1265.1a4.65 4.65 0 1 0 9.3 0a4.65 4.65 0 1 0 -9.3 0z" />
<polyline fill="none" stroke="#2356A6" stroke-width="1.3" points="1907.9,1207.7 1905,1214.3 1902.1,1220.6 1899.3,1226.9 1897.8,1233.5 1896.4,1239.8 1890.7,1246.4 1891.5,1252.2 1898.4,1258.8 1900.7,1265.1" />
<path fill="#2356A6" d="M1903.2 1207.7a4.65 4.65 0 1 0 9.3 0a4.65 4.65 0 1 0 -9.3 0zM1900.4 1214.3a4.65 4.65 0 1 0 9.3 0a4.65 4.65 0 1 0 -9.3 0zM1897.5 1220.6a4.65 4.65 0 1 0 9.3 0a4.65 4.65 0 1 0 -9.3 0zM1894.6 1226.9a4.65 4.65 0 1 0 9.3 0a4.65 4.65 0 1 0 -9.3 0zM1893.2 1233.5a4.65 4.65 0 1 0 9.3 0a4.65 4.65 0 1 0 -9.3 0zM1891.8 1239.8a4.65 4.65 0 1 0 9.3 0a4.65 4.65 0 1 0 -9.3 0zM1886 1246.4a4.65 4.65 0 1 0 9.3 0a4.65 4.65 0 1 0 -9.3 0zM1886.9 1252.2a4.65 4.65 0 1 0 9.3 0a4.65 4.65 0 1 0 -9.3 0zM1893.8 1258.8a4.65 4.65 0 1 0 9.3 0a4.65 4.65 0 1 0 -9.3 0zM1896.1 1265.1a4.65 4.65 0 1 0 9.3 0a4.65 4.65 0 1 0 -9.3 0z" />
<rect x="1505.3" y="1201.7" width="441.7" height="69.6" fill="none" stroke="#000" stroke-width="3.6"/>
<line x1="1505.3" y1="1208.6" x2="1512.9" y2="1208.6" stroke="#000" stroke-width="3.8" />
<line x1="1947" y1="1208.6" x2="1939.4" y2="1208.6" stroke="#000" stroke-width="3.8" />
<line x1="1505.3" y1="1264.9" x2="1512.9" y2="1264.9" stroke="#000" stroke-width="3.8" />
<line x1="1947" y1="1264.9" x2="1939.4" y2="1264.9" stroke="#000" stroke-width="3.8" />
<line x1="1553.7" y1="1201.7" x2="1553.7" y2="1209.1" stroke="#000" stroke-width="3.7" />
<line x1="1553.7" y1="1271.3" x2="1553.7" y2="1263.9" stroke="#000" stroke-width="3.7" />
<line x1="1674.5" y1="1201.7" x2="1674.5" y2="1209.1" stroke="#000" stroke-width="3.7" />
<line x1="1674.5" y1="1271.3" x2="1674.5" y2="1263.9" stroke="#000" stroke-width="3.7" />
<line x1="1795.2" y1="1201.7" x2="1795.2" y2="1209.1" stroke="#000" stroke-width="3.7" />
<line x1="1795.2" y1="1271.3" x2="1795.2" y2="1263.9" stroke="#000" stroke-width="3.7" />
<line x1="1915.9" y1="1201.7" x2="1915.9" y2="1209.1" stroke="#000" stroke-width="3.7" />
<line x1="1915.9" y1="1271.3" x2="1915.9" y2="1263.9" stroke="#000" stroke-width="3.7" />
<line x1="1614.1" y1="1201.7" x2="1614.1" y2="1206.5" stroke="#000" stroke-width="3.7" />
<line x1="1614.1" y1="1271.3" x2="1614.1" y2="1266.5" stroke="#000" stroke-width="3.7" />
<line x1="1734.9" y1="1201.7" x2="1734.9" y2="1206.5" stroke="#000" stroke-width="3.7" />
<line x1="1734.9" y1="1271.3" x2="1734.9" y2="1266.5" stroke="#000" stroke-width="3.7" />
<line x1="1855.5" y1="1201.7" x2="1855.5" y2="1206.5" stroke="#000" stroke-width="3.7" />
<line x1="1855.5" y1="1271.3" x2="1855.5" y2="1266.5" stroke="#000" stroke-width="3.7" />
<text x="1500.5" y="1224.2" font-size="44" text-anchor="end" fill="#000" >9</text>
<text x="1500.5" y="1279.9" font-size="44" text-anchor="end" fill="#000" >0</text>
<text x="1959.6" y="1248.2" font-size="31.5" text-anchor="start" fill="#000" >10 K</text>
<line x1="1693.2" y1="711.3" x2="1721.3" y2="716.8" stroke="#000" stroke-width="3.6" />
<line x1="1725.4" y1="716.8" x2="1750.7" y2="711.3" stroke="#000" stroke-width="3.6" />
<line x1="1663.8" y1="803.6" x2="1703.2" y2="809.8" stroke="#000" stroke-width="3.6" />
<line x1="1752" y1="809.8" x2="1799.2" y2="802.9" stroke="#000" stroke-width="3.6" />
<line x1="1643.8" y1="894.7" x2="1683.7" y2="900.6" stroke="#000" stroke-width="3.6" />
<line x1="1753.8" y1="900.6" x2="1802.1" y2="894.3" stroke="#000" stroke-width="3.6" />
<text x="1674.8" y="688.9" font-size="31">1.58 &#181;<tspan font-size="22" dy="9">B</tspan></text>
<text x="1674.8" y="787.3" font-size="31">2.54 &#181;<tspan font-size="22" dy="9">B</tspan></text>
<text x="1674.8" y="878.6" font-size="31">2.62 &#181;<tspan font-size="22" dy="9">B</tspan></text>
<text x="1553.7" y="1317.4" font-size="43.5" text-anchor="middle" fill="#000" >5.2</text>
<text x="1674.5" y="1317.4" font-size="43.5" text-anchor="middle" fill="#000" >5.6</text>
<text x="1795.2" y="1317.4" font-size="43.5" text-anchor="middle" fill="#000" >6.0</text>
<text x="1915.9" y="1317.4" font-size="43.5" text-anchor="middle" fill="#000" >6.4</text>
<text x="1725.3" y="1367.3" font-size="44" text-anchor="middle" fill="#000" >Energy (meV)</text>
<text transform="translate(1412,651) rotate(-90)" font-size="44.7" text-anchor="middle">Magnetic Field (T)</text>
<text x="1330.1" y="55" font-size="62" text-anchor="start" fill="#000" >(c)</text>
<line x1="1838.5" y1="43.5" x2="1895.5" y2="43.5" stroke="#E0243A" stroke-width="1.3" />
<circle cx="1867" cy="43.5" r="10.2" fill="#E0243A"/>
<text x="1909" y="52" font-size="30" text-anchor="start" fill="#000" >LR</text>
<line x1="1838.5" y1="77.5" x2="1895.5" y2="77.5" stroke="#2356A6" stroke-width="1.3" />
<circle cx="1867" cy="77.5" r="10.2" fill="#2356A6"/>
<text x="1909" y="86.2" font-size="30" text-anchor="start" fill="#000" >RL</text></g>
</svg></body></html>
